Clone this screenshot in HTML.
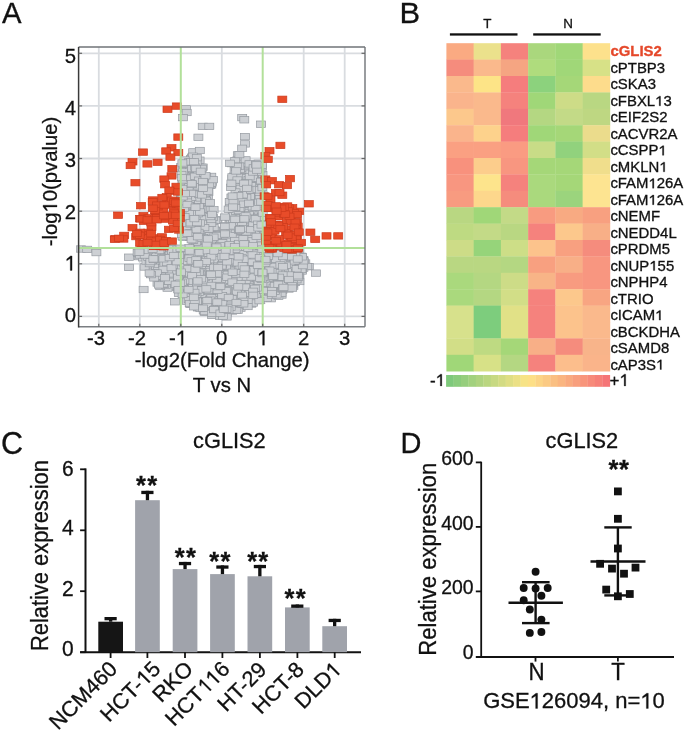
<!DOCTYPE html>
<html><head><meta charset="utf-8"><style>
html,body{margin:0;padding:0;background:#fff;width:685px;height:731px;overflow:hidden}
svg{display:block;will-change:transform}
text{font-family:"Liberation Sans", sans-serif;stroke-width:0.3px}
</style></head><body>
<svg width="685" height="731" viewBox="0 0 685 731">
<rect width="685" height="731" fill="#fff"/>
<text x="2.0" y="23.1" font-size="30.18" textLength="19.54" lengthAdjust="spacingAndGlyphs" fill="#111" stroke="#111">A</text>
<line x1="98.8" y1="47.0" x2="98.8" y2="326.8" stroke="#d9dce0" stroke-width="1.8"/>
<line x1="139.8" y1="47.0" x2="139.8" y2="326.8" stroke="#d9dce0" stroke-width="1.8"/>
<line x1="221.8" y1="47.0" x2="221.8" y2="326.8" stroke="#d9dce0" stroke-width="1.8"/>
<line x1="303.7" y1="47.0" x2="303.7" y2="326.8" stroke="#d9dce0" stroke-width="1.8"/>
<line x1="344.7" y1="47.0" x2="344.7" y2="326.8" stroke="#d9dce0" stroke-width="1.8"/>
<line x1="78.6" y1="316.4" x2="365.0" y2="316.4" stroke="#d9dce0" stroke-width="1.8"/>
<line x1="78.6" y1="263.8" x2="365.0" y2="263.8" stroke="#d9dce0" stroke-width="1.8"/>
<line x1="78.6" y1="211.2" x2="365.0" y2="211.2" stroke="#d9dce0" stroke-width="1.8"/>
<line x1="78.6" y1="158.5" x2="365.0" y2="158.5" stroke="#d9dce0" stroke-width="1.8"/>
<line x1="78.6" y1="105.9" x2="365.0" y2="105.9" stroke="#d9dce0" stroke-width="1.8"/>
<line x1="78.6" y1="53.3" x2="365.0" y2="53.3" stroke="#d9dce0" stroke-width="1.8"/>
<g>
<rect x="181.5" y="105.7" width="9.0" height="6.4" fill="#cdd0d4" stroke="#959aa0" stroke-width="0.7"/>
<rect x="182.2" y="109.3" width="9.0" height="6.4" fill="#cdd0d4" stroke="#959aa0" stroke-width="0.7"/>
<rect x="178.5" y="114.4" width="9.0" height="6.4" fill="#cdd0d4" stroke="#959aa0" stroke-width="0.7"/>
<rect x="198.2" y="123.2" width="9.0" height="6.4" fill="#cdd0d4" stroke="#959aa0" stroke-width="0.7"/>
<rect x="204.8" y="123.2" width="9.0" height="6.4" fill="#cdd0d4" stroke="#959aa0" stroke-width="0.7"/>
<rect x="193.9" y="134.1" width="9.0" height="6.4" fill="#cdd0d4" stroke="#959aa0" stroke-width="0.7"/>
<rect x="188.7" y="148.7" width="9.0" height="6.4" fill="#cdd0d4" stroke="#959aa0" stroke-width="0.7"/>
<rect x="195.3" y="147.3" width="9.0" height="6.4" fill="#cdd0d4" stroke="#959aa0" stroke-width="0.7"/>
<rect x="186.6" y="156.0" width="9.0" height="6.4" fill="#cdd0d4" stroke="#959aa0" stroke-width="0.7"/>
<rect x="185.1" y="160.4" width="9.0" height="6.4" fill="#cdd0d4" stroke="#959aa0" stroke-width="0.7"/>
<rect x="192.4" y="160.4" width="9.0" height="6.4" fill="#cdd0d4" stroke="#959aa0" stroke-width="0.7"/>
<rect x="196.8" y="164.1" width="9.0" height="6.4" fill="#cdd0d4" stroke="#959aa0" stroke-width="0.7"/>
<rect x="237.7" y="114.4" width="9.0" height="6.4" fill="#cdd0d4" stroke="#959aa0" stroke-width="0.7"/>
<rect x="239.8" y="116.6" width="9.0" height="6.4" fill="#cdd0d4" stroke="#959aa0" stroke-width="0.7"/>
<rect x="256.6" y="121.0" width="9.0" height="6.4" fill="#cdd0d4" stroke="#959aa0" stroke-width="0.7"/>
<rect x="240.6" y="133.4" width="9.0" height="6.4" fill="#cdd0d4" stroke="#959aa0" stroke-width="0.7"/>
<rect x="240.6" y="140.7" width="9.0" height="6.4" fill="#cdd0d4" stroke="#959aa0" stroke-width="0.7"/>
<rect x="237.7" y="145.1" width="9.0" height="6.4" fill="#cdd0d4" stroke="#959aa0" stroke-width="0.7"/>
<rect x="233.3" y="151.7" width="9.0" height="6.4" fill="#cdd0d4" stroke="#959aa0" stroke-width="0.7"/>
<rect x="227.4" y="160.4" width="9.0" height="6.4" fill="#cdd0d4" stroke="#959aa0" stroke-width="0.7"/>
<rect x="238.4" y="159.0" width="9.0" height="6.4" fill="#cdd0d4" stroke="#959aa0" stroke-width="0.7"/>
<rect x="255.2" y="161.1" width="9.0" height="6.4" fill="#cdd0d4" stroke="#959aa0" stroke-width="0.7"/>
<rect x="76.6" y="245.8" width="9.0" height="6.4" fill="#cdd0d4" stroke="#959aa0" stroke-width="0.7"/>
<rect x="82.7" y="246.2" width="9.0" height="6.4" fill="#cdd0d4" stroke="#959aa0" stroke-width="0.7"/>
<rect x="91.9" y="249.4" width="9.0" height="6.4" fill="#cdd0d4" stroke="#959aa0" stroke-width="0.7"/>
<rect x="124.6" y="254.0" width="9.0" height="6.4" fill="#cdd0d4" stroke="#959aa0" stroke-width="0.7"/>
<rect x="124.6" y="264.2" width="9.0" height="6.4" fill="#cdd0d4" stroke="#959aa0" stroke-width="0.7"/>
<rect x="139.1" y="286.3" width="9.0" height="6.4" fill="#cdd0d4" stroke="#959aa0" stroke-width="0.7"/>
<rect x="170.5" y="298.6" width="9.0" height="6.4" fill="#cdd0d4" stroke="#959aa0" stroke-width="0.7"/>
<rect x="298.7" y="260.3" width="9.0" height="6.4" fill="#cdd0d4" stroke="#959aa0" stroke-width="0.7"/>
<rect x="304.3" y="263.5" width="9.0" height="6.4" fill="#cdd0d4" stroke="#959aa0" stroke-width="0.7"/>
<rect x="311.5" y="269.9" width="9.0" height="6.4" fill="#cdd0d4" stroke="#959aa0" stroke-width="0.7"/>
<rect x="178.5" y="167.1" width="9.0" height="6.4" fill="#cdd0d4" stroke="#959aa0" stroke-width="0.7"/>
<rect x="248.4" y="206.2" width="9.0" height="6.4" fill="#cdd0d4" stroke="#959aa0" stroke-width="0.7"/>
<rect x="198.2" y="164.0" width="9.0" height="6.4" fill="#cdd0d4" stroke="#959aa0" stroke-width="0.7"/>
<rect x="277.1" y="291.8" width="9.0" height="6.4" fill="#cdd0d4" stroke="#959aa0" stroke-width="0.7"/>
<rect x="134.6" y="253.4" width="9.0" height="6.4" fill="#cdd0d4" stroke="#959aa0" stroke-width="0.7"/>
<rect x="146.0" y="253.9" width="9.0" height="6.4" fill="#cdd0d4" stroke="#959aa0" stroke-width="0.7"/>
<rect x="256.0" y="270.3" width="9.0" height="6.4" fill="#cdd0d4" stroke="#959aa0" stroke-width="0.7"/>
<rect x="246.8" y="300.8" width="9.0" height="6.4" fill="#cdd0d4" stroke="#959aa0" stroke-width="0.7"/>
<rect x="176.7" y="211.0" width="9.0" height="6.4" fill="#cdd0d4" stroke="#959aa0" stroke-width="0.7"/>
<rect x="240.8" y="281.1" width="9.0" height="6.4" fill="#cdd0d4" stroke="#959aa0" stroke-width="0.7"/>
<rect x="180.2" y="157.8" width="9.0" height="6.4" fill="#cdd0d4" stroke="#959aa0" stroke-width="0.7"/>
<rect x="202.8" y="238.5" width="9.0" height="6.4" fill="#cdd0d4" stroke="#959aa0" stroke-width="0.7"/>
<rect x="222.8" y="276.1" width="9.0" height="6.4" fill="#cdd0d4" stroke="#959aa0" stroke-width="0.7"/>
<rect x="278.4" y="282.3" width="9.0" height="6.4" fill="#cdd0d4" stroke="#959aa0" stroke-width="0.7"/>
<rect x="285.9" y="265.3" width="9.0" height="6.4" fill="#cdd0d4" stroke="#959aa0" stroke-width="0.7"/>
<rect x="261.0" y="287.6" width="9.0" height="6.4" fill="#cdd0d4" stroke="#959aa0" stroke-width="0.7"/>
<rect x="172.3" y="247.9" width="9.0" height="6.4" fill="#cdd0d4" stroke="#959aa0" stroke-width="0.7"/>
<rect x="232.3" y="260.9" width="9.0" height="6.4" fill="#cdd0d4" stroke="#959aa0" stroke-width="0.7"/>
<rect x="252.0" y="191.3" width="9.0" height="6.4" fill="#cdd0d4" stroke="#959aa0" stroke-width="0.7"/>
<rect x="245.7" y="278.2" width="9.0" height="6.4" fill="#cdd0d4" stroke="#959aa0" stroke-width="0.7"/>
<rect x="245.9" y="180.7" width="9.0" height="6.4" fill="#cdd0d4" stroke="#959aa0" stroke-width="0.7"/>
<rect x="161.9" y="251.8" width="9.0" height="6.4" fill="#cdd0d4" stroke="#959aa0" stroke-width="0.7"/>
<rect x="197.5" y="281.5" width="9.0" height="6.4" fill="#cdd0d4" stroke="#959aa0" stroke-width="0.7"/>
<rect x="271.5" y="247.4" width="9.0" height="6.4" fill="#cdd0d4" stroke="#959aa0" stroke-width="0.7"/>
<rect x="182.5" y="298.0" width="9.0" height="6.4" fill="#cdd0d4" stroke="#959aa0" stroke-width="0.7"/>
<rect x="252.3" y="223.7" width="9.0" height="6.4" fill="#cdd0d4" stroke="#959aa0" stroke-width="0.7"/>
<rect x="146.5" y="269.9" width="9.0" height="6.4" fill="#cdd0d4" stroke="#959aa0" stroke-width="0.7"/>
<rect x="143.2" y="261.9" width="9.0" height="6.4" fill="#cdd0d4" stroke="#959aa0" stroke-width="0.7"/>
<rect x="185.4" y="234.2" width="9.0" height="6.4" fill="#cdd0d4" stroke="#959aa0" stroke-width="0.7"/>
<rect x="226.7" y="283.3" width="9.0" height="6.4" fill="#cdd0d4" stroke="#959aa0" stroke-width="0.7"/>
<rect x="220.8" y="226.0" width="9.0" height="6.4" fill="#cdd0d4" stroke="#959aa0" stroke-width="0.7"/>
<rect x="175.5" y="265.7" width="9.0" height="6.4" fill="#cdd0d4" stroke="#959aa0" stroke-width="0.7"/>
<rect x="243.9" y="235.9" width="9.0" height="6.4" fill="#cdd0d4" stroke="#959aa0" stroke-width="0.7"/>
<rect x="268.4" y="264.1" width="9.0" height="6.4" fill="#cdd0d4" stroke="#959aa0" stroke-width="0.7"/>
<rect x="300.8" y="259.8" width="9.0" height="6.4" fill="#cdd0d4" stroke="#959aa0" stroke-width="0.7"/>
<rect x="178.7" y="233.9" width="9.0" height="6.4" fill="#cdd0d4" stroke="#959aa0" stroke-width="0.7"/>
<rect x="211.7" y="246.4" width="9.0" height="6.4" fill="#cdd0d4" stroke="#959aa0" stroke-width="0.7"/>
<rect x="227.3" y="215.7" width="9.0" height="6.4" fill="#cdd0d4" stroke="#959aa0" stroke-width="0.7"/>
<rect x="206.7" y="263.1" width="9.0" height="6.4" fill="#cdd0d4" stroke="#959aa0" stroke-width="0.7"/>
<rect x="204.5" y="180.8" width="9.0" height="6.4" fill="#cdd0d4" stroke="#959aa0" stroke-width="0.7"/>
<rect x="245.0" y="210.4" width="9.0" height="6.4" fill="#cdd0d4" stroke="#959aa0" stroke-width="0.7"/>
<rect x="186.9" y="228.2" width="9.0" height="6.4" fill="#cdd0d4" stroke="#959aa0" stroke-width="0.7"/>
<rect x="159.7" y="274.6" width="9.0" height="6.4" fill="#cdd0d4" stroke="#959aa0" stroke-width="0.7"/>
<rect x="241.0" y="209.9" width="9.0" height="6.4" fill="#cdd0d4" stroke="#959aa0" stroke-width="0.7"/>
<rect x="188.4" y="225.0" width="9.0" height="6.4" fill="#cdd0d4" stroke="#959aa0" stroke-width="0.7"/>
<rect x="195.1" y="277.3" width="9.0" height="6.4" fill="#cdd0d4" stroke="#959aa0" stroke-width="0.7"/>
<rect x="187.0" y="172.6" width="9.0" height="6.4" fill="#cdd0d4" stroke="#959aa0" stroke-width="0.7"/>
<rect x="230.2" y="275.2" width="9.0" height="6.4" fill="#cdd0d4" stroke="#959aa0" stroke-width="0.7"/>
<rect x="229.6" y="201.2" width="9.0" height="6.4" fill="#cdd0d4" stroke="#959aa0" stroke-width="0.7"/>
<rect x="212.6" y="310.0" width="9.0" height="6.4" fill="#cdd0d4" stroke="#959aa0" stroke-width="0.7"/>
<rect x="237.4" y="202.7" width="9.0" height="6.4" fill="#cdd0d4" stroke="#959aa0" stroke-width="0.7"/>
<rect x="219.5" y="265.8" width="9.0" height="6.4" fill="#cdd0d4" stroke="#959aa0" stroke-width="0.7"/>
<rect x="246.1" y="184.5" width="9.0" height="6.4" fill="#cdd0d4" stroke="#959aa0" stroke-width="0.7"/>
<rect x="287.1" y="276.6" width="9.0" height="6.4" fill="#cdd0d4" stroke="#959aa0" stroke-width="0.7"/>
<rect x="136.6" y="248.7" width="9.0" height="6.4" fill="#cdd0d4" stroke="#959aa0" stroke-width="0.7"/>
<rect x="156.8" y="262.2" width="9.0" height="6.4" fill="#cdd0d4" stroke="#959aa0" stroke-width="0.7"/>
<rect x="165.6" y="247.8" width="9.0" height="6.4" fill="#cdd0d4" stroke="#959aa0" stroke-width="0.7"/>
<rect x="189.0" y="167.8" width="9.0" height="6.4" fill="#cdd0d4" stroke="#959aa0" stroke-width="0.7"/>
<rect x="196.4" y="297.8" width="9.0" height="6.4" fill="#cdd0d4" stroke="#959aa0" stroke-width="0.7"/>
<rect x="214.7" y="256.8" width="9.0" height="6.4" fill="#cdd0d4" stroke="#959aa0" stroke-width="0.7"/>
<rect x="225.9" y="217.1" width="9.0" height="6.4" fill="#cdd0d4" stroke="#959aa0" stroke-width="0.7"/>
<rect x="162.8" y="256.6" width="9.0" height="6.4" fill="#cdd0d4" stroke="#959aa0" stroke-width="0.7"/>
<rect x="264.1" y="278.7" width="9.0" height="6.4" fill="#cdd0d4" stroke="#959aa0" stroke-width="0.7"/>
<rect x="200.3" y="263.5" width="9.0" height="6.4" fill="#cdd0d4" stroke="#959aa0" stroke-width="0.7"/>
<rect x="225.0" y="220.2" width="9.0" height="6.4" fill="#cdd0d4" stroke="#959aa0" stroke-width="0.7"/>
<rect x="189.8" y="277.7" width="9.0" height="6.4" fill="#cdd0d4" stroke="#959aa0" stroke-width="0.7"/>
<rect x="164.7" y="267.3" width="9.0" height="6.4" fill="#cdd0d4" stroke="#959aa0" stroke-width="0.7"/>
<rect x="238.5" y="218.2" width="9.0" height="6.4" fill="#cdd0d4" stroke="#959aa0" stroke-width="0.7"/>
<rect x="191.8" y="212.4" width="9.0" height="6.4" fill="#cdd0d4" stroke="#959aa0" stroke-width="0.7"/>
<rect x="179.3" y="164.7" width="9.0" height="6.4" fill="#cdd0d4" stroke="#959aa0" stroke-width="0.7"/>
<rect x="290.4" y="279.3" width="9.0" height="6.4" fill="#cdd0d4" stroke="#959aa0" stroke-width="0.7"/>
<rect x="280.3" y="261.9" width="9.0" height="6.4" fill="#cdd0d4" stroke="#959aa0" stroke-width="0.7"/>
<rect x="271.3" y="246.1" width="9.0" height="6.4" fill="#cdd0d4" stroke="#959aa0" stroke-width="0.7"/>
<rect x="275.8" y="282.6" width="9.0" height="6.4" fill="#cdd0d4" stroke="#959aa0" stroke-width="0.7"/>
<rect x="184.6" y="296.2" width="9.0" height="6.4" fill="#cdd0d4" stroke="#959aa0" stroke-width="0.7"/>
<rect x="264.8" y="246.7" width="9.0" height="6.4" fill="#cdd0d4" stroke="#959aa0" stroke-width="0.7"/>
<rect x="196.5" y="257.1" width="9.0" height="6.4" fill="#cdd0d4" stroke="#959aa0" stroke-width="0.7"/>
<rect x="228.4" y="208.0" width="9.0" height="6.4" fill="#cdd0d4" stroke="#959aa0" stroke-width="0.7"/>
<rect x="255.0" y="275.1" width="9.0" height="6.4" fill="#cdd0d4" stroke="#959aa0" stroke-width="0.7"/>
<rect x="251.6" y="281.6" width="9.0" height="6.4" fill="#cdd0d4" stroke="#959aa0" stroke-width="0.7"/>
<rect x="209.5" y="285.3" width="9.0" height="6.4" fill="#cdd0d4" stroke="#959aa0" stroke-width="0.7"/>
<rect x="199.2" y="307.5" width="9.0" height="6.4" fill="#cdd0d4" stroke="#959aa0" stroke-width="0.7"/>
<rect x="164.8" y="275.9" width="9.0" height="6.4" fill="#cdd0d4" stroke="#959aa0" stroke-width="0.7"/>
<rect x="193.5" y="196.8" width="9.0" height="6.4" fill="#cdd0d4" stroke="#959aa0" stroke-width="0.7"/>
<rect x="216.5" y="289.6" width="9.0" height="6.4" fill="#cdd0d4" stroke="#959aa0" stroke-width="0.7"/>
<rect x="254.1" y="277.6" width="9.0" height="6.4" fill="#cdd0d4" stroke="#959aa0" stroke-width="0.7"/>
<rect x="258.0" y="171.3" width="9.0" height="6.4" fill="#cdd0d4" stroke="#959aa0" stroke-width="0.7"/>
<rect x="258.0" y="285.8" width="9.0" height="6.4" fill="#cdd0d4" stroke="#959aa0" stroke-width="0.7"/>
<rect x="282.6" y="256.9" width="9.0" height="6.4" fill="#cdd0d4" stroke="#959aa0" stroke-width="0.7"/>
<rect x="210.6" y="241.5" width="9.0" height="6.4" fill="#cdd0d4" stroke="#959aa0" stroke-width="0.7"/>
<rect x="181.8" y="279.1" width="9.0" height="6.4" fill="#cdd0d4" stroke="#959aa0" stroke-width="0.7"/>
<rect x="248.4" y="224.6" width="9.0" height="6.4" fill="#cdd0d4" stroke="#959aa0" stroke-width="0.7"/>
<rect x="187.8" y="187.0" width="9.0" height="6.4" fill="#cdd0d4" stroke="#959aa0" stroke-width="0.7"/>
<rect x="226.3" y="281.7" width="9.0" height="6.4" fill="#cdd0d4" stroke="#959aa0" stroke-width="0.7"/>
<rect x="221.9" y="252.4" width="9.0" height="6.4" fill="#cdd0d4" stroke="#959aa0" stroke-width="0.7"/>
<rect x="163.8" y="275.2" width="9.0" height="6.4" fill="#cdd0d4" stroke="#959aa0" stroke-width="0.7"/>
<rect x="255.9" y="185.6" width="9.0" height="6.4" fill="#cdd0d4" stroke="#959aa0" stroke-width="0.7"/>
<rect x="189.3" y="223.2" width="9.0" height="6.4" fill="#cdd0d4" stroke="#959aa0" stroke-width="0.7"/>
<rect x="187.3" y="154.0" width="9.0" height="6.4" fill="#cdd0d4" stroke="#959aa0" stroke-width="0.7"/>
<rect x="156.4" y="277.2" width="9.0" height="6.4" fill="#cdd0d4" stroke="#959aa0" stroke-width="0.7"/>
<rect x="287.7" y="274.5" width="9.0" height="6.4" fill="#cdd0d4" stroke="#959aa0" stroke-width="0.7"/>
<rect x="176.1" y="252.0" width="9.0" height="6.4" fill="#cdd0d4" stroke="#959aa0" stroke-width="0.7"/>
<rect x="177.8" y="290.2" width="9.0" height="6.4" fill="#cdd0d4" stroke="#959aa0" stroke-width="0.7"/>
<rect x="245.3" y="285.0" width="9.0" height="6.4" fill="#cdd0d4" stroke="#959aa0" stroke-width="0.7"/>
<rect x="238.9" y="229.2" width="9.0" height="6.4" fill="#cdd0d4" stroke="#959aa0" stroke-width="0.7"/>
<rect x="250.0" y="220.9" width="9.0" height="6.4" fill="#cdd0d4" stroke="#959aa0" stroke-width="0.7"/>
<rect x="240.6" y="190.0" width="9.0" height="6.4" fill="#cdd0d4" stroke="#959aa0" stroke-width="0.7"/>
<rect x="183.3" y="160.3" width="9.0" height="6.4" fill="#cdd0d4" stroke="#959aa0" stroke-width="0.7"/>
<rect x="242.6" y="200.5" width="9.0" height="6.4" fill="#cdd0d4" stroke="#959aa0" stroke-width="0.7"/>
<rect x="232.4" y="221.3" width="9.0" height="6.4" fill="#cdd0d4" stroke="#959aa0" stroke-width="0.7"/>
<rect x="240.0" y="193.2" width="9.0" height="6.4" fill="#cdd0d4" stroke="#959aa0" stroke-width="0.7"/>
<rect x="207.5" y="289.9" width="9.0" height="6.4" fill="#cdd0d4" stroke="#959aa0" stroke-width="0.7"/>
<rect x="184.4" y="172.5" width="9.0" height="6.4" fill="#cdd0d4" stroke="#959aa0" stroke-width="0.7"/>
<rect x="179.3" y="190.7" width="9.0" height="6.4" fill="#cdd0d4" stroke="#959aa0" stroke-width="0.7"/>
<rect x="282.3" y="270.0" width="9.0" height="6.4" fill="#cdd0d4" stroke="#959aa0" stroke-width="0.7"/>
<rect x="209.7" y="294.4" width="9.0" height="6.4" fill="#cdd0d4" stroke="#959aa0" stroke-width="0.7"/>
<rect x="161.6" y="281.7" width="9.0" height="6.4" fill="#cdd0d4" stroke="#959aa0" stroke-width="0.7"/>
<rect x="203.6" y="303.5" width="9.0" height="6.4" fill="#cdd0d4" stroke="#959aa0" stroke-width="0.7"/>
<rect x="200.1" y="265.0" width="9.0" height="6.4" fill="#cdd0d4" stroke="#959aa0" stroke-width="0.7"/>
<rect x="274.7" y="281.4" width="9.0" height="6.4" fill="#cdd0d4" stroke="#959aa0" stroke-width="0.7"/>
<rect x="298.9" y="264.9" width="9.0" height="6.4" fill="#cdd0d4" stroke="#959aa0" stroke-width="0.7"/>
<rect x="227.9" y="175.4" width="9.0" height="6.4" fill="#cdd0d4" stroke="#959aa0" stroke-width="0.7"/>
<rect x="247.2" y="283.7" width="9.0" height="6.4" fill="#cdd0d4" stroke="#959aa0" stroke-width="0.7"/>
<rect x="280.5" y="266.4" width="9.0" height="6.4" fill="#cdd0d4" stroke="#959aa0" stroke-width="0.7"/>
<rect x="212.3" y="216.7" width="9.0" height="6.4" fill="#cdd0d4" stroke="#959aa0" stroke-width="0.7"/>
<rect x="257.3" y="163.7" width="9.0" height="6.4" fill="#cdd0d4" stroke="#959aa0" stroke-width="0.7"/>
<rect x="176.6" y="190.4" width="9.0" height="6.4" fill="#cdd0d4" stroke="#959aa0" stroke-width="0.7"/>
<rect x="245.4" y="164.9" width="9.0" height="6.4" fill="#cdd0d4" stroke="#959aa0" stroke-width="0.7"/>
<rect x="197.1" y="247.8" width="9.0" height="6.4" fill="#cdd0d4" stroke="#959aa0" stroke-width="0.7"/>
<rect x="251.2" y="225.0" width="9.0" height="6.4" fill="#cdd0d4" stroke="#959aa0" stroke-width="0.7"/>
<rect x="204.6" y="302.3" width="9.0" height="6.4" fill="#cdd0d4" stroke="#959aa0" stroke-width="0.7"/>
<rect x="211.2" y="228.3" width="9.0" height="6.4" fill="#cdd0d4" stroke="#959aa0" stroke-width="0.7"/>
<rect x="250.0" y="259.1" width="9.0" height="6.4" fill="#cdd0d4" stroke="#959aa0" stroke-width="0.7"/>
<rect x="186.4" y="155.7" width="9.0" height="6.4" fill="#cdd0d4" stroke="#959aa0" stroke-width="0.7"/>
<rect x="182.2" y="213.8" width="9.0" height="6.4" fill="#cdd0d4" stroke="#959aa0" stroke-width="0.7"/>
<rect x="204.9" y="295.2" width="9.0" height="6.4" fill="#cdd0d4" stroke="#959aa0" stroke-width="0.7"/>
<rect x="275.4" y="279.8" width="9.0" height="6.4" fill="#cdd0d4" stroke="#959aa0" stroke-width="0.7"/>
<rect x="192.7" y="201.0" width="9.0" height="6.4" fill="#cdd0d4" stroke="#959aa0" stroke-width="0.7"/>
<rect x="192.4" y="287.4" width="9.0" height="6.4" fill="#cdd0d4" stroke="#959aa0" stroke-width="0.7"/>
<rect x="206.7" y="297.6" width="9.0" height="6.4" fill="#cdd0d4" stroke="#959aa0" stroke-width="0.7"/>
<rect x="225.6" y="202.2" width="9.0" height="6.4" fill="#cdd0d4" stroke="#959aa0" stroke-width="0.7"/>
<rect x="189.4" y="191.2" width="9.0" height="6.4" fill="#cdd0d4" stroke="#959aa0" stroke-width="0.7"/>
<rect x="173.2" y="250.1" width="9.0" height="6.4" fill="#cdd0d4" stroke="#959aa0" stroke-width="0.7"/>
<rect x="254.2" y="215.6" width="9.0" height="6.4" fill="#cdd0d4" stroke="#959aa0" stroke-width="0.7"/>
<rect x="241.2" y="256.3" width="9.0" height="6.4" fill="#cdd0d4" stroke="#959aa0" stroke-width="0.7"/>
<rect x="270.3" y="263.0" width="9.0" height="6.4" fill="#cdd0d4" stroke="#959aa0" stroke-width="0.7"/>
<rect x="182.5" y="247.9" width="9.0" height="6.4" fill="#cdd0d4" stroke="#959aa0" stroke-width="0.7"/>
<rect x="198.4" y="242.7" width="9.0" height="6.4" fill="#cdd0d4" stroke="#959aa0" stroke-width="0.7"/>
<rect x="201.8" y="308.6" width="9.0" height="6.4" fill="#cdd0d4" stroke="#959aa0" stroke-width="0.7"/>
<rect x="195.1" y="224.5" width="9.0" height="6.4" fill="#cdd0d4" stroke="#959aa0" stroke-width="0.7"/>
<rect x="186.3" y="268.9" width="9.0" height="6.4" fill="#cdd0d4" stroke="#959aa0" stroke-width="0.7"/>
<rect x="299.1" y="258.6" width="9.0" height="6.4" fill="#cdd0d4" stroke="#959aa0" stroke-width="0.7"/>
<rect x="232.8" y="182.9" width="9.0" height="6.4" fill="#cdd0d4" stroke="#959aa0" stroke-width="0.7"/>
<rect x="194.9" y="206.6" width="9.0" height="6.4" fill="#cdd0d4" stroke="#959aa0" stroke-width="0.7"/>
<rect x="253.8" y="265.5" width="9.0" height="6.4" fill="#cdd0d4" stroke="#959aa0" stroke-width="0.7"/>
<rect x="238.9" y="228.7" width="9.0" height="6.4" fill="#cdd0d4" stroke="#959aa0" stroke-width="0.7"/>
<rect x="226.1" y="269.4" width="9.0" height="6.4" fill="#cdd0d4" stroke="#959aa0" stroke-width="0.7"/>
<rect x="246.1" y="290.6" width="9.0" height="6.4" fill="#cdd0d4" stroke="#959aa0" stroke-width="0.7"/>
<rect x="188.7" y="166.8" width="9.0" height="6.4" fill="#cdd0d4" stroke="#959aa0" stroke-width="0.7"/>
<rect x="229.0" y="255.0" width="9.0" height="6.4" fill="#cdd0d4" stroke="#959aa0" stroke-width="0.7"/>
<rect x="239.0" y="181.2" width="9.0" height="6.4" fill="#cdd0d4" stroke="#959aa0" stroke-width="0.7"/>
<rect x="209.1" y="226.4" width="9.0" height="6.4" fill="#cdd0d4" stroke="#959aa0" stroke-width="0.7"/>
<rect x="216.4" y="233.4" width="9.0" height="6.4" fill="#cdd0d4" stroke="#959aa0" stroke-width="0.7"/>
<rect x="191.4" y="241.6" width="9.0" height="6.4" fill="#cdd0d4" stroke="#959aa0" stroke-width="0.7"/>
<rect x="269.9" y="273.4" width="9.0" height="6.4" fill="#cdd0d4" stroke="#959aa0" stroke-width="0.7"/>
<rect x="205.9" y="181.4" width="9.0" height="6.4" fill="#cdd0d4" stroke="#959aa0" stroke-width="0.7"/>
<rect x="197.7" y="251.8" width="9.0" height="6.4" fill="#cdd0d4" stroke="#959aa0" stroke-width="0.7"/>
<rect x="183.5" y="204.0" width="9.0" height="6.4" fill="#cdd0d4" stroke="#959aa0" stroke-width="0.7"/>
<rect x="153.0" y="279.8" width="9.0" height="6.4" fill="#cdd0d4" stroke="#959aa0" stroke-width="0.7"/>
<rect x="206.8" y="181.6" width="9.0" height="6.4" fill="#cdd0d4" stroke="#959aa0" stroke-width="0.7"/>
<rect x="161.9" y="247.1" width="9.0" height="6.4" fill="#cdd0d4" stroke="#959aa0" stroke-width="0.7"/>
<rect x="210.8" y="227.1" width="9.0" height="6.4" fill="#cdd0d4" stroke="#959aa0" stroke-width="0.7"/>
<rect x="192.1" y="255.2" width="9.0" height="6.4" fill="#cdd0d4" stroke="#959aa0" stroke-width="0.7"/>
<rect x="200.8" y="207.9" width="9.0" height="6.4" fill="#cdd0d4" stroke="#959aa0" stroke-width="0.7"/>
<rect x="208.3" y="275.6" width="9.0" height="6.4" fill="#cdd0d4" stroke="#959aa0" stroke-width="0.7"/>
<rect x="182.2" y="273.5" width="9.0" height="6.4" fill="#cdd0d4" stroke="#959aa0" stroke-width="0.7"/>
<rect x="203.2" y="287.4" width="9.0" height="6.4" fill="#cdd0d4" stroke="#959aa0" stroke-width="0.7"/>
<rect x="205.7" y="234.3" width="9.0" height="6.4" fill="#cdd0d4" stroke="#959aa0" stroke-width="0.7"/>
<rect x="194.9" y="214.6" width="9.0" height="6.4" fill="#cdd0d4" stroke="#959aa0" stroke-width="0.7"/>
<rect x="254.8" y="208.9" width="9.0" height="6.4" fill="#cdd0d4" stroke="#959aa0" stroke-width="0.7"/>
<rect x="203.5" y="247.3" width="9.0" height="6.4" fill="#cdd0d4" stroke="#959aa0" stroke-width="0.7"/>
<rect x="210.1" y="308.4" width="9.0" height="6.4" fill="#cdd0d4" stroke="#959aa0" stroke-width="0.7"/>
<rect x="231.9" y="210.9" width="9.0" height="6.4" fill="#cdd0d4" stroke="#959aa0" stroke-width="0.7"/>
<rect x="240.8" y="208.4" width="9.0" height="6.4" fill="#cdd0d4" stroke="#959aa0" stroke-width="0.7"/>
<rect x="211.4" y="230.7" width="9.0" height="6.4" fill="#cdd0d4" stroke="#959aa0" stroke-width="0.7"/>
<rect x="193.1" y="280.4" width="9.0" height="6.4" fill="#cdd0d4" stroke="#959aa0" stroke-width="0.7"/>
<rect x="185.8" y="276.6" width="9.0" height="6.4" fill="#cdd0d4" stroke="#959aa0" stroke-width="0.7"/>
<rect x="242.1" y="162.6" width="9.0" height="6.4" fill="#cdd0d4" stroke="#959aa0" stroke-width="0.7"/>
<rect x="294.0" y="270.6" width="9.0" height="6.4" fill="#cdd0d4" stroke="#959aa0" stroke-width="0.7"/>
<rect x="231.6" y="203.1" width="9.0" height="6.4" fill="#cdd0d4" stroke="#959aa0" stroke-width="0.7"/>
<rect x="193.1" y="251.0" width="9.0" height="6.4" fill="#cdd0d4" stroke="#959aa0" stroke-width="0.7"/>
<rect x="257.0" y="165.5" width="9.0" height="6.4" fill="#cdd0d4" stroke="#959aa0" stroke-width="0.7"/>
<rect x="228.2" y="208.4" width="9.0" height="6.4" fill="#cdd0d4" stroke="#959aa0" stroke-width="0.7"/>
<rect x="293.5" y="274.4" width="9.0" height="6.4" fill="#cdd0d4" stroke="#959aa0" stroke-width="0.7"/>
<rect x="239.7" y="268.5" width="9.0" height="6.4" fill="#cdd0d4" stroke="#959aa0" stroke-width="0.7"/>
<rect x="237.1" y="271.0" width="9.0" height="6.4" fill="#cdd0d4" stroke="#959aa0" stroke-width="0.7"/>
<rect x="198.2" y="204.3" width="9.0" height="6.4" fill="#cdd0d4" stroke="#959aa0" stroke-width="0.7"/>
<rect x="203.5" y="266.7" width="9.0" height="6.4" fill="#cdd0d4" stroke="#959aa0" stroke-width="0.7"/>
<rect x="258.6" y="249.9" width="9.0" height="6.4" fill="#cdd0d4" stroke="#959aa0" stroke-width="0.7"/>
<rect x="287.8" y="281.1" width="9.0" height="6.4" fill="#cdd0d4" stroke="#959aa0" stroke-width="0.7"/>
<rect x="212.9" y="233.9" width="9.0" height="6.4" fill="#cdd0d4" stroke="#959aa0" stroke-width="0.7"/>
<rect x="222.2" y="310.1" width="9.0" height="6.4" fill="#cdd0d4" stroke="#959aa0" stroke-width="0.7"/>
<rect x="168.5" y="284.0" width="9.0" height="6.4" fill="#cdd0d4" stroke="#959aa0" stroke-width="0.7"/>
<rect x="195.1" y="157.0" width="9.0" height="6.4" fill="#cdd0d4" stroke="#959aa0" stroke-width="0.7"/>
<rect x="203.5" y="192.7" width="9.0" height="6.4" fill="#cdd0d4" stroke="#959aa0" stroke-width="0.7"/>
<rect x="202.4" y="237.5" width="9.0" height="6.4" fill="#cdd0d4" stroke="#959aa0" stroke-width="0.7"/>
<rect x="202.0" y="281.7" width="9.0" height="6.4" fill="#cdd0d4" stroke="#959aa0" stroke-width="0.7"/>
<rect x="191.2" y="172.3" width="9.0" height="6.4" fill="#cdd0d4" stroke="#959aa0" stroke-width="0.7"/>
<rect x="200.2" y="308.9" width="9.0" height="6.4" fill="#cdd0d4" stroke="#959aa0" stroke-width="0.7"/>
<rect x="171.3" y="282.4" width="9.0" height="6.4" fill="#cdd0d4" stroke="#959aa0" stroke-width="0.7"/>
<rect x="275.1" y="284.1" width="9.0" height="6.4" fill="#cdd0d4" stroke="#959aa0" stroke-width="0.7"/>
<rect x="230.2" y="297.1" width="9.0" height="6.4" fill="#cdd0d4" stroke="#959aa0" stroke-width="0.7"/>
<rect x="214.3" y="272.2" width="9.0" height="6.4" fill="#cdd0d4" stroke="#959aa0" stroke-width="0.7"/>
<rect x="245.7" y="244.4" width="9.0" height="6.4" fill="#cdd0d4" stroke="#959aa0" stroke-width="0.7"/>
<rect x="240.6" y="265.7" width="9.0" height="6.4" fill="#cdd0d4" stroke="#959aa0" stroke-width="0.7"/>
<rect x="158.3" y="265.3" width="9.0" height="6.4" fill="#cdd0d4" stroke="#959aa0" stroke-width="0.7"/>
<rect x="223.0" y="280.2" width="9.0" height="6.4" fill="#cdd0d4" stroke="#959aa0" stroke-width="0.7"/>
<rect x="239.8" y="244.0" width="9.0" height="6.4" fill="#cdd0d4" stroke="#959aa0" stroke-width="0.7"/>
<rect x="240.4" y="210.7" width="9.0" height="6.4" fill="#cdd0d4" stroke="#959aa0" stroke-width="0.7"/>
<rect x="248.1" y="199.7" width="9.0" height="6.4" fill="#cdd0d4" stroke="#959aa0" stroke-width="0.7"/>
<rect x="238.9" y="266.4" width="9.0" height="6.4" fill="#cdd0d4" stroke="#959aa0" stroke-width="0.7"/>
<rect x="229.1" y="201.7" width="9.0" height="6.4" fill="#cdd0d4" stroke="#959aa0" stroke-width="0.7"/>
<rect x="185.5" y="296.9" width="9.0" height="6.4" fill="#cdd0d4" stroke="#959aa0" stroke-width="0.7"/>
<rect x="247.5" y="262.8" width="9.0" height="6.4" fill="#cdd0d4" stroke="#959aa0" stroke-width="0.7"/>
<rect x="196.7" y="289.1" width="9.0" height="6.4" fill="#cdd0d4" stroke="#959aa0" stroke-width="0.7"/>
<rect x="240.2" y="197.8" width="9.0" height="6.4" fill="#cdd0d4" stroke="#959aa0" stroke-width="0.7"/>
<rect x="197.2" y="210.9" width="9.0" height="6.4" fill="#cdd0d4" stroke="#959aa0" stroke-width="0.7"/>
<rect x="249.5" y="268.7" width="9.0" height="6.4" fill="#cdd0d4" stroke="#959aa0" stroke-width="0.7"/>
<rect x="277.4" y="281.5" width="9.0" height="6.4" fill="#cdd0d4" stroke="#959aa0" stroke-width="0.7"/>
<rect x="239.9" y="219.7" width="9.0" height="6.4" fill="#cdd0d4" stroke="#959aa0" stroke-width="0.7"/>
<rect x="177.6" y="191.3" width="9.0" height="6.4" fill="#cdd0d4" stroke="#959aa0" stroke-width="0.7"/>
<rect x="254.0" y="230.6" width="9.0" height="6.4" fill="#cdd0d4" stroke="#959aa0" stroke-width="0.7"/>
<rect x="234.9" y="201.4" width="9.0" height="6.4" fill="#cdd0d4" stroke="#959aa0" stroke-width="0.7"/>
<rect x="245.0" y="248.0" width="9.0" height="6.4" fill="#cdd0d4" stroke="#959aa0" stroke-width="0.7"/>
<rect x="193.3" y="173.5" width="9.0" height="6.4" fill="#cdd0d4" stroke="#959aa0" stroke-width="0.7"/>
<rect x="195.1" y="247.0" width="9.0" height="6.4" fill="#cdd0d4" stroke="#959aa0" stroke-width="0.7"/>
<rect x="179.5" y="190.2" width="9.0" height="6.4" fill="#cdd0d4" stroke="#959aa0" stroke-width="0.7"/>
<rect x="224.7" y="304.6" width="9.0" height="6.4" fill="#cdd0d4" stroke="#959aa0" stroke-width="0.7"/>
<rect x="193.2" y="169.7" width="9.0" height="6.4" fill="#cdd0d4" stroke="#959aa0" stroke-width="0.7"/>
<rect x="251.5" y="249.6" width="9.0" height="6.4" fill="#cdd0d4" stroke="#959aa0" stroke-width="0.7"/>
<rect x="189.2" y="220.1" width="9.0" height="6.4" fill="#cdd0d4" stroke="#959aa0" stroke-width="0.7"/>
<rect x="193.5" y="244.3" width="9.0" height="6.4" fill="#cdd0d4" stroke="#959aa0" stroke-width="0.7"/>
<rect x="207.9" y="236.1" width="9.0" height="6.4" fill="#cdd0d4" stroke="#959aa0" stroke-width="0.7"/>
<rect x="184.4" y="190.2" width="9.0" height="6.4" fill="#cdd0d4" stroke="#959aa0" stroke-width="0.7"/>
<rect x="133.6" y="250.1" width="9.0" height="6.4" fill="#cdd0d4" stroke="#959aa0" stroke-width="0.7"/>
<rect x="256.7" y="192.6" width="9.0" height="6.4" fill="#cdd0d4" stroke="#959aa0" stroke-width="0.7"/>
<rect x="190.0" y="174.9" width="9.0" height="6.4" fill="#cdd0d4" stroke="#959aa0" stroke-width="0.7"/>
<rect x="234.1" y="179.8" width="9.0" height="6.4" fill="#cdd0d4" stroke="#959aa0" stroke-width="0.7"/>
<rect x="205.3" y="175.7" width="9.0" height="6.4" fill="#cdd0d4" stroke="#959aa0" stroke-width="0.7"/>
<rect x="226.7" y="277.4" width="9.0" height="6.4" fill="#cdd0d4" stroke="#959aa0" stroke-width="0.7"/>
<rect x="210.8" y="217.0" width="9.0" height="6.4" fill="#cdd0d4" stroke="#959aa0" stroke-width="0.7"/>
<rect x="294.6" y="254.8" width="9.0" height="6.4" fill="#cdd0d4" stroke="#959aa0" stroke-width="0.7"/>
<rect x="188.0" y="202.8" width="9.0" height="6.4" fill="#cdd0d4" stroke="#959aa0" stroke-width="0.7"/>
<rect x="285.4" y="254.8" width="9.0" height="6.4" fill="#cdd0d4" stroke="#959aa0" stroke-width="0.7"/>
<rect x="181.1" y="268.8" width="9.0" height="6.4" fill="#cdd0d4" stroke="#959aa0" stroke-width="0.7"/>
<rect x="181.0" y="208.0" width="9.0" height="6.4" fill="#cdd0d4" stroke="#959aa0" stroke-width="0.7"/>
<rect x="298.9" y="256.5" width="9.0" height="6.4" fill="#cdd0d4" stroke="#959aa0" stroke-width="0.7"/>
<rect x="261.4" y="263.3" width="9.0" height="6.4" fill="#cdd0d4" stroke="#959aa0" stroke-width="0.7"/>
<rect x="176.5" y="163.7" width="9.0" height="6.4" fill="#cdd0d4" stroke="#959aa0" stroke-width="0.7"/>
<rect x="226.9" y="194.0" width="9.0" height="6.4" fill="#cdd0d4" stroke="#959aa0" stroke-width="0.7"/>
<rect x="236.6" y="198.9" width="9.0" height="6.4" fill="#cdd0d4" stroke="#959aa0" stroke-width="0.7"/>
<rect x="263.1" y="280.4" width="9.0" height="6.4" fill="#cdd0d4" stroke="#959aa0" stroke-width="0.7"/>
<rect x="247.2" y="265.7" width="9.0" height="6.4" fill="#cdd0d4" stroke="#959aa0" stroke-width="0.7"/>
<rect x="203.9" y="189.3" width="9.0" height="6.4" fill="#cdd0d4" stroke="#959aa0" stroke-width="0.7"/>
<rect x="188.1" y="290.9" width="9.0" height="6.4" fill="#cdd0d4" stroke="#959aa0" stroke-width="0.7"/>
<rect x="246.8" y="222.3" width="9.0" height="6.4" fill="#cdd0d4" stroke="#959aa0" stroke-width="0.7"/>
<rect x="185.8" y="221.8" width="9.0" height="6.4" fill="#cdd0d4" stroke="#959aa0" stroke-width="0.7"/>
<rect x="189.8" y="181.4" width="9.0" height="6.4" fill="#cdd0d4" stroke="#959aa0" stroke-width="0.7"/>
<rect x="185.0" y="254.7" width="9.0" height="6.4" fill="#cdd0d4" stroke="#959aa0" stroke-width="0.7"/>
<rect x="198.0" y="220.1" width="9.0" height="6.4" fill="#cdd0d4" stroke="#959aa0" stroke-width="0.7"/>
<rect x="164.8" y="265.8" width="9.0" height="6.4" fill="#cdd0d4" stroke="#959aa0" stroke-width="0.7"/>
<rect x="231.3" y="297.6" width="9.0" height="6.4" fill="#cdd0d4" stroke="#959aa0" stroke-width="0.7"/>
<rect x="253.5" y="255.3" width="9.0" height="6.4" fill="#cdd0d4" stroke="#959aa0" stroke-width="0.7"/>
<rect x="207.8" y="296.9" width="9.0" height="6.4" fill="#cdd0d4" stroke="#959aa0" stroke-width="0.7"/>
<rect x="278.6" y="284.8" width="9.0" height="6.4" fill="#cdd0d4" stroke="#959aa0" stroke-width="0.7"/>
<rect x="191.9" y="232.8" width="9.0" height="6.4" fill="#cdd0d4" stroke="#959aa0" stroke-width="0.7"/>
<rect x="188.7" y="194.2" width="9.0" height="6.4" fill="#cdd0d4" stroke="#959aa0" stroke-width="0.7"/>
<rect x="145.3" y="260.4" width="9.0" height="6.4" fill="#cdd0d4" stroke="#959aa0" stroke-width="0.7"/>
<rect x="180.9" y="264.8" width="9.0" height="6.4" fill="#cdd0d4" stroke="#959aa0" stroke-width="0.7"/>
<rect x="290.5" y="247.4" width="9.0" height="6.4" fill="#cdd0d4" stroke="#959aa0" stroke-width="0.7"/>
<rect x="177.5" y="171.3" width="9.0" height="6.4" fill="#cdd0d4" stroke="#959aa0" stroke-width="0.7"/>
<rect x="228.4" y="234.8" width="9.0" height="6.4" fill="#cdd0d4" stroke="#959aa0" stroke-width="0.7"/>
<rect x="191.9" y="296.3" width="9.0" height="6.4" fill="#cdd0d4" stroke="#959aa0" stroke-width="0.7"/>
<rect x="176.7" y="258.1" width="9.0" height="6.4" fill="#cdd0d4" stroke="#959aa0" stroke-width="0.7"/>
<rect x="200.3" y="294.5" width="9.0" height="6.4" fill="#cdd0d4" stroke="#959aa0" stroke-width="0.7"/>
<rect x="266.4" y="295.5" width="9.0" height="6.4" fill="#cdd0d4" stroke="#959aa0" stroke-width="0.7"/>
<rect x="257.7" y="286.3" width="9.0" height="6.4" fill="#cdd0d4" stroke="#959aa0" stroke-width="0.7"/>
<rect x="138.4" y="254.6" width="9.0" height="6.4" fill="#cdd0d4" stroke="#959aa0" stroke-width="0.7"/>
<rect x="206.3" y="279.2" width="9.0" height="6.4" fill="#cdd0d4" stroke="#959aa0" stroke-width="0.7"/>
<rect x="219.6" y="299.8" width="9.0" height="6.4" fill="#cdd0d4" stroke="#959aa0" stroke-width="0.7"/>
<rect x="238.1" y="199.9" width="9.0" height="6.4" fill="#cdd0d4" stroke="#959aa0" stroke-width="0.7"/>
<rect x="202.2" y="285.1" width="9.0" height="6.4" fill="#cdd0d4" stroke="#959aa0" stroke-width="0.7"/>
<rect x="239.8" y="206.6" width="9.0" height="6.4" fill="#cdd0d4" stroke="#959aa0" stroke-width="0.7"/>
<rect x="257.9" y="222.5" width="9.0" height="6.4" fill="#cdd0d4" stroke="#959aa0" stroke-width="0.7"/>
<rect x="238.0" y="167.2" width="9.0" height="6.4" fill="#cdd0d4" stroke="#959aa0" stroke-width="0.7"/>
<rect x="177.0" y="211.3" width="9.0" height="6.4" fill="#cdd0d4" stroke="#959aa0" stroke-width="0.7"/>
<rect x="254.0" y="160.0" width="9.0" height="6.4" fill="#cdd0d4" stroke="#959aa0" stroke-width="0.7"/>
<rect x="214.7" y="294.5" width="9.0" height="6.4" fill="#cdd0d4" stroke="#959aa0" stroke-width="0.7"/>
<rect x="268.5" y="266.8" width="9.0" height="6.4" fill="#cdd0d4" stroke="#959aa0" stroke-width="0.7"/>
<rect x="247.9" y="198.4" width="9.0" height="6.4" fill="#cdd0d4" stroke="#959aa0" stroke-width="0.7"/>
<rect x="214.8" y="299.0" width="9.0" height="6.4" fill="#cdd0d4" stroke="#959aa0" stroke-width="0.7"/>
<rect x="229.0" y="212.1" width="9.0" height="6.4" fill="#cdd0d4" stroke="#959aa0" stroke-width="0.7"/>
<rect x="221.2" y="263.1" width="9.0" height="6.4" fill="#cdd0d4" stroke="#959aa0" stroke-width="0.7"/>
<rect x="224.5" y="269.9" width="9.0" height="6.4" fill="#cdd0d4" stroke="#959aa0" stroke-width="0.7"/>
<rect x="245.8" y="208.5" width="9.0" height="6.4" fill="#cdd0d4" stroke="#959aa0" stroke-width="0.7"/>
<rect x="185.4" y="290.5" width="9.0" height="6.4" fill="#cdd0d4" stroke="#959aa0" stroke-width="0.7"/>
<rect x="220.9" y="222.3" width="9.0" height="6.4" fill="#cdd0d4" stroke="#959aa0" stroke-width="0.7"/>
<rect x="135.5" y="251.8" width="9.0" height="6.4" fill="#cdd0d4" stroke="#959aa0" stroke-width="0.7"/>
<rect x="165.3" y="275.4" width="9.0" height="6.4" fill="#cdd0d4" stroke="#959aa0" stroke-width="0.7"/>
<rect x="252.7" y="288.4" width="9.0" height="6.4" fill="#cdd0d4" stroke="#959aa0" stroke-width="0.7"/>
<rect x="241.5" y="164.9" width="9.0" height="6.4" fill="#cdd0d4" stroke="#959aa0" stroke-width="0.7"/>
<rect x="297.4" y="267.8" width="9.0" height="6.4" fill="#cdd0d4" stroke="#959aa0" stroke-width="0.7"/>
<rect x="253.3" y="256.3" width="9.0" height="6.4" fill="#cdd0d4" stroke="#959aa0" stroke-width="0.7"/>
<rect x="229.6" y="180.0" width="9.0" height="6.4" fill="#cdd0d4" stroke="#959aa0" stroke-width="0.7"/>
<rect x="239.6" y="173.5" width="9.0" height="6.4" fill="#cdd0d4" stroke="#959aa0" stroke-width="0.7"/>
<rect x="141.9" y="248.6" width="9.0" height="6.4" fill="#cdd0d4" stroke="#959aa0" stroke-width="0.7"/>
<rect x="203.9" y="242.5" width="9.0" height="6.4" fill="#cdd0d4" stroke="#959aa0" stroke-width="0.7"/>
<rect x="219.4" y="308.6" width="9.0" height="6.4" fill="#cdd0d4" stroke="#959aa0" stroke-width="0.7"/>
<rect x="198.9" y="214.3" width="9.0" height="6.4" fill="#cdd0d4" stroke="#959aa0" stroke-width="0.7"/>
<rect x="284.1" y="285.8" width="9.0" height="6.4" fill="#cdd0d4" stroke="#959aa0" stroke-width="0.7"/>
<rect x="140.1" y="263.8" width="9.0" height="6.4" fill="#cdd0d4" stroke="#959aa0" stroke-width="0.7"/>
<rect x="147.4" y="258.1" width="9.0" height="6.4" fill="#cdd0d4" stroke="#959aa0" stroke-width="0.7"/>
<rect x="270.9" y="276.8" width="9.0" height="6.4" fill="#cdd0d4" stroke="#959aa0" stroke-width="0.7"/>
<rect x="231.2" y="300.0" width="9.0" height="6.4" fill="#cdd0d4" stroke="#959aa0" stroke-width="0.7"/>
<rect x="177.1" y="227.8" width="9.0" height="6.4" fill="#cdd0d4" stroke="#959aa0" stroke-width="0.7"/>
<rect x="260.1" y="275.9" width="9.0" height="6.4" fill="#cdd0d4" stroke="#959aa0" stroke-width="0.7"/>
<rect x="238.4" y="185.9" width="9.0" height="6.4" fill="#cdd0d4" stroke="#959aa0" stroke-width="0.7"/>
<rect x="165.2" y="251.6" width="9.0" height="6.4" fill="#cdd0d4" stroke="#959aa0" stroke-width="0.7"/>
<rect x="213.5" y="307.5" width="9.0" height="6.4" fill="#cdd0d4" stroke="#959aa0" stroke-width="0.7"/>
<rect x="193.5" y="177.8" width="9.0" height="6.4" fill="#cdd0d4" stroke="#959aa0" stroke-width="0.7"/>
<rect x="293.5" y="263.9" width="9.0" height="6.4" fill="#cdd0d4" stroke="#959aa0" stroke-width="0.7"/>
<rect x="288.4" y="281.4" width="9.0" height="6.4" fill="#cdd0d4" stroke="#959aa0" stroke-width="0.7"/>
<rect x="212.5" y="277.5" width="9.0" height="6.4" fill="#cdd0d4" stroke="#959aa0" stroke-width="0.7"/>
<rect x="198.4" y="295.7" width="9.0" height="6.4" fill="#cdd0d4" stroke="#959aa0" stroke-width="0.7"/>
<rect x="179.1" y="170.1" width="9.0" height="6.4" fill="#cdd0d4" stroke="#959aa0" stroke-width="0.7"/>
<rect x="161.8" y="278.8" width="9.0" height="6.4" fill="#cdd0d4" stroke="#959aa0" stroke-width="0.7"/>
<rect x="184.6" y="187.6" width="9.0" height="6.4" fill="#cdd0d4" stroke="#959aa0" stroke-width="0.7"/>
<rect x="226.7" y="217.5" width="9.0" height="6.4" fill="#cdd0d4" stroke="#959aa0" stroke-width="0.7"/>
<rect x="199.7" y="231.3" width="9.0" height="6.4" fill="#cdd0d4" stroke="#959aa0" stroke-width="0.7"/>
<rect x="190.0" y="194.0" width="9.0" height="6.4" fill="#cdd0d4" stroke="#959aa0" stroke-width="0.7"/>
<rect x="195.4" y="205.2" width="9.0" height="6.4" fill="#cdd0d4" stroke="#959aa0" stroke-width="0.7"/>
<rect x="245.9" y="213.1" width="9.0" height="6.4" fill="#cdd0d4" stroke="#959aa0" stroke-width="0.7"/>
<rect x="175.6" y="273.8" width="9.0" height="6.4" fill="#cdd0d4" stroke="#959aa0" stroke-width="0.7"/>
<rect x="206.0" y="215.2" width="9.0" height="6.4" fill="#cdd0d4" stroke="#959aa0" stroke-width="0.7"/>
<rect x="242.0" y="256.0" width="9.0" height="6.4" fill="#cdd0d4" stroke="#959aa0" stroke-width="0.7"/>
<rect x="243.9" y="191.8" width="9.0" height="6.4" fill="#cdd0d4" stroke="#959aa0" stroke-width="0.7"/>
<rect x="276.1" y="247.1" width="9.0" height="6.4" fill="#cdd0d4" stroke="#959aa0" stroke-width="0.7"/>
<rect x="231.8" y="301.3" width="9.0" height="6.4" fill="#cdd0d4" stroke="#959aa0" stroke-width="0.7"/>
<rect x="232.6" y="186.9" width="9.0" height="6.4" fill="#cdd0d4" stroke="#959aa0" stroke-width="0.7"/>
<rect x="176.2" y="282.4" width="9.0" height="6.4" fill="#cdd0d4" stroke="#959aa0" stroke-width="0.7"/>
<rect x="184.2" y="296.4" width="9.0" height="6.4" fill="#cdd0d4" stroke="#959aa0" stroke-width="0.7"/>
<rect x="181.5" y="188.6" width="9.0" height="6.4" fill="#cdd0d4" stroke="#959aa0" stroke-width="0.7"/>
<rect x="253.6" y="225.8" width="9.0" height="6.4" fill="#cdd0d4" stroke="#959aa0" stroke-width="0.7"/>
<rect x="245.9" y="169.9" width="9.0" height="6.4" fill="#cdd0d4" stroke="#959aa0" stroke-width="0.7"/>
<rect x="226.8" y="260.7" width="9.0" height="6.4" fill="#cdd0d4" stroke="#959aa0" stroke-width="0.7"/>
<rect x="190.1" y="261.7" width="9.0" height="6.4" fill="#cdd0d4" stroke="#959aa0" stroke-width="0.7"/>
<rect x="184.7" y="200.7" width="9.0" height="6.4" fill="#cdd0d4" stroke="#959aa0" stroke-width="0.7"/>
<rect x="210.5" y="257.0" width="9.0" height="6.4" fill="#cdd0d4" stroke="#959aa0" stroke-width="0.7"/>
<rect x="192.3" y="267.7" width="9.0" height="6.4" fill="#cdd0d4" stroke="#959aa0" stroke-width="0.7"/>
<rect x="217.7" y="296.0" width="9.0" height="6.4" fill="#cdd0d4" stroke="#959aa0" stroke-width="0.7"/>
<rect x="226.9" y="285.0" width="9.0" height="6.4" fill="#cdd0d4" stroke="#959aa0" stroke-width="0.7"/>
<rect x="190.4" y="173.4" width="9.0" height="6.4" fill="#cdd0d4" stroke="#959aa0" stroke-width="0.7"/>
<rect x="241.0" y="163.4" width="9.0" height="6.4" fill="#cdd0d4" stroke="#959aa0" stroke-width="0.7"/>
<rect x="179.5" y="217.2" width="9.0" height="6.4" fill="#cdd0d4" stroke="#959aa0" stroke-width="0.7"/>
<rect x="206.8" y="173.2" width="9.0" height="6.4" fill="#cdd0d4" stroke="#959aa0" stroke-width="0.7"/>
<rect x="195.2" y="261.2" width="9.0" height="6.4" fill="#cdd0d4" stroke="#959aa0" stroke-width="0.7"/>
<rect x="220.4" y="236.3" width="9.0" height="6.4" fill="#cdd0d4" stroke="#959aa0" stroke-width="0.7"/>
<rect x="180.8" y="198.1" width="9.0" height="6.4" fill="#cdd0d4" stroke="#959aa0" stroke-width="0.7"/>
<rect x="155.6" y="248.1" width="9.0" height="6.4" fill="#cdd0d4" stroke="#959aa0" stroke-width="0.7"/>
<rect x="176.8" y="218.7" width="9.0" height="6.4" fill="#cdd0d4" stroke="#959aa0" stroke-width="0.7"/>
<rect x="240.7" y="288.0" width="9.0" height="6.4" fill="#cdd0d4" stroke="#959aa0" stroke-width="0.7"/>
<rect x="290.6" y="251.7" width="9.0" height="6.4" fill="#cdd0d4" stroke="#959aa0" stroke-width="0.7"/>
<rect x="200.1" y="243.7" width="9.0" height="6.4" fill="#cdd0d4" stroke="#959aa0" stroke-width="0.7"/>
<rect x="269.1" y="275.1" width="9.0" height="6.4" fill="#cdd0d4" stroke="#959aa0" stroke-width="0.7"/>
<rect x="283.9" y="272.3" width="9.0" height="6.4" fill="#cdd0d4" stroke="#959aa0" stroke-width="0.7"/>
<rect x="234.0" y="227.0" width="9.0" height="6.4" fill="#cdd0d4" stroke="#959aa0" stroke-width="0.7"/>
<rect x="230.0" y="249.5" width="9.0" height="6.4" fill="#cdd0d4" stroke="#959aa0" stroke-width="0.7"/>
<rect x="207.5" y="312.2" width="9.0" height="6.4" fill="#cdd0d4" stroke="#959aa0" stroke-width="0.7"/>
<rect x="192.9" y="300.5" width="9.0" height="6.4" fill="#cdd0d4" stroke="#959aa0" stroke-width="0.7"/>
<rect x="188.6" y="232.5" width="9.0" height="6.4" fill="#cdd0d4" stroke="#959aa0" stroke-width="0.7"/>
<rect x="277.9" y="286.9" width="9.0" height="6.4" fill="#cdd0d4" stroke="#959aa0" stroke-width="0.7"/>
<rect x="198.7" y="216.5" width="9.0" height="6.4" fill="#cdd0d4" stroke="#959aa0" stroke-width="0.7"/>
<rect x="292.4" y="277.4" width="9.0" height="6.4" fill="#cdd0d4" stroke="#959aa0" stroke-width="0.7"/>
<rect x="244.2" y="282.4" width="9.0" height="6.4" fill="#cdd0d4" stroke="#959aa0" stroke-width="0.7"/>
<rect x="186.7" y="301.1" width="9.0" height="6.4" fill="#cdd0d4" stroke="#959aa0" stroke-width="0.7"/>
<rect x="227.7" y="307.8" width="9.0" height="6.4" fill="#cdd0d4" stroke="#959aa0" stroke-width="0.7"/>
<rect x="232.7" y="283.9" width="9.0" height="6.4" fill="#cdd0d4" stroke="#959aa0" stroke-width="0.7"/>
<rect x="184.3" y="255.6" width="9.0" height="6.4" fill="#cdd0d4" stroke="#959aa0" stroke-width="0.7"/>
<rect x="273.9" y="293.1" width="9.0" height="6.4" fill="#cdd0d4" stroke="#959aa0" stroke-width="0.7"/>
<rect x="221.8" y="278.8" width="9.0" height="6.4" fill="#cdd0d4" stroke="#959aa0" stroke-width="0.7"/>
<rect x="165.4" y="268.7" width="9.0" height="6.4" fill="#cdd0d4" stroke="#959aa0" stroke-width="0.7"/>
<rect x="250.0" y="177.0" width="9.0" height="6.4" fill="#cdd0d4" stroke="#959aa0" stroke-width="0.7"/>
<rect x="196.0" y="190.0" width="9.0" height="6.4" fill="#cdd0d4" stroke="#959aa0" stroke-width="0.7"/>
<rect x="246.6" y="185.0" width="9.0" height="6.4" fill="#cdd0d4" stroke="#959aa0" stroke-width="0.7"/>
<rect x="200.3" y="193.9" width="9.0" height="6.4" fill="#cdd0d4" stroke="#959aa0" stroke-width="0.7"/>
<rect x="273.4" y="281.5" width="9.0" height="6.4" fill="#cdd0d4" stroke="#959aa0" stroke-width="0.7"/>
<rect x="189.8" y="172.5" width="9.0" height="6.4" fill="#cdd0d4" stroke="#959aa0" stroke-width="0.7"/>
<rect x="243.4" y="184.3" width="9.0" height="6.4" fill="#cdd0d4" stroke="#959aa0" stroke-width="0.7"/>
<rect x="189.8" y="181.0" width="9.0" height="6.4" fill="#cdd0d4" stroke="#959aa0" stroke-width="0.7"/>
<rect x="184.9" y="192.4" width="9.0" height="6.4" fill="#cdd0d4" stroke="#959aa0" stroke-width="0.7"/>
<rect x="158.6" y="264.1" width="9.0" height="6.4" fill="#cdd0d4" stroke="#959aa0" stroke-width="0.7"/>
<rect x="247.0" y="196.2" width="9.0" height="6.4" fill="#cdd0d4" stroke="#959aa0" stroke-width="0.7"/>
<rect x="207.3" y="179.2" width="9.0" height="6.4" fill="#cdd0d4" stroke="#959aa0" stroke-width="0.7"/>
<rect x="193.5" y="302.7" width="9.0" height="6.4" fill="#cdd0d4" stroke="#959aa0" stroke-width="0.7"/>
<rect x="203.1" y="276.6" width="9.0" height="6.4" fill="#cdd0d4" stroke="#959aa0" stroke-width="0.7"/>
<rect x="181.7" y="185.0" width="9.0" height="6.4" fill="#cdd0d4" stroke="#959aa0" stroke-width="0.7"/>
<rect x="191.0" y="204.4" width="9.0" height="6.4" fill="#cdd0d4" stroke="#959aa0" stroke-width="0.7"/>
<rect x="233.0" y="222.6" width="9.0" height="6.4" fill="#cdd0d4" stroke="#959aa0" stroke-width="0.7"/>
<rect x="245.5" y="274.0" width="9.0" height="6.4" fill="#cdd0d4" stroke="#959aa0" stroke-width="0.7"/>
<rect x="188.8" y="185.4" width="9.0" height="6.4" fill="#cdd0d4" stroke="#959aa0" stroke-width="0.7"/>
<rect x="255.3" y="271.9" width="9.0" height="6.4" fill="#cdd0d4" stroke="#959aa0" stroke-width="0.7"/>
<rect x="229.6" y="265.1" width="9.0" height="6.4" fill="#cdd0d4" stroke="#959aa0" stroke-width="0.7"/>
<rect x="179.1" y="208.5" width="9.0" height="6.4" fill="#cdd0d4" stroke="#959aa0" stroke-width="0.7"/>
<rect x="296.1" y="265.4" width="9.0" height="6.4" fill="#cdd0d4" stroke="#959aa0" stroke-width="0.7"/>
<rect x="168.1" y="245.1" width="9.0" height="6.4" fill="#cdd0d4" stroke="#959aa0" stroke-width="0.7"/>
<rect x="178.0" y="283.1" width="9.0" height="6.4" fill="#cdd0d4" stroke="#959aa0" stroke-width="0.7"/>
<rect x="268.1" y="253.2" width="9.0" height="6.4" fill="#cdd0d4" stroke="#959aa0" stroke-width="0.7"/>
<rect x="184.6" y="219.4" width="9.0" height="6.4" fill="#cdd0d4" stroke="#959aa0" stroke-width="0.7"/>
<rect x="242.9" y="277.9" width="9.0" height="6.4" fill="#cdd0d4" stroke="#959aa0" stroke-width="0.7"/>
<rect x="295.2" y="264.6" width="9.0" height="6.4" fill="#cdd0d4" stroke="#959aa0" stroke-width="0.7"/>
<rect x="248.3" y="195.5" width="9.0" height="6.4" fill="#cdd0d4" stroke="#959aa0" stroke-width="0.7"/>
<rect x="169.5" y="247.5" width="9.0" height="6.4" fill="#cdd0d4" stroke="#959aa0" stroke-width="0.7"/>
<rect x="149.2" y="272.6" width="9.0" height="6.4" fill="#cdd0d4" stroke="#959aa0" stroke-width="0.7"/>
<rect x="157.6" y="268.0" width="9.0" height="6.4" fill="#cdd0d4" stroke="#959aa0" stroke-width="0.7"/>
<rect x="167.1" y="247.1" width="9.0" height="6.4" fill="#cdd0d4" stroke="#959aa0" stroke-width="0.7"/>
<rect x="147.1" y="256.6" width="9.0" height="6.4" fill="#cdd0d4" stroke="#959aa0" stroke-width="0.7"/>
<rect x="201.7" y="303.7" width="9.0" height="6.4" fill="#cdd0d4" stroke="#959aa0" stroke-width="0.7"/>
<rect x="243.6" y="161.7" width="9.0" height="6.4" fill="#cdd0d4" stroke="#959aa0" stroke-width="0.7"/>
<rect x="187.7" y="161.5" width="9.0" height="6.4" fill="#cdd0d4" stroke="#959aa0" stroke-width="0.7"/>
<rect x="229.4" y="298.4" width="9.0" height="6.4" fill="#cdd0d4" stroke="#959aa0" stroke-width="0.7"/>
<rect x="146.9" y="247.9" width="9.0" height="6.4" fill="#cdd0d4" stroke="#959aa0" stroke-width="0.7"/>
<rect x="133.1" y="249.3" width="9.0" height="6.4" fill="#cdd0d4" stroke="#959aa0" stroke-width="0.7"/>
<rect x="200.8" y="291.5" width="9.0" height="6.4" fill="#cdd0d4" stroke="#959aa0" stroke-width="0.7"/>
<rect x="266.8" y="268.4" width="9.0" height="6.4" fill="#cdd0d4" stroke="#959aa0" stroke-width="0.7"/>
<rect x="194.3" y="239.7" width="9.0" height="6.4" fill="#cdd0d4" stroke="#959aa0" stroke-width="0.7"/>
<rect x="221.6" y="247.4" width="9.0" height="6.4" fill="#cdd0d4" stroke="#959aa0" stroke-width="0.7"/>
<rect x="184.5" y="271.9" width="9.0" height="6.4" fill="#cdd0d4" stroke="#959aa0" stroke-width="0.7"/>
<rect x="185.7" y="301.1" width="9.0" height="6.4" fill="#cdd0d4" stroke="#959aa0" stroke-width="0.7"/>
<rect x="198.6" y="281.1" width="9.0" height="6.4" fill="#cdd0d4" stroke="#959aa0" stroke-width="0.7"/>
<rect x="232.8" y="183.8" width="9.0" height="6.4" fill="#cdd0d4" stroke="#959aa0" stroke-width="0.7"/>
<rect x="257.8" y="218.0" width="9.0" height="6.4" fill="#cdd0d4" stroke="#959aa0" stroke-width="0.7"/>
<rect x="197.7" y="214.2" width="9.0" height="6.4" fill="#cdd0d4" stroke="#959aa0" stroke-width="0.7"/>
<rect x="230.3" y="218.5" width="9.0" height="6.4" fill="#cdd0d4" stroke="#959aa0" stroke-width="0.7"/>
<rect x="168.6" y="262.3" width="9.0" height="6.4" fill="#cdd0d4" stroke="#959aa0" stroke-width="0.7"/>
<rect x="177.9" y="179.3" width="9.0" height="6.4" fill="#cdd0d4" stroke="#959aa0" stroke-width="0.7"/>
<rect x="236.0" y="213.3" width="9.0" height="6.4" fill="#cdd0d4" stroke="#959aa0" stroke-width="0.7"/>
<rect x="151.5" y="264.1" width="9.0" height="6.4" fill="#cdd0d4" stroke="#959aa0" stroke-width="0.7"/>
<rect x="208.1" y="223.1" width="9.0" height="6.4" fill="#cdd0d4" stroke="#959aa0" stroke-width="0.7"/>
<rect x="286.8" y="272.6" width="9.0" height="6.4" fill="#cdd0d4" stroke="#959aa0" stroke-width="0.7"/>
<rect x="219.6" y="240.6" width="9.0" height="6.4" fill="#cdd0d4" stroke="#959aa0" stroke-width="0.7"/>
<rect x="200.2" y="308.4" width="9.0" height="6.4" fill="#cdd0d4" stroke="#959aa0" stroke-width="0.7"/>
<rect x="256.5" y="195.3" width="9.0" height="6.4" fill="#cdd0d4" stroke="#959aa0" stroke-width="0.7"/>
<rect x="170.3" y="275.4" width="9.0" height="6.4" fill="#cdd0d4" stroke="#959aa0" stroke-width="0.7"/>
<rect x="274.6" y="285.7" width="9.0" height="6.4" fill="#cdd0d4" stroke="#959aa0" stroke-width="0.7"/>
<rect x="155.7" y="246.1" width="9.0" height="6.4" fill="#cdd0d4" stroke="#959aa0" stroke-width="0.7"/>
<rect x="193.6" y="299.7" width="9.0" height="6.4" fill="#cdd0d4" stroke="#959aa0" stroke-width="0.7"/>
<rect x="287.9" y="252.4" width="9.0" height="6.4" fill="#cdd0d4" stroke="#959aa0" stroke-width="0.7"/>
<rect x="210.4" y="268.9" width="9.0" height="6.4" fill="#cdd0d4" stroke="#959aa0" stroke-width="0.7"/>
<rect x="190.7" y="267.8" width="9.0" height="6.4" fill="#cdd0d4" stroke="#959aa0" stroke-width="0.7"/>
<rect x="254.1" y="194.2" width="9.0" height="6.4" fill="#cdd0d4" stroke="#959aa0" stroke-width="0.7"/>
<rect x="237.2" y="174.5" width="9.0" height="6.4" fill="#cdd0d4" stroke="#959aa0" stroke-width="0.7"/>
<rect x="219.5" y="256.8" width="9.0" height="6.4" fill="#cdd0d4" stroke="#959aa0" stroke-width="0.7"/>
<rect x="267.5" y="290.2" width="9.0" height="6.4" fill="#cdd0d4" stroke="#959aa0" stroke-width="0.7"/>
<rect x="240.1" y="302.8" width="9.0" height="6.4" fill="#cdd0d4" stroke="#959aa0" stroke-width="0.7"/>
<rect x="192.2" y="159.1" width="9.0" height="6.4" fill="#cdd0d4" stroke="#959aa0" stroke-width="0.7"/>
<rect x="174.8" y="250.1" width="9.0" height="6.4" fill="#cdd0d4" stroke="#959aa0" stroke-width="0.7"/>
<rect x="178.0" y="278.6" width="9.0" height="6.4" fill="#cdd0d4" stroke="#959aa0" stroke-width="0.7"/>
<rect x="188.0" y="244.9" width="9.0" height="6.4" fill="#cdd0d4" stroke="#959aa0" stroke-width="0.7"/>
<rect x="251.0" y="233.5" width="9.0" height="6.4" fill="#cdd0d4" stroke="#959aa0" stroke-width="0.7"/>
<rect x="255.0" y="168.9" width="9.0" height="6.4" fill="#cdd0d4" stroke="#959aa0" stroke-width="0.7"/>
<rect x="155.1" y="250.8" width="9.0" height="6.4" fill="#cdd0d4" stroke="#959aa0" stroke-width="0.7"/>
<rect x="257.7" y="214.0" width="9.0" height="6.4" fill="#cdd0d4" stroke="#959aa0" stroke-width="0.7"/>
<rect x="232.1" y="216.7" width="9.0" height="6.4" fill="#cdd0d4" stroke="#959aa0" stroke-width="0.7"/>
<rect x="236.1" y="304.9" width="9.0" height="6.4" fill="#cdd0d4" stroke="#959aa0" stroke-width="0.7"/>
<rect x="247.0" y="195.3" width="9.0" height="6.4" fill="#cdd0d4" stroke="#959aa0" stroke-width="0.7"/>
<rect x="270.4" y="264.0" width="9.0" height="6.4" fill="#cdd0d4" stroke="#959aa0" stroke-width="0.7"/>
<rect x="192.2" y="300.4" width="9.0" height="6.4" fill="#cdd0d4" stroke="#959aa0" stroke-width="0.7"/>
<rect x="276.8" y="255.0" width="9.0" height="6.4" fill="#cdd0d4" stroke="#959aa0" stroke-width="0.7"/>
<rect x="236.2" y="232.7" width="9.0" height="6.4" fill="#cdd0d4" stroke="#959aa0" stroke-width="0.7"/>
<rect x="148.6" y="248.7" width="9.0" height="6.4" fill="#cdd0d4" stroke="#959aa0" stroke-width="0.7"/>
<rect x="229.7" y="172.8" width="9.0" height="6.4" fill="#cdd0d4" stroke="#959aa0" stroke-width="0.7"/>
<rect x="286.7" y="280.4" width="9.0" height="6.4" fill="#cdd0d4" stroke="#959aa0" stroke-width="0.7"/>
<rect x="254.5" y="242.4" width="9.0" height="6.4" fill="#cdd0d4" stroke="#959aa0" stroke-width="0.7"/>
<rect x="248.6" y="211.1" width="9.0" height="6.4" fill="#cdd0d4" stroke="#959aa0" stroke-width="0.7"/>
<rect x="206.4" y="179.0" width="9.0" height="6.4" fill="#cdd0d4" stroke="#959aa0" stroke-width="0.7"/>
<rect x="241.5" y="212.1" width="9.0" height="6.4" fill="#cdd0d4" stroke="#959aa0" stroke-width="0.7"/>
<rect x="195.2" y="303.8" width="9.0" height="6.4" fill="#cdd0d4" stroke="#959aa0" stroke-width="0.7"/>
<rect x="227.5" y="254.9" width="9.0" height="6.4" fill="#cdd0d4" stroke="#959aa0" stroke-width="0.7"/>
<rect x="186.4" y="217.9" width="9.0" height="6.4" fill="#cdd0d4" stroke="#959aa0" stroke-width="0.7"/>
<rect x="171.2" y="255.2" width="9.0" height="6.4" fill="#cdd0d4" stroke="#959aa0" stroke-width="0.7"/>
<rect x="229.8" y="195.5" width="9.0" height="6.4" fill="#cdd0d4" stroke="#959aa0" stroke-width="0.7"/>
<rect x="249.6" y="175.6" width="9.0" height="6.4" fill="#cdd0d4" stroke="#959aa0" stroke-width="0.7"/>
<rect x="211.1" y="231.6" width="9.0" height="6.4" fill="#cdd0d4" stroke="#959aa0" stroke-width="0.7"/>
<rect x="230.5" y="225.3" width="9.0" height="6.4" fill="#cdd0d4" stroke="#959aa0" stroke-width="0.7"/>
<rect x="244.2" y="263.0" width="9.0" height="6.4" fill="#cdd0d4" stroke="#959aa0" stroke-width="0.7"/>
<rect x="166.2" y="260.8" width="9.0" height="6.4" fill="#cdd0d4" stroke="#959aa0" stroke-width="0.7"/>
<rect x="159.8" y="281.2" width="9.0" height="6.4" fill="#cdd0d4" stroke="#959aa0" stroke-width="0.7"/>
<rect x="160.6" y="266.3" width="9.0" height="6.4" fill="#cdd0d4" stroke="#959aa0" stroke-width="0.7"/>
<rect x="282.4" y="283.4" width="9.0" height="6.4" fill="#cdd0d4" stroke="#959aa0" stroke-width="0.7"/>
<rect x="169.9" y="249.9" width="9.0" height="6.4" fill="#cdd0d4" stroke="#959aa0" stroke-width="0.7"/>
<rect x="194.9" y="234.2" width="9.0" height="6.4" fill="#cdd0d4" stroke="#959aa0" stroke-width="0.7"/>
<rect x="184.2" y="200.0" width="9.0" height="6.4" fill="#cdd0d4" stroke="#959aa0" stroke-width="0.7"/>
<rect x="178.2" y="216.6" width="9.0" height="6.4" fill="#cdd0d4" stroke="#959aa0" stroke-width="0.7"/>
<rect x="153.4" y="246.5" width="9.0" height="6.4" fill="#cdd0d4" stroke="#959aa0" stroke-width="0.7"/>
<rect x="189.4" y="195.3" width="9.0" height="6.4" fill="#cdd0d4" stroke="#959aa0" stroke-width="0.7"/>
<rect x="227.8" y="267.2" width="9.0" height="6.4" fill="#cdd0d4" stroke="#959aa0" stroke-width="0.7"/>
<rect x="231.4" y="163.1" width="9.0" height="6.4" fill="#cdd0d4" stroke="#959aa0" stroke-width="0.7"/>
<rect x="200.8" y="273.9" width="9.0" height="6.4" fill="#cdd0d4" stroke="#959aa0" stroke-width="0.7"/>
<rect x="246.9" y="289.6" width="9.0" height="6.4" fill="#cdd0d4" stroke="#959aa0" stroke-width="0.7"/>
<rect x="168.3" y="282.7" width="9.0" height="6.4" fill="#cdd0d4" stroke="#959aa0" stroke-width="0.7"/>
<rect x="236.9" y="234.4" width="9.0" height="6.4" fill="#cdd0d4" stroke="#959aa0" stroke-width="0.7"/>
<rect x="200.6" y="245.8" width="9.0" height="6.4" fill="#cdd0d4" stroke="#959aa0" stroke-width="0.7"/>
<rect x="227.6" y="262.1" width="9.0" height="6.4" fill="#cdd0d4" stroke="#959aa0" stroke-width="0.7"/>
<rect x="250.3" y="224.2" width="9.0" height="6.4" fill="#cdd0d4" stroke="#959aa0" stroke-width="0.7"/>
<rect x="193.2" y="228.3" width="9.0" height="6.4" fill="#cdd0d4" stroke="#959aa0" stroke-width="0.7"/>
<rect x="257.8" y="283.2" width="9.0" height="6.4" fill="#cdd0d4" stroke="#959aa0" stroke-width="0.7"/>
<rect x="217.0" y="311.1" width="9.0" height="6.4" fill="#cdd0d4" stroke="#959aa0" stroke-width="0.7"/>
<rect x="212.9" y="261.0" width="9.0" height="6.4" fill="#cdd0d4" stroke="#959aa0" stroke-width="0.7"/>
<rect x="148.5" y="256.0" width="9.0" height="6.4" fill="#cdd0d4" stroke="#959aa0" stroke-width="0.7"/>
<rect x="249.8" y="265.4" width="9.0" height="6.4" fill="#cdd0d4" stroke="#959aa0" stroke-width="0.7"/>
<rect x="227.0" y="281.1" width="9.0" height="6.4" fill="#cdd0d4" stroke="#959aa0" stroke-width="0.7"/>
<rect x="225.8" y="284.3" width="9.0" height="6.4" fill="#cdd0d4" stroke="#959aa0" stroke-width="0.7"/>
<rect x="241.6" y="265.5" width="9.0" height="6.4" fill="#cdd0d4" stroke="#959aa0" stroke-width="0.7"/>
<rect x="222.9" y="237.0" width="9.0" height="6.4" fill="#cdd0d4" stroke="#959aa0" stroke-width="0.7"/>
<rect x="202.0" y="183.4" width="9.0" height="6.4" fill="#cdd0d4" stroke="#959aa0" stroke-width="0.7"/>
<rect x="289.7" y="255.9" width="9.0" height="6.4" fill="#cdd0d4" stroke="#959aa0" stroke-width="0.7"/>
<rect x="197.5" y="165.2" width="9.0" height="6.4" fill="#cdd0d4" stroke="#959aa0" stroke-width="0.7"/>
<rect x="229.8" y="219.7" width="9.0" height="6.4" fill="#cdd0d4" stroke="#959aa0" stroke-width="0.7"/>
<rect x="236.1" y="185.2" width="9.0" height="6.4" fill="#cdd0d4" stroke="#959aa0" stroke-width="0.7"/>
<rect x="186.3" y="260.7" width="9.0" height="6.4" fill="#cdd0d4" stroke="#959aa0" stroke-width="0.7"/>
<rect x="232.8" y="156.9" width="9.0" height="6.4" fill="#cdd0d4" stroke="#959aa0" stroke-width="0.7"/>
<rect x="190.7" y="175.2" width="9.0" height="6.4" fill="#cdd0d4" stroke="#959aa0" stroke-width="0.7"/>
<rect x="228.6" y="233.0" width="9.0" height="6.4" fill="#cdd0d4" stroke="#959aa0" stroke-width="0.7"/>
<rect x="214.6" y="282.5" width="9.0" height="6.4" fill="#cdd0d4" stroke="#959aa0" stroke-width="0.7"/>
<rect x="226.9" y="259.8" width="9.0" height="6.4" fill="#cdd0d4" stroke="#959aa0" stroke-width="0.7"/>
<rect x="187.6" y="278.8" width="9.0" height="6.4" fill="#cdd0d4" stroke="#959aa0" stroke-width="0.7"/>
<rect x="195.2" y="215.5" width="9.0" height="6.4" fill="#cdd0d4" stroke="#959aa0" stroke-width="0.7"/>
<rect x="294.7" y="273.8" width="9.0" height="6.4" fill="#cdd0d4" stroke="#959aa0" stroke-width="0.7"/>
<rect x="183.2" y="218.2" width="9.0" height="6.4" fill="#cdd0d4" stroke="#959aa0" stroke-width="0.7"/>
<rect x="243.2" y="217.6" width="9.0" height="6.4" fill="#cdd0d4" stroke="#959aa0" stroke-width="0.7"/>
<rect x="173.0" y="272.7" width="9.0" height="6.4" fill="#cdd0d4" stroke="#959aa0" stroke-width="0.7"/>
<rect x="169.5" y="273.9" width="9.0" height="6.4" fill="#cdd0d4" stroke="#959aa0" stroke-width="0.7"/>
<rect x="229.5" y="258.7" width="9.0" height="6.4" fill="#cdd0d4" stroke="#959aa0" stroke-width="0.7"/>
<rect x="288.9" y="282.9" width="9.0" height="6.4" fill="#cdd0d4" stroke="#959aa0" stroke-width="0.7"/>
<rect x="156.1" y="245.7" width="9.0" height="6.4" fill="#cdd0d4" stroke="#959aa0" stroke-width="0.7"/>
<rect x="281.5" y="269.9" width="9.0" height="6.4" fill="#cdd0d4" stroke="#959aa0" stroke-width="0.7"/>
<rect x="191.5" y="190.7" width="9.0" height="6.4" fill="#cdd0d4" stroke="#959aa0" stroke-width="0.7"/>
<rect x="178.1" y="184.2" width="9.0" height="6.4" fill="#cdd0d4" stroke="#959aa0" stroke-width="0.7"/>
<rect x="141.9" y="257.8" width="9.0" height="6.4" fill="#cdd0d4" stroke="#959aa0" stroke-width="0.7"/>
<rect x="251.6" y="273.2" width="9.0" height="6.4" fill="#cdd0d4" stroke="#959aa0" stroke-width="0.7"/>
<rect x="251.7" y="293.4" width="9.0" height="6.4" fill="#cdd0d4" stroke="#959aa0" stroke-width="0.7"/>
<rect x="171.1" y="279.8" width="9.0" height="6.4" fill="#cdd0d4" stroke="#959aa0" stroke-width="0.7"/>
<rect x="159.5" y="279.1" width="9.0" height="6.4" fill="#cdd0d4" stroke="#959aa0" stroke-width="0.7"/>
<rect x="178.6" y="168.7" width="9.0" height="6.4" fill="#cdd0d4" stroke="#959aa0" stroke-width="0.7"/>
<rect x="276.8" y="247.9" width="9.0" height="6.4" fill="#cdd0d4" stroke="#959aa0" stroke-width="0.7"/>
<rect x="245.4" y="179.9" width="9.0" height="6.4" fill="#cdd0d4" stroke="#959aa0" stroke-width="0.7"/>
<rect x="207.0" y="254.3" width="9.0" height="6.4" fill="#cdd0d4" stroke="#959aa0" stroke-width="0.7"/>
<rect x="205.0" y="177.4" width="9.0" height="6.4" fill="#cdd0d4" stroke="#959aa0" stroke-width="0.7"/>
<rect x="234.6" y="160.1" width="9.0" height="6.4" fill="#cdd0d4" stroke="#959aa0" stroke-width="0.7"/>
<rect x="250.7" y="192.5" width="9.0" height="6.4" fill="#cdd0d4" stroke="#959aa0" stroke-width="0.7"/>
<rect x="271.5" y="290.7" width="9.0" height="6.4" fill="#cdd0d4" stroke="#959aa0" stroke-width="0.7"/>
<rect x="189.4" y="280.9" width="9.0" height="6.4" fill="#cdd0d4" stroke="#959aa0" stroke-width="0.7"/>
<rect x="287.5" y="282.4" width="9.0" height="6.4" fill="#cdd0d4" stroke="#959aa0" stroke-width="0.7"/>
<rect x="225.7" y="277.1" width="9.0" height="6.4" fill="#cdd0d4" stroke="#959aa0" stroke-width="0.7"/>
<rect x="230.7" y="157.4" width="9.0" height="6.4" fill="#cdd0d4" stroke="#959aa0" stroke-width="0.7"/>
<rect x="249.1" y="182.8" width="9.0" height="6.4" fill="#cdd0d4" stroke="#959aa0" stroke-width="0.7"/>
<rect x="235.4" y="166.3" width="9.0" height="6.4" fill="#cdd0d4" stroke="#959aa0" stroke-width="0.7"/>
<rect x="158.4" y="264.3" width="9.0" height="6.4" fill="#cdd0d4" stroke="#959aa0" stroke-width="0.7"/>
<rect x="205.6" y="269.9" width="9.0" height="6.4" fill="#cdd0d4" stroke="#959aa0" stroke-width="0.7"/>
<rect x="263.6" y="289.0" width="9.0" height="6.4" fill="#cdd0d4" stroke="#959aa0" stroke-width="0.7"/>
<rect x="182.1" y="160.7" width="9.0" height="6.4" fill="#cdd0d4" stroke="#959aa0" stroke-width="0.7"/>
<rect x="186.7" y="226.8" width="9.0" height="6.4" fill="#cdd0d4" stroke="#959aa0" stroke-width="0.7"/>
<rect x="243.1" y="182.6" width="9.0" height="6.4" fill="#cdd0d4" stroke="#959aa0" stroke-width="0.7"/>
<rect x="221.2" y="264.0" width="9.0" height="6.4" fill="#cdd0d4" stroke="#959aa0" stroke-width="0.7"/>
<rect x="183.1" y="213.5" width="9.0" height="6.4" fill="#cdd0d4" stroke="#959aa0" stroke-width="0.7"/>
<rect x="256.1" y="198.7" width="9.0" height="6.4" fill="#cdd0d4" stroke="#959aa0" stroke-width="0.7"/>
<rect x="199.9" y="203.0" width="9.0" height="6.4" fill="#cdd0d4" stroke="#959aa0" stroke-width="0.7"/>
<rect x="284.5" y="267.5" width="9.0" height="6.4" fill="#cdd0d4" stroke="#959aa0" stroke-width="0.7"/>
<rect x="260.4" y="293.6" width="9.0" height="6.4" fill="#cdd0d4" stroke="#959aa0" stroke-width="0.7"/>
<rect x="240.1" y="239.0" width="9.0" height="6.4" fill="#cdd0d4" stroke="#959aa0" stroke-width="0.7"/>
<rect x="143.7" y="254.2" width="9.0" height="6.4" fill="#cdd0d4" stroke="#959aa0" stroke-width="0.7"/>
<rect x="283.6" y="250.4" width="9.0" height="6.4" fill="#cdd0d4" stroke="#959aa0" stroke-width="0.7"/>
<rect x="288.6" y="268.0" width="9.0" height="6.4" fill="#cdd0d4" stroke="#959aa0" stroke-width="0.7"/>
<rect x="233.9" y="281.1" width="9.0" height="6.4" fill="#cdd0d4" stroke="#959aa0" stroke-width="0.7"/>
<rect x="266.5" y="269.6" width="9.0" height="6.4" fill="#cdd0d4" stroke="#959aa0" stroke-width="0.7"/>
<rect x="233.0" y="263.2" width="9.0" height="6.4" fill="#cdd0d4" stroke="#959aa0" stroke-width="0.7"/>
<rect x="241.1" y="156.7" width="9.0" height="6.4" fill="#cdd0d4" stroke="#959aa0" stroke-width="0.7"/>
<rect x="186.2" y="223.1" width="9.0" height="6.4" fill="#cdd0d4" stroke="#959aa0" stroke-width="0.7"/>
<rect x="235.2" y="294.5" width="9.0" height="6.4" fill="#cdd0d4" stroke="#959aa0" stroke-width="0.7"/>
<rect x="183.3" y="188.6" width="9.0" height="6.4" fill="#cdd0d4" stroke="#959aa0" stroke-width="0.7"/>
<rect x="232.8" y="193.7" width="9.0" height="6.4" fill="#cdd0d4" stroke="#959aa0" stroke-width="0.7"/>
<rect x="247.8" y="192.3" width="9.0" height="6.4" fill="#cdd0d4" stroke="#959aa0" stroke-width="0.7"/>
<rect x="212.1" y="290.4" width="9.0" height="6.4" fill="#cdd0d4" stroke="#959aa0" stroke-width="0.7"/>
<rect x="156.2" y="273.4" width="9.0" height="6.4" fill="#cdd0d4" stroke="#959aa0" stroke-width="0.7"/>
<rect x="174.3" y="290.2" width="9.0" height="6.4" fill="#cdd0d4" stroke="#959aa0" stroke-width="0.7"/>
<rect x="201.3" y="302.8" width="9.0" height="6.4" fill="#cdd0d4" stroke="#959aa0" stroke-width="0.7"/>
<rect x="194.9" y="303.9" width="9.0" height="6.4" fill="#cdd0d4" stroke="#959aa0" stroke-width="0.7"/>
<rect x="250.7" y="228.7" width="9.0" height="6.4" fill="#cdd0d4" stroke="#959aa0" stroke-width="0.7"/>
<rect x="230.1" y="167.4" width="9.0" height="6.4" fill="#cdd0d4" stroke="#959aa0" stroke-width="0.7"/>
<rect x="272.9" y="267.9" width="9.0" height="6.4" fill="#cdd0d4" stroke="#959aa0" stroke-width="0.7"/>
<rect x="276.4" y="251.9" width="9.0" height="6.4" fill="#cdd0d4" stroke="#959aa0" stroke-width="0.7"/>
<rect x="280.7" y="256.4" width="9.0" height="6.4" fill="#cdd0d4" stroke="#959aa0" stroke-width="0.7"/>
<rect x="257.9" y="280.0" width="9.0" height="6.4" fill="#cdd0d4" stroke="#959aa0" stroke-width="0.7"/>
<rect x="216.1" y="301.9" width="9.0" height="6.4" fill="#cdd0d4" stroke="#959aa0" stroke-width="0.7"/>
<rect x="221.7" y="296.4" width="9.0" height="6.4" fill="#cdd0d4" stroke="#959aa0" stroke-width="0.7"/>
<rect x="193.3" y="304.6" width="9.0" height="6.4" fill="#cdd0d4" stroke="#959aa0" stroke-width="0.7"/>
<rect x="235.6" y="258.8" width="9.0" height="6.4" fill="#cdd0d4" stroke="#959aa0" stroke-width="0.7"/>
<rect x="179.6" y="269.6" width="9.0" height="6.4" fill="#cdd0d4" stroke="#959aa0" stroke-width="0.7"/>
<rect x="229.6" y="267.1" width="9.0" height="6.4" fill="#cdd0d4" stroke="#959aa0" stroke-width="0.7"/>
<rect x="239.9" y="191.5" width="9.0" height="6.4" fill="#cdd0d4" stroke="#959aa0" stroke-width="0.7"/>
<rect x="164.6" y="256.6" width="9.0" height="6.4" fill="#cdd0d4" stroke="#959aa0" stroke-width="0.7"/>
<rect x="197.1" y="265.4" width="9.0" height="6.4" fill="#cdd0d4" stroke="#959aa0" stroke-width="0.7"/>
<rect x="194.3" y="200.4" width="9.0" height="6.4" fill="#cdd0d4" stroke="#959aa0" stroke-width="0.7"/>
<rect x="276.3" y="245.2" width="9.0" height="6.4" fill="#cdd0d4" stroke="#959aa0" stroke-width="0.7"/>
<rect x="244.8" y="247.9" width="9.0" height="6.4" fill="#cdd0d4" stroke="#959aa0" stroke-width="0.7"/>
<rect x="182.9" y="226.9" width="9.0" height="6.4" fill="#cdd0d4" stroke="#959aa0" stroke-width="0.7"/>
<rect x="245.9" y="206.9" width="9.0" height="6.4" fill="#cdd0d4" stroke="#959aa0" stroke-width="0.7"/>
<rect x="240.1" y="284.3" width="9.0" height="6.4" fill="#cdd0d4" stroke="#959aa0" stroke-width="0.7"/>
<rect x="185.2" y="175.1" width="9.0" height="6.4" fill="#cdd0d4" stroke="#959aa0" stroke-width="0.7"/>
<rect x="258.8" y="274.2" width="9.0" height="6.4" fill="#cdd0d4" stroke="#959aa0" stroke-width="0.7"/>
<rect x="234.6" y="241.8" width="9.0" height="6.4" fill="#cdd0d4" stroke="#959aa0" stroke-width="0.7"/>
<rect x="286.8" y="248.1" width="9.0" height="6.4" fill="#cdd0d4" stroke="#959aa0" stroke-width="0.7"/>
<rect x="259.5" y="269.8" width="9.0" height="6.4" fill="#cdd0d4" stroke="#959aa0" stroke-width="0.7"/>
<rect x="297.1" y="257.7" width="9.0" height="6.4" fill="#cdd0d4" stroke="#959aa0" stroke-width="0.7"/>
<rect x="188.2" y="287.4" width="9.0" height="6.4" fill="#cdd0d4" stroke="#959aa0" stroke-width="0.7"/>
<rect x="296.9" y="253.1" width="9.0" height="6.4" fill="#cdd0d4" stroke="#959aa0" stroke-width="0.7"/>
<rect x="273.4" y="279.2" width="9.0" height="6.4" fill="#cdd0d4" stroke="#959aa0" stroke-width="0.7"/>
<rect x="241.9" y="196.7" width="9.0" height="6.4" fill="#cdd0d4" stroke="#959aa0" stroke-width="0.7"/>
<rect x="256.7" y="242.0" width="9.0" height="6.4" fill="#cdd0d4" stroke="#959aa0" stroke-width="0.7"/>
<rect x="231.1" y="297.7" width="9.0" height="6.4" fill="#cdd0d4" stroke="#959aa0" stroke-width="0.7"/>
<rect x="233.3" y="173.9" width="9.0" height="6.4" fill="#cdd0d4" stroke="#959aa0" stroke-width="0.7"/>
<rect x="257.3" y="292.1" width="9.0" height="6.4" fill="#cdd0d4" stroke="#959aa0" stroke-width="0.7"/>
<rect x="244.4" y="191.5" width="9.0" height="6.4" fill="#cdd0d4" stroke="#959aa0" stroke-width="0.7"/>
<rect x="206.9" y="272.9" width="9.0" height="6.4" fill="#cdd0d4" stroke="#959aa0" stroke-width="0.7"/>
<rect x="205.9" y="182.0" width="9.0" height="6.4" fill="#cdd0d4" stroke="#959aa0" stroke-width="0.7"/>
<rect x="204.6" y="245.5" width="9.0" height="6.4" fill="#cdd0d4" stroke="#959aa0" stroke-width="0.7"/>
<rect x="244.8" y="281.9" width="9.0" height="6.4" fill="#cdd0d4" stroke="#959aa0" stroke-width="0.7"/>
<rect x="185.5" y="195.8" width="9.0" height="6.4" fill="#cdd0d4" stroke="#959aa0" stroke-width="0.7"/>
<rect x="234.3" y="192.7" width="9.0" height="6.4" fill="#cdd0d4" stroke="#959aa0" stroke-width="0.7"/>
<rect x="157.3" y="269.7" width="9.0" height="6.4" fill="#cdd0d4" stroke="#959aa0" stroke-width="0.7"/>
<rect x="241.0" y="207.3" width="9.0" height="6.4" fill="#cdd0d4" stroke="#959aa0" stroke-width="0.7"/>
<rect x="206.9" y="232.0" width="9.0" height="6.4" fill="#cdd0d4" stroke="#959aa0" stroke-width="0.7"/>
<rect x="188.3" y="263.6" width="9.0" height="6.4" fill="#cdd0d4" stroke="#959aa0" stroke-width="0.7"/>
<rect x="213.1" y="259.5" width="9.0" height="6.4" fill="#cdd0d4" stroke="#959aa0" stroke-width="0.7"/>
<rect x="225.6" y="226.0" width="9.0" height="6.4" fill="#cdd0d4" stroke="#959aa0" stroke-width="0.7"/>
<rect x="246.6" y="299.5" width="9.0" height="6.4" fill="#cdd0d4" stroke="#959aa0" stroke-width="0.7"/>
<rect x="235.1" y="235.1" width="9.0" height="6.4" fill="#cdd0d4" stroke="#959aa0" stroke-width="0.7"/>
<rect x="217.9" y="255.2" width="9.0" height="6.4" fill="#cdd0d4" stroke="#959aa0" stroke-width="0.7"/>
<rect x="217.7" y="299.0" width="9.0" height="6.4" fill="#cdd0d4" stroke="#959aa0" stroke-width="0.7"/>
<rect x="270.9" y="259.2" width="9.0" height="6.4" fill="#cdd0d4" stroke="#959aa0" stroke-width="0.7"/>
<rect x="280.4" y="246.0" width="9.0" height="6.4" fill="#cdd0d4" stroke="#959aa0" stroke-width="0.7"/>
<rect x="231.6" y="208.1" width="9.0" height="6.4" fill="#cdd0d4" stroke="#959aa0" stroke-width="0.7"/>
<rect x="174.7" y="275.6" width="9.0" height="6.4" fill="#cdd0d4" stroke="#959aa0" stroke-width="0.7"/>
<rect x="188.4" y="286.3" width="9.0" height="6.4" fill="#cdd0d4" stroke="#959aa0" stroke-width="0.7"/>
<rect x="161.9" y="267.2" width="9.0" height="6.4" fill="#cdd0d4" stroke="#959aa0" stroke-width="0.7"/>
<rect x="252.6" y="291.1" width="9.0" height="6.4" fill="#cdd0d4" stroke="#959aa0" stroke-width="0.7"/>
<rect x="230.1" y="301.7" width="9.0" height="6.4" fill="#cdd0d4" stroke="#959aa0" stroke-width="0.7"/>
<rect x="257.9" y="181.0" width="9.0" height="6.4" fill="#cdd0d4" stroke="#959aa0" stroke-width="0.7"/>
<rect x="199.2" y="241.9" width="9.0" height="6.4" fill="#cdd0d4" stroke="#959aa0" stroke-width="0.7"/>
<rect x="182.3" y="161.2" width="9.0" height="6.4" fill="#cdd0d4" stroke="#959aa0" stroke-width="0.7"/>
<rect x="195.9" y="264.4" width="9.0" height="6.4" fill="#cdd0d4" stroke="#959aa0" stroke-width="0.7"/>
<rect x="201.3" y="252.1" width="9.0" height="6.4" fill="#cdd0d4" stroke="#959aa0" stroke-width="0.7"/>
<rect x="185.3" y="270.5" width="9.0" height="6.4" fill="#cdd0d4" stroke="#959aa0" stroke-width="0.7"/>
<rect x="230.4" y="288.1" width="9.0" height="6.4" fill="#cdd0d4" stroke="#959aa0" stroke-width="0.7"/>
<rect x="235.9" y="300.4" width="9.0" height="6.4" fill="#cdd0d4" stroke="#959aa0" stroke-width="0.7"/>
<rect x="253.2" y="193.3" width="9.0" height="6.4" fill="#cdd0d4" stroke="#959aa0" stroke-width="0.7"/>
<rect x="209.2" y="224.3" width="9.0" height="6.4" fill="#cdd0d4" stroke="#959aa0" stroke-width="0.7"/>
<rect x="161.6" y="264.5" width="9.0" height="6.4" fill="#cdd0d4" stroke="#959aa0" stroke-width="0.7"/>
<rect x="302.8" y="263.3" width="9.0" height="6.4" fill="#cdd0d4" stroke="#959aa0" stroke-width="0.7"/>
<rect x="260.4" y="291.6" width="9.0" height="6.4" fill="#cdd0d4" stroke="#959aa0" stroke-width="0.7"/>
<rect x="256.3" y="257.5" width="9.0" height="6.4" fill="#cdd0d4" stroke="#959aa0" stroke-width="0.7"/>
<rect x="189.5" y="249.4" width="9.0" height="6.4" fill="#cdd0d4" stroke="#959aa0" stroke-width="0.7"/>
<rect x="181.4" y="226.7" width="9.0" height="6.4" fill="#cdd0d4" stroke="#959aa0" stroke-width="0.7"/>
<rect x="229.3" y="200.3" width="9.0" height="6.4" fill="#cdd0d4" stroke="#959aa0" stroke-width="0.7"/>
<rect x="215.0" y="308.0" width="9.0" height="6.4" fill="#cdd0d4" stroke="#959aa0" stroke-width="0.7"/>
<rect x="151.4" y="249.3" width="9.0" height="6.4" fill="#cdd0d4" stroke="#959aa0" stroke-width="0.7"/>
<rect x="247.9" y="176.6" width="9.0" height="6.4" fill="#cdd0d4" stroke="#959aa0" stroke-width="0.7"/>
<rect x="248.3" y="180.6" width="9.0" height="6.4" fill="#cdd0d4" stroke="#959aa0" stroke-width="0.7"/>
<rect x="199.0" y="233.4" width="9.0" height="6.4" fill="#cdd0d4" stroke="#959aa0" stroke-width="0.7"/>
<rect x="219.4" y="248.3" width="9.0" height="6.4" fill="#cdd0d4" stroke="#959aa0" stroke-width="0.7"/>
<rect x="288.5" y="252.2" width="9.0" height="6.4" fill="#cdd0d4" stroke="#959aa0" stroke-width="0.7"/>
<rect x="205.2" y="232.4" width="9.0" height="6.4" fill="#cdd0d4" stroke="#959aa0" stroke-width="0.7"/>
<rect x="221.4" y="307.4" width="9.0" height="6.4" fill="#cdd0d4" stroke="#959aa0" stroke-width="0.7"/>
<rect x="164.8" y="267.6" width="9.0" height="6.4" fill="#cdd0d4" stroke="#959aa0" stroke-width="0.7"/>
<rect x="263.3" y="245.7" width="9.0" height="6.4" fill="#cdd0d4" stroke="#959aa0" stroke-width="0.7"/>
<rect x="260.4" y="288.6" width="9.0" height="6.4" fill="#cdd0d4" stroke="#959aa0" stroke-width="0.7"/>
<rect x="208.7" y="290.0" width="9.0" height="6.4" fill="#cdd0d4" stroke="#959aa0" stroke-width="0.7"/>
<rect x="226.2" y="217.7" width="9.0" height="6.4" fill="#cdd0d4" stroke="#959aa0" stroke-width="0.7"/>
<rect x="257.4" y="258.4" width="9.0" height="6.4" fill="#cdd0d4" stroke="#959aa0" stroke-width="0.7"/>
<rect x="211.0" y="287.6" width="9.0" height="6.4" fill="#cdd0d4" stroke="#959aa0" stroke-width="0.7"/>
<rect x="182.8" y="192.5" width="9.0" height="6.4" fill="#cdd0d4" stroke="#959aa0" stroke-width="0.7"/>
<rect x="169.9" y="245.6" width="9.0" height="6.4" fill="#cdd0d4" stroke="#959aa0" stroke-width="0.7"/>
<rect x="167.3" y="254.0" width="9.0" height="6.4" fill="#cdd0d4" stroke="#959aa0" stroke-width="0.7"/>
<rect x="232.9" y="287.8" width="9.0" height="6.4" fill="#cdd0d4" stroke="#959aa0" stroke-width="0.7"/>
<rect x="153.3" y="267.7" width="9.0" height="6.4" fill="#cdd0d4" stroke="#959aa0" stroke-width="0.7"/>
<rect x="241.0" y="293.6" width="9.0" height="6.4" fill="#cdd0d4" stroke="#959aa0" stroke-width="0.7"/>
<rect x="181.9" y="223.9" width="9.0" height="6.4" fill="#cdd0d4" stroke="#959aa0" stroke-width="0.7"/>
<rect x="179.7" y="260.6" width="9.0" height="6.4" fill="#cdd0d4" stroke="#959aa0" stroke-width="0.7"/>
<rect x="179.8" y="185.6" width="9.0" height="6.4" fill="#cdd0d4" stroke="#959aa0" stroke-width="0.7"/>
<rect x="237.0" y="284.9" width="9.0" height="6.4" fill="#cdd0d4" stroke="#959aa0" stroke-width="0.7"/>
<rect x="246.8" y="215.5" width="9.0" height="6.4" fill="#cdd0d4" stroke="#959aa0" stroke-width="0.7"/>
<rect x="188.8" y="275.3" width="9.0" height="6.4" fill="#cdd0d4" stroke="#959aa0" stroke-width="0.7"/>
<rect x="255.5" y="190.2" width="9.0" height="6.4" fill="#cdd0d4" stroke="#959aa0" stroke-width="0.7"/>
<rect x="201.8" y="256.2" width="9.0" height="6.4" fill="#cdd0d4" stroke="#959aa0" stroke-width="0.7"/>
<rect x="240.3" y="227.3" width="9.0" height="6.4" fill="#cdd0d4" stroke="#959aa0" stroke-width="0.7"/>
<rect x="298.0" y="257.5" width="9.0" height="6.4" fill="#cdd0d4" stroke="#959aa0" stroke-width="0.7"/>
<rect x="229.5" y="271.7" width="9.0" height="6.4" fill="#cdd0d4" stroke="#959aa0" stroke-width="0.7"/>
<rect x="191.7" y="194.1" width="9.0" height="6.4" fill="#cdd0d4" stroke="#959aa0" stroke-width="0.7"/>
<rect x="234.3" y="266.1" width="9.0" height="6.4" fill="#cdd0d4" stroke="#959aa0" stroke-width="0.7"/>
<rect x="285.8" y="261.3" width="9.0" height="6.4" fill="#cdd0d4" stroke="#959aa0" stroke-width="0.7"/>
<rect x="277.7" y="258.3" width="9.0" height="6.4" fill="#cdd0d4" stroke="#959aa0" stroke-width="0.7"/>
<rect x="254.9" y="238.4" width="9.0" height="6.4" fill="#cdd0d4" stroke="#959aa0" stroke-width="0.7"/>
<rect x="221.5" y="287.2" width="9.0" height="6.4" fill="#cdd0d4" stroke="#959aa0" stroke-width="0.7"/>
<rect x="208.6" y="214.3" width="9.0" height="6.4" fill="#cdd0d4" stroke="#959aa0" stroke-width="0.7"/>
<rect x="281.7" y="262.1" width="9.0" height="6.4" fill="#cdd0d4" stroke="#959aa0" stroke-width="0.7"/>
<rect x="226.6" y="305.0" width="9.0" height="6.4" fill="#cdd0d4" stroke="#959aa0" stroke-width="0.7"/>
<rect x="217.0" y="242.4" width="9.0" height="6.4" fill="#cdd0d4" stroke="#959aa0" stroke-width="0.7"/>
<rect x="249.2" y="243.1" width="9.0" height="6.4" fill="#cdd0d4" stroke="#959aa0" stroke-width="0.7"/>
<rect x="219.4" y="287.9" width="9.0" height="6.4" fill="#cdd0d4" stroke="#959aa0" stroke-width="0.7"/>
<rect x="247.4" y="269.3" width="9.0" height="6.4" fill="#cdd0d4" stroke="#959aa0" stroke-width="0.7"/>
<rect x="232.2" y="225.5" width="9.0" height="6.4" fill="#cdd0d4" stroke="#959aa0" stroke-width="0.7"/>
<rect x="240.3" y="212.6" width="9.0" height="6.4" fill="#cdd0d4" stroke="#959aa0" stroke-width="0.7"/>
<rect x="195.8" y="192.1" width="9.0" height="6.4" fill="#cdd0d4" stroke="#959aa0" stroke-width="0.7"/>
<rect x="204.4" y="208.6" width="9.0" height="6.4" fill="#cdd0d4" stroke="#959aa0" stroke-width="0.7"/>
<rect x="188.9" y="177.1" width="9.0" height="6.4" fill="#cdd0d4" stroke="#959aa0" stroke-width="0.7"/>
<rect x="261.3" y="258.0" width="9.0" height="6.4" fill="#cdd0d4" stroke="#959aa0" stroke-width="0.7"/>
<rect x="225.9" y="297.7" width="9.0" height="6.4" fill="#cdd0d4" stroke="#959aa0" stroke-width="0.7"/>
<rect x="292.1" y="256.7" width="9.0" height="6.4" fill="#cdd0d4" stroke="#959aa0" stroke-width="0.7"/>
<rect x="157.2" y="280.0" width="9.0" height="6.4" fill="#cdd0d4" stroke="#959aa0" stroke-width="0.7"/>
<rect x="232.3" y="246.0" width="9.0" height="6.4" fill="#cdd0d4" stroke="#959aa0" stroke-width="0.7"/>
<rect x="157.7" y="254.4" width="9.0" height="6.4" fill="#cdd0d4" stroke="#959aa0" stroke-width="0.7"/>
<rect x="192.6" y="249.3" width="9.0" height="6.4" fill="#cdd0d4" stroke="#959aa0" stroke-width="0.7"/>
<rect x="163.0" y="284.9" width="9.0" height="6.4" fill="#cdd0d4" stroke="#959aa0" stroke-width="0.7"/>
<rect x="239.6" y="209.2" width="9.0" height="6.4" fill="#cdd0d4" stroke="#959aa0" stroke-width="0.7"/>
<rect x="194.6" y="289.0" width="9.0" height="6.4" fill="#cdd0d4" stroke="#959aa0" stroke-width="0.7"/>
<rect x="213.2" y="287.4" width="9.0" height="6.4" fill="#cdd0d4" stroke="#959aa0" stroke-width="0.7"/>
<rect x="248.3" y="268.5" width="9.0" height="6.4" fill="#cdd0d4" stroke="#959aa0" stroke-width="0.7"/>
<rect x="159.9" y="261.4" width="9.0" height="6.4" fill="#cdd0d4" stroke="#959aa0" stroke-width="0.7"/>
<rect x="206.9" y="180.3" width="9.0" height="6.4" fill="#cdd0d4" stroke="#959aa0" stroke-width="0.7"/>
<rect x="254.1" y="182.6" width="9.0" height="6.4" fill="#cdd0d4" stroke="#959aa0" stroke-width="0.7"/>
<rect x="232.2" y="238.3" width="9.0" height="6.4" fill="#cdd0d4" stroke="#959aa0" stroke-width="0.7"/>
<rect x="239.3" y="263.7" width="9.0" height="6.4" fill="#cdd0d4" stroke="#959aa0" stroke-width="0.7"/>
<rect x="205.9" y="295.8" width="9.0" height="6.4" fill="#cdd0d4" stroke="#959aa0" stroke-width="0.7"/>
<rect x="193.5" y="303.5" width="9.0" height="6.4" fill="#cdd0d4" stroke="#959aa0" stroke-width="0.7"/>
<rect x="162.3" y="259.4" width="9.0" height="6.4" fill="#cdd0d4" stroke="#959aa0" stroke-width="0.7"/>
<rect x="294.9" y="278.3" width="9.0" height="6.4" fill="#cdd0d4" stroke="#959aa0" stroke-width="0.7"/>
<rect x="250.8" y="214.2" width="9.0" height="6.4" fill="#cdd0d4" stroke="#959aa0" stroke-width="0.7"/>
<rect x="288.4" y="279.6" width="9.0" height="6.4" fill="#cdd0d4" stroke="#959aa0" stroke-width="0.7"/>
<rect x="184.3" y="209.4" width="9.0" height="6.4" fill="#cdd0d4" stroke="#959aa0" stroke-width="0.7"/>
<rect x="204.9" y="235.4" width="9.0" height="6.4" fill="#cdd0d4" stroke="#959aa0" stroke-width="0.7"/>
<rect x="145.2" y="260.4" width="9.0" height="6.4" fill="#cdd0d4" stroke="#959aa0" stroke-width="0.7"/>
<rect x="207.2" y="268.1" width="9.0" height="6.4" fill="#cdd0d4" stroke="#959aa0" stroke-width="0.7"/>
<rect x="242.6" y="224.0" width="9.0" height="6.4" fill="#cdd0d4" stroke="#959aa0" stroke-width="0.7"/>
<rect x="240.6" y="274.0" width="9.0" height="6.4" fill="#cdd0d4" stroke="#959aa0" stroke-width="0.7"/>
<rect x="176.6" y="257.3" width="9.0" height="6.4" fill="#cdd0d4" stroke="#959aa0" stroke-width="0.7"/>
<rect x="297.0" y="266.3" width="9.0" height="6.4" fill="#cdd0d4" stroke="#959aa0" stroke-width="0.7"/>
<rect x="191.5" y="273.2" width="9.0" height="6.4" fill="#cdd0d4" stroke="#959aa0" stroke-width="0.7"/>
<rect x="199.8" y="282.3" width="9.0" height="6.4" fill="#cdd0d4" stroke="#959aa0" stroke-width="0.7"/>
<rect x="189.9" y="164.9" width="9.0" height="6.4" fill="#cdd0d4" stroke="#959aa0" stroke-width="0.7"/>
<rect x="209.1" y="239.0" width="9.0" height="6.4" fill="#cdd0d4" stroke="#959aa0" stroke-width="0.7"/>
<rect x="185.2" y="300.3" width="9.0" height="6.4" fill="#cdd0d4" stroke="#959aa0" stroke-width="0.7"/>
<rect x="242.9" y="199.8" width="9.0" height="6.4" fill="#cdd0d4" stroke="#959aa0" stroke-width="0.7"/>
<rect x="184.7" y="183.7" width="9.0" height="6.4" fill="#cdd0d4" stroke="#959aa0" stroke-width="0.7"/>
<rect x="206.0" y="264.4" width="9.0" height="6.4" fill="#cdd0d4" stroke="#959aa0" stroke-width="0.7"/>
<rect x="198.8" y="234.6" width="9.0" height="6.4" fill="#cdd0d4" stroke="#959aa0" stroke-width="0.7"/>
<rect x="246.8" y="232.7" width="9.0" height="6.4" fill="#cdd0d4" stroke="#959aa0" stroke-width="0.7"/>
<rect x="178.0" y="233.5" width="9.0" height="6.4" fill="#cdd0d4" stroke="#959aa0" stroke-width="0.7"/>
<rect x="244.2" y="196.2" width="9.0" height="6.4" fill="#cdd0d4" stroke="#959aa0" stroke-width="0.7"/>
<rect x="239.9" y="250.7" width="9.0" height="6.4" fill="#cdd0d4" stroke="#959aa0" stroke-width="0.7"/>
<rect x="241.0" y="266.8" width="9.0" height="6.4" fill="#cdd0d4" stroke="#959aa0" stroke-width="0.7"/>
<rect x="212.2" y="252.8" width="9.0" height="6.4" fill="#cdd0d4" stroke="#959aa0" stroke-width="0.7"/>
<rect x="251.3" y="249.3" width="9.0" height="6.4" fill="#cdd0d4" stroke="#959aa0" stroke-width="0.7"/>
<rect x="257.8" y="242.0" width="9.0" height="6.4" fill="#cdd0d4" stroke="#959aa0" stroke-width="0.7"/>
<rect x="227.2" y="232.0" width="9.0" height="6.4" fill="#cdd0d4" stroke="#959aa0" stroke-width="0.7"/>
<rect x="291.4" y="269.2" width="9.0" height="6.4" fill="#cdd0d4" stroke="#959aa0" stroke-width="0.7"/>
<rect x="248.8" y="185.2" width="9.0" height="6.4" fill="#cdd0d4" stroke="#959aa0" stroke-width="0.7"/>
<rect x="254.4" y="293.1" width="9.0" height="6.4" fill="#cdd0d4" stroke="#959aa0" stroke-width="0.7"/>
<rect x="197.5" y="261.7" width="9.0" height="6.4" fill="#cdd0d4" stroke="#959aa0" stroke-width="0.7"/>
<rect x="242.7" y="241.7" width="9.0" height="6.4" fill="#cdd0d4" stroke="#959aa0" stroke-width="0.7"/>
<rect x="183.8" y="265.4" width="9.0" height="6.4" fill="#cdd0d4" stroke="#959aa0" stroke-width="0.7"/>
<rect x="266.4" y="269.2" width="9.0" height="6.4" fill="#cdd0d4" stroke="#959aa0" stroke-width="0.7"/>
<rect x="200.4" y="236.3" width="9.0" height="6.4" fill="#cdd0d4" stroke="#959aa0" stroke-width="0.7"/>
<rect x="170.2" y="270.1" width="9.0" height="6.4" fill="#cdd0d4" stroke="#959aa0" stroke-width="0.7"/>
<rect x="254.9" y="297.0" width="9.0" height="6.4" fill="#cdd0d4" stroke="#959aa0" stroke-width="0.7"/>
<rect x="217.6" y="238.8" width="9.0" height="6.4" fill="#cdd0d4" stroke="#959aa0" stroke-width="0.7"/>
<rect x="178.7" y="176.7" width="9.0" height="6.4" fill="#cdd0d4" stroke="#959aa0" stroke-width="0.7"/>
<rect x="201.7" y="173.6" width="9.0" height="6.4" fill="#cdd0d4" stroke="#959aa0" stroke-width="0.7"/>
<rect x="219.7" y="238.6" width="9.0" height="6.4" fill="#cdd0d4" stroke="#959aa0" stroke-width="0.7"/>
<rect x="237.9" y="265.6" width="9.0" height="6.4" fill="#cdd0d4" stroke="#959aa0" stroke-width="0.7"/>
<rect x="204.1" y="225.9" width="9.0" height="6.4" fill="#cdd0d4" stroke="#959aa0" stroke-width="0.7"/>
<rect x="187.3" y="275.3" width="9.0" height="6.4" fill="#cdd0d4" stroke="#959aa0" stroke-width="0.7"/>
<rect x="292.1" y="276.5" width="9.0" height="6.4" fill="#cdd0d4" stroke="#959aa0" stroke-width="0.7"/>
<rect x="206.8" y="294.4" width="9.0" height="6.4" fill="#cdd0d4" stroke="#959aa0" stroke-width="0.7"/>
<rect x="263.7" y="289.7" width="9.0" height="6.4" fill="#cdd0d4" stroke="#959aa0" stroke-width="0.7"/>
<rect x="203.8" y="302.4" width="9.0" height="6.4" fill="#cdd0d4" stroke="#959aa0" stroke-width="0.7"/>
<rect x="233.2" y="276.7" width="9.0" height="6.4" fill="#cdd0d4" stroke="#959aa0" stroke-width="0.7"/>
<rect x="231.2" y="226.1" width="9.0" height="6.4" fill="#cdd0d4" stroke="#959aa0" stroke-width="0.7"/>
<rect x="258.8" y="288.8" width="9.0" height="6.4" fill="#cdd0d4" stroke="#959aa0" stroke-width="0.7"/>
<rect x="191.9" y="291.2" width="9.0" height="6.4" fill="#cdd0d4" stroke="#959aa0" stroke-width="0.7"/>
<rect x="281.8" y="280.8" width="9.0" height="6.4" fill="#cdd0d4" stroke="#959aa0" stroke-width="0.7"/>
<rect x="190.8" y="289.1" width="9.0" height="6.4" fill="#cdd0d4" stroke="#959aa0" stroke-width="0.7"/>
<rect x="209.9" y="242.1" width="9.0" height="6.4" fill="#cdd0d4" stroke="#959aa0" stroke-width="0.7"/>
<rect x="240.8" y="265.9" width="9.0" height="6.4" fill="#cdd0d4" stroke="#959aa0" stroke-width="0.7"/>
<rect x="176.0" y="269.8" width="9.0" height="6.4" fill="#cdd0d4" stroke="#959aa0" stroke-width="0.7"/>
<rect x="247.0" y="186.9" width="9.0" height="6.4" fill="#cdd0d4" stroke="#959aa0" stroke-width="0.7"/>
<rect x="182.1" y="245.4" width="9.0" height="6.4" fill="#cdd0d4" stroke="#959aa0" stroke-width="0.7"/>
<rect x="197.9" y="187.1" width="9.0" height="6.4" fill="#cdd0d4" stroke="#959aa0" stroke-width="0.7"/>
<rect x="237.6" y="254.7" width="9.0" height="6.4" fill="#cdd0d4" stroke="#959aa0" stroke-width="0.7"/>
<rect x="185.8" y="229.6" width="9.0" height="6.4" fill="#cdd0d4" stroke="#959aa0" stroke-width="0.7"/>
<rect x="228.6" y="216.1" width="9.0" height="6.4" fill="#cdd0d4" stroke="#959aa0" stroke-width="0.7"/>
<rect x="269.9" y="248.9" width="9.0" height="6.4" fill="#cdd0d4" stroke="#959aa0" stroke-width="0.7"/>
<rect x="204.9" y="298.5" width="9.0" height="6.4" fill="#cdd0d4" stroke="#959aa0" stroke-width="0.7"/>
<rect x="227.1" y="287.3" width="9.0" height="6.4" fill="#cdd0d4" stroke="#959aa0" stroke-width="0.7"/>
<rect x="245.4" y="293.9" width="9.0" height="6.4" fill="#cdd0d4" stroke="#959aa0" stroke-width="0.7"/>
<rect x="257.0" y="183.8" width="9.0" height="6.4" fill="#cdd0d4" stroke="#959aa0" stroke-width="0.7"/>
<rect x="193.6" y="286.7" width="9.0" height="6.4" fill="#cdd0d4" stroke="#959aa0" stroke-width="0.7"/>
<rect x="233.3" y="294.0" width="9.0" height="6.4" fill="#cdd0d4" stroke="#959aa0" stroke-width="0.7"/>
<rect x="245.6" y="193.3" width="9.0" height="6.4" fill="#cdd0d4" stroke="#959aa0" stroke-width="0.7"/>
<rect x="272.6" y="273.7" width="9.0" height="6.4" fill="#cdd0d4" stroke="#959aa0" stroke-width="0.7"/>
<rect x="194.5" y="242.0" width="9.0" height="6.4" fill="#cdd0d4" stroke="#959aa0" stroke-width="0.7"/>
<rect x="249.1" y="265.9" width="9.0" height="6.4" fill="#cdd0d4" stroke="#959aa0" stroke-width="0.7"/>
<rect x="200.2" y="215.8" width="9.0" height="6.4" fill="#cdd0d4" stroke="#959aa0" stroke-width="0.7"/>
<rect x="278.9" y="251.5" width="9.0" height="6.4" fill="#cdd0d4" stroke="#959aa0" stroke-width="0.7"/>
<rect x="178.2" y="193.6" width="9.0" height="6.4" fill="#cdd0d4" stroke="#959aa0" stroke-width="0.7"/>
<rect x="216.6" y="308.9" width="9.0" height="6.4" fill="#cdd0d4" stroke="#959aa0" stroke-width="0.7"/>
<rect x="246.5" y="246.5" width="9.0" height="6.4" fill="#cdd0d4" stroke="#959aa0" stroke-width="0.7"/>
<rect x="223.1" y="271.1" width="9.0" height="6.4" fill="#cdd0d4" stroke="#959aa0" stroke-width="0.7"/>
<rect x="178.3" y="160.9" width="9.0" height="6.4" fill="#cdd0d4" stroke="#959aa0" stroke-width="0.7"/>
<rect x="183.3" y="277.6" width="9.0" height="6.4" fill="#cdd0d4" stroke="#959aa0" stroke-width="0.7"/>
<rect x="221.5" y="263.2" width="9.0" height="6.4" fill="#cdd0d4" stroke="#959aa0" stroke-width="0.7"/>
<rect x="271.1" y="256.0" width="9.0" height="6.4" fill="#cdd0d4" stroke="#959aa0" stroke-width="0.7"/>
<rect x="169.1" y="274.5" width="9.0" height="6.4" fill="#cdd0d4" stroke="#959aa0" stroke-width="0.7"/>
<rect x="163.7" y="268.3" width="9.0" height="6.4" fill="#cdd0d4" stroke="#959aa0" stroke-width="0.7"/>
<rect x="145.9" y="258.4" width="9.0" height="6.4" fill="#cdd0d4" stroke="#959aa0" stroke-width="0.7"/>
<rect x="201.0" y="220.2" width="9.0" height="6.4" fill="#cdd0d4" stroke="#959aa0" stroke-width="0.7"/>
<rect x="218.1" y="289.6" width="9.0" height="6.4" fill="#cdd0d4" stroke="#959aa0" stroke-width="0.7"/>
<rect x="193.6" y="257.7" width="9.0" height="6.4" fill="#cdd0d4" stroke="#959aa0" stroke-width="0.7"/>
<rect x="230.6" y="237.3" width="9.0" height="6.4" fill="#cdd0d4" stroke="#959aa0" stroke-width="0.7"/>
<rect x="197.3" y="203.6" width="9.0" height="6.4" fill="#cdd0d4" stroke="#959aa0" stroke-width="0.7"/>
<rect x="252.7" y="252.3" width="9.0" height="6.4" fill="#cdd0d4" stroke="#959aa0" stroke-width="0.7"/>
<rect x="181.5" y="217.8" width="9.0" height="6.4" fill="#cdd0d4" stroke="#959aa0" stroke-width="0.7"/>
<rect x="192.8" y="180.9" width="9.0" height="6.4" fill="#cdd0d4" stroke="#959aa0" stroke-width="0.7"/>
<rect x="268.9" y="263.2" width="9.0" height="6.4" fill="#cdd0d4" stroke="#959aa0" stroke-width="0.7"/>
<rect x="220.2" y="227.5" width="9.0" height="6.4" fill="#cdd0d4" stroke="#959aa0" stroke-width="0.7"/>
<rect x="267.1" y="268.6" width="9.0" height="6.4" fill="#cdd0d4" stroke="#959aa0" stroke-width="0.7"/>
<rect x="197.4" y="246.6" width="9.0" height="6.4" fill="#cdd0d4" stroke="#959aa0" stroke-width="0.7"/>
<rect x="222.6" y="286.4" width="9.0" height="6.4" fill="#cdd0d4" stroke="#959aa0" stroke-width="0.7"/>
<rect x="188.5" y="153.0" width="9.0" height="6.4" fill="#cdd0d4" stroke="#959aa0" stroke-width="0.7"/>
<rect x="212.2" y="232.3" width="9.0" height="6.4" fill="#cdd0d4" stroke="#959aa0" stroke-width="0.7"/>
<rect x="235.2" y="301.2" width="9.0" height="6.4" fill="#cdd0d4" stroke="#959aa0" stroke-width="0.7"/>
<rect x="186.0" y="210.3" width="9.0" height="6.4" fill="#cdd0d4" stroke="#959aa0" stroke-width="0.7"/>
<rect x="201.4" y="242.9" width="9.0" height="6.4" fill="#cdd0d4" stroke="#959aa0" stroke-width="0.7"/>
<rect x="164.2" y="273.0" width="9.0" height="6.4" fill="#cdd0d4" stroke="#959aa0" stroke-width="0.7"/>
<rect x="221.5" y="238.1" width="9.0" height="6.4" fill="#cdd0d4" stroke="#959aa0" stroke-width="0.7"/>
<rect x="234.3" y="240.3" width="9.0" height="6.4" fill="#cdd0d4" stroke="#959aa0" stroke-width="0.7"/>
<rect x="194.6" y="244.6" width="9.0" height="6.4" fill="#cdd0d4" stroke="#959aa0" stroke-width="0.7"/>
<rect x="241.9" y="225.7" width="9.0" height="6.4" fill="#cdd0d4" stroke="#959aa0" stroke-width="0.7"/>
<rect x="241.2" y="280.2" width="9.0" height="6.4" fill="#cdd0d4" stroke="#959aa0" stroke-width="0.7"/>
<rect x="282.0" y="279.4" width="9.0" height="6.4" fill="#cdd0d4" stroke="#959aa0" stroke-width="0.7"/>
<rect x="165.4" y="245.3" width="9.0" height="6.4" fill="#cdd0d4" stroke="#959aa0" stroke-width="0.7"/>
<rect x="227.8" y="173.7" width="9.0" height="6.4" fill="#cdd0d4" stroke="#959aa0" stroke-width="0.7"/>
<rect x="258.5" y="191.9" width="9.0" height="6.4" fill="#cdd0d4" stroke="#959aa0" stroke-width="0.7"/>
<rect x="169.0" y="277.1" width="9.0" height="6.4" fill="#cdd0d4" stroke="#959aa0" stroke-width="0.7"/>
<rect x="225.2" y="198.4" width="9.0" height="6.4" fill="#cdd0d4" stroke="#959aa0" stroke-width="0.7"/>
<rect x="179.6" y="205.2" width="9.0" height="6.4" fill="#cdd0d4" stroke="#959aa0" stroke-width="0.7"/>
<rect x="202.2" y="260.1" width="9.0" height="6.4" fill="#cdd0d4" stroke="#959aa0" stroke-width="0.7"/>
<rect x="231.0" y="188.8" width="9.0" height="6.4" fill="#cdd0d4" stroke="#959aa0" stroke-width="0.7"/>
<rect x="215.6" y="313.0" width="9.0" height="6.4" fill="#cdd0d4" stroke="#959aa0" stroke-width="0.7"/>
<rect x="253.1" y="179.0" width="9.0" height="6.4" fill="#cdd0d4" stroke="#959aa0" stroke-width="0.7"/>
<rect x="216.7" y="239.5" width="9.0" height="6.4" fill="#cdd0d4" stroke="#959aa0" stroke-width="0.7"/>
<rect x="192.3" y="154.5" width="9.0" height="6.4" fill="#cdd0d4" stroke="#959aa0" stroke-width="0.7"/>
<rect x="202.4" y="261.8" width="9.0" height="6.4" fill="#cdd0d4" stroke="#959aa0" stroke-width="0.7"/>
<rect x="226.7" y="223.5" width="9.0" height="6.4" fill="#cdd0d4" stroke="#959aa0" stroke-width="0.7"/>
<rect x="187.7" y="165.3" width="9.0" height="6.4" fill="#cdd0d4" stroke="#959aa0" stroke-width="0.7"/>
<rect x="288.5" y="280.8" width="9.0" height="6.4" fill="#cdd0d4" stroke="#959aa0" stroke-width="0.7"/>
<rect x="193.2" y="221.4" width="9.0" height="6.4" fill="#cdd0d4" stroke="#959aa0" stroke-width="0.7"/>
<rect x="228.1" y="277.1" width="9.0" height="6.4" fill="#cdd0d4" stroke="#959aa0" stroke-width="0.7"/>
<rect x="236.2" y="280.6" width="9.0" height="6.4" fill="#cdd0d4" stroke="#959aa0" stroke-width="0.7"/>
<rect x="237.5" y="222.1" width="9.0" height="6.4" fill="#cdd0d4" stroke="#959aa0" stroke-width="0.7"/>
<rect x="246.2" y="288.1" width="9.0" height="6.4" fill="#cdd0d4" stroke="#959aa0" stroke-width="0.7"/>
<rect x="206.8" y="220.2" width="9.0" height="6.4" fill="#cdd0d4" stroke="#959aa0" stroke-width="0.7"/>
<rect x="272.7" y="286.5" width="9.0" height="6.4" fill="#cdd0d4" stroke="#959aa0" stroke-width="0.7"/>
<rect x="248.1" y="203.6" width="9.0" height="6.4" fill="#cdd0d4" stroke="#959aa0" stroke-width="0.7"/>
<rect x="255.0" y="188.1" width="9.0" height="6.4" fill="#cdd0d4" stroke="#959aa0" stroke-width="0.7"/>
<rect x="155.7" y="283.3" width="9.0" height="6.4" fill="#cdd0d4" stroke="#959aa0" stroke-width="0.7"/>
<rect x="178.9" y="219.2" width="9.0" height="6.4" fill="#cdd0d4" stroke="#959aa0" stroke-width="0.7"/>
<rect x="255.9" y="297.2" width="9.0" height="6.4" fill="#cdd0d4" stroke="#959aa0" stroke-width="0.7"/>
<rect x="199.9" y="183.2" width="9.0" height="6.4" fill="#cdd0d4" stroke="#959aa0" stroke-width="0.7"/>
<rect x="204.2" y="288.3" width="9.0" height="6.4" fill="#cdd0d4" stroke="#959aa0" stroke-width="0.7"/>
<rect x="204.1" y="201.3" width="9.0" height="6.4" fill="#cdd0d4" stroke="#959aa0" stroke-width="0.7"/>
<rect x="262.4" y="295.2" width="9.0" height="6.4" fill="#cdd0d4" stroke="#959aa0" stroke-width="0.7"/>
<rect x="244.0" y="235.6" width="9.0" height="6.4" fill="#cdd0d4" stroke="#959aa0" stroke-width="0.7"/>
<rect x="199.9" y="224.4" width="9.0" height="6.4" fill="#cdd0d4" stroke="#959aa0" stroke-width="0.7"/>
<rect x="201.1" y="297.7" width="9.0" height="6.4" fill="#cdd0d4" stroke="#959aa0" stroke-width="0.7"/>
<rect x="195.9" y="194.7" width="9.0" height="6.4" fill="#cdd0d4" stroke="#959aa0" stroke-width="0.7"/>
<rect x="269.0" y="284.1" width="9.0" height="6.4" fill="#cdd0d4" stroke="#959aa0" stroke-width="0.7"/>
<rect x="174.7" y="252.0" width="9.0" height="6.4" fill="#cdd0d4" stroke="#959aa0" stroke-width="0.7"/>
<rect x="231.8" y="270.8" width="9.0" height="6.4" fill="#cdd0d4" stroke="#959aa0" stroke-width="0.7"/>
<rect x="173.6" y="283.1" width="9.0" height="6.4" fill="#cdd0d4" stroke="#959aa0" stroke-width="0.7"/>
<rect x="209.7" y="256.4" width="9.0" height="6.4" fill="#cdd0d4" stroke="#959aa0" stroke-width="0.7"/>
<rect x="257.7" y="225.2" width="9.0" height="6.4" fill="#cdd0d4" stroke="#959aa0" stroke-width="0.7"/>
<rect x="243.8" y="289.8" width="9.0" height="6.4" fill="#cdd0d4" stroke="#959aa0" stroke-width="0.7"/>
<rect x="236.9" y="228.2" width="9.0" height="6.4" fill="#cdd0d4" stroke="#959aa0" stroke-width="0.7"/>
<rect x="243.7" y="183.7" width="9.0" height="6.4" fill="#cdd0d4" stroke="#959aa0" stroke-width="0.7"/>
<rect x="198.6" y="274.9" width="9.0" height="6.4" fill="#cdd0d4" stroke="#959aa0" stroke-width="0.7"/>
<rect x="232.9" y="176.8" width="9.0" height="6.4" fill="#cdd0d4" stroke="#959aa0" stroke-width="0.7"/>
<rect x="282.1" y="252.0" width="9.0" height="6.4" fill="#cdd0d4" stroke="#959aa0" stroke-width="0.7"/>
<rect x="267.2" y="292.1" width="9.0" height="6.4" fill="#cdd0d4" stroke="#959aa0" stroke-width="0.7"/>
<rect x="196.6" y="173.8" width="9.0" height="6.4" fill="#cdd0d4" stroke="#959aa0" stroke-width="0.7"/>
<rect x="250.8" y="255.9" width="9.0" height="6.4" fill="#cdd0d4" stroke="#959aa0" stroke-width="0.7"/>
<rect x="257.2" y="197.9" width="9.0" height="6.4" fill="#cdd0d4" stroke="#959aa0" stroke-width="0.7"/>
<rect x="253.6" y="286.9" width="9.0" height="6.4" fill="#cdd0d4" stroke="#959aa0" stroke-width="0.7"/>
<rect x="236.9" y="268.3" width="9.0" height="6.4" fill="#cdd0d4" stroke="#959aa0" stroke-width="0.7"/>
<rect x="237.9" y="200.4" width="9.0" height="6.4" fill="#cdd0d4" stroke="#959aa0" stroke-width="0.7"/>
<rect x="244.0" y="176.6" width="9.0" height="6.4" fill="#cdd0d4" stroke="#959aa0" stroke-width="0.7"/>
<rect x="262.4" y="257.4" width="9.0" height="6.4" fill="#cdd0d4" stroke="#959aa0" stroke-width="0.7"/>
<rect x="238.9" y="235.5" width="9.0" height="6.4" fill="#cdd0d4" stroke="#959aa0" stroke-width="0.7"/>
<rect x="189.0" y="216.0" width="9.0" height="6.4" fill="#cdd0d4" stroke="#959aa0" stroke-width="0.7"/>
<rect x="180.9" y="217.0" width="9.0" height="6.4" fill="#cdd0d4" stroke="#959aa0" stroke-width="0.7"/>
<rect x="254.2" y="278.8" width="9.0" height="6.4" fill="#cdd0d4" stroke="#959aa0" stroke-width="0.7"/>
<rect x="200.6" y="209.0" width="9.0" height="6.4" fill="#cdd0d4" stroke="#959aa0" stroke-width="0.7"/>
<rect x="218.6" y="257.2" width="9.0" height="6.4" fill="#cdd0d4" stroke="#959aa0" stroke-width="0.7"/>
<rect x="193.1" y="184.2" width="9.0" height="6.4" fill="#cdd0d4" stroke="#959aa0" stroke-width="0.7"/>
<rect x="193.7" y="270.8" width="9.0" height="6.4" fill="#cdd0d4" stroke="#959aa0" stroke-width="0.7"/>
<rect x="204.5" y="260.1" width="9.0" height="6.4" fill="#cdd0d4" stroke="#959aa0" stroke-width="0.7"/>
<rect x="292.1" y="265.6" width="9.0" height="6.4" fill="#cdd0d4" stroke="#959aa0" stroke-width="0.7"/>
<rect x="161.5" y="281.9" width="9.0" height="6.4" fill="#cdd0d4" stroke="#959aa0" stroke-width="0.7"/>
<rect x="234.9" y="162.9" width="9.0" height="6.4" fill="#cdd0d4" stroke="#959aa0" stroke-width="0.7"/>
<rect x="220.5" y="213.9" width="9.0" height="6.4" fill="#cdd0d4" stroke="#959aa0" stroke-width="0.7"/>
<rect x="229.0" y="193.5" width="9.0" height="6.4" fill="#cdd0d4" stroke="#959aa0" stroke-width="0.7"/>
<rect x="264.3" y="267.6" width="9.0" height="6.4" fill="#cdd0d4" stroke="#959aa0" stroke-width="0.7"/>
<rect x="200.5" y="197.0" width="9.0" height="6.4" fill="#cdd0d4" stroke="#959aa0" stroke-width="0.7"/>
<rect x="167.7" y="247.8" width="9.0" height="6.4" fill="#cdd0d4" stroke="#959aa0" stroke-width="0.7"/>
<rect x="234.2" y="207.4" width="9.0" height="6.4" fill="#cdd0d4" stroke="#959aa0" stroke-width="0.7"/>
<rect x="236.5" y="299.5" width="9.0" height="6.4" fill="#cdd0d4" stroke="#959aa0" stroke-width="0.7"/>
<rect x="236.0" y="204.6" width="9.0" height="6.4" fill="#cdd0d4" stroke="#959aa0" stroke-width="0.7"/>
<rect x="219.5" y="306.7" width="9.0" height="6.4" fill="#cdd0d4" stroke="#959aa0" stroke-width="0.7"/>
<rect x="191.7" y="262.9" width="9.0" height="6.4" fill="#cdd0d4" stroke="#959aa0" stroke-width="0.7"/>
<rect x="205.3" y="296.9" width="9.0" height="6.4" fill="#cdd0d4" stroke="#959aa0" stroke-width="0.7"/>
<rect x="195.9" y="305.3" width="9.0" height="6.4" fill="#cdd0d4" stroke="#959aa0" stroke-width="0.7"/>
<rect x="194.4" y="190.9" width="9.0" height="6.4" fill="#cdd0d4" stroke="#959aa0" stroke-width="0.7"/>
<rect x="202.5" y="260.1" width="9.0" height="6.4" fill="#cdd0d4" stroke="#959aa0" stroke-width="0.7"/>
<rect x="140.2" y="251.8" width="9.0" height="6.4" fill="#cdd0d4" stroke="#959aa0" stroke-width="0.7"/>
<rect x="151.5" y="269.4" width="9.0" height="6.4" fill="#cdd0d4" stroke="#959aa0" stroke-width="0.7"/>
<rect x="191.3" y="238.8" width="9.0" height="6.4" fill="#cdd0d4" stroke="#959aa0" stroke-width="0.7"/>
<rect x="217.4" y="261.7" width="9.0" height="6.4" fill="#cdd0d4" stroke="#959aa0" stroke-width="0.7"/>
<rect x="246.9" y="273.8" width="9.0" height="6.4" fill="#cdd0d4" stroke="#959aa0" stroke-width="0.7"/>
<rect x="221.3" y="287.6" width="9.0" height="6.4" fill="#cdd0d4" stroke="#959aa0" stroke-width="0.7"/>
<rect x="298.3" y="262.4" width="9.0" height="6.4" fill="#cdd0d4" stroke="#959aa0" stroke-width="0.7"/>
<rect x="284.9" y="253.8" width="9.0" height="6.4" fill="#cdd0d4" stroke="#959aa0" stroke-width="0.7"/>
<rect x="252.0" y="296.6" width="9.0" height="6.4" fill="#cdd0d4" stroke="#959aa0" stroke-width="0.7"/>
<rect x="255.1" y="182.3" width="9.0" height="6.4" fill="#cdd0d4" stroke="#959aa0" stroke-width="0.7"/>
<rect x="298.9" y="257.6" width="9.0" height="6.4" fill="#cdd0d4" stroke="#959aa0" stroke-width="0.7"/>
<rect x="248.6" y="299.8" width="9.0" height="6.4" fill="#cdd0d4" stroke="#959aa0" stroke-width="0.7"/>
<rect x="235.0" y="299.9" width="9.0" height="6.4" fill="#cdd0d4" stroke="#959aa0" stroke-width="0.7"/>
<rect x="177.5" y="279.0" width="9.0" height="6.4" fill="#cdd0d4" stroke="#959aa0" stroke-width="0.7"/>
<rect x="250.8" y="250.0" width="9.0" height="6.4" fill="#cdd0d4" stroke="#959aa0" stroke-width="0.7"/>
<rect x="182.9" y="201.3" width="9.0" height="6.4" fill="#cdd0d4" stroke="#959aa0" stroke-width="0.7"/>
<rect x="234.4" y="216.2" width="9.0" height="6.4" fill="#cdd0d4" stroke="#959aa0" stroke-width="0.7"/>
<rect x="188.2" y="251.2" width="9.0" height="6.4" fill="#cdd0d4" stroke="#959aa0" stroke-width="0.7"/>
<rect x="281.1" y="284.1" width="9.0" height="6.4" fill="#cdd0d4" stroke="#959aa0" stroke-width="0.7"/>
<rect x="257.0" y="276.2" width="9.0" height="6.4" fill="#cdd0d4" stroke="#959aa0" stroke-width="0.7"/>
<rect x="222.2" y="313.7" width="9.0" height="6.4" fill="#cdd0d4" stroke="#959aa0" stroke-width="0.7"/>
<rect x="194.1" y="229.2" width="9.0" height="6.4" fill="#cdd0d4" stroke="#959aa0" stroke-width="0.7"/>
<rect x="204.7" y="181.8" width="9.0" height="6.4" fill="#cdd0d4" stroke="#959aa0" stroke-width="0.7"/>
<rect x="159.8" y="281.2" width="9.0" height="6.4" fill="#cdd0d4" stroke="#959aa0" stroke-width="0.7"/>
<rect x="192.8" y="297.9" width="9.0" height="6.4" fill="#cdd0d4" stroke="#959aa0" stroke-width="0.7"/>
<rect x="173.5" y="274.1" width="9.0" height="6.4" fill="#cdd0d4" stroke="#959aa0" stroke-width="0.7"/>
<rect x="277.0" y="290.2" width="9.0" height="6.4" fill="#cdd0d4" stroke="#959aa0" stroke-width="0.7"/>
<rect x="211.3" y="269.7" width="9.0" height="6.4" fill="#cdd0d4" stroke="#959aa0" stroke-width="0.7"/>
<rect x="272.1" y="291.7" width="9.0" height="6.4" fill="#cdd0d4" stroke="#959aa0" stroke-width="0.7"/>
<rect x="270.3" y="288.2" width="9.0" height="6.4" fill="#cdd0d4" stroke="#959aa0" stroke-width="0.7"/>
<rect x="226.6" y="184.1" width="9.0" height="6.4" fill="#cdd0d4" stroke="#959aa0" stroke-width="0.7"/>
<rect x="275.9" y="261.8" width="9.0" height="6.4" fill="#cdd0d4" stroke="#959aa0" stroke-width="0.7"/>
<rect x="245.0" y="160.7" width="9.0" height="6.4" fill="#cdd0d4" stroke="#959aa0" stroke-width="0.7"/>
<rect x="248.7" y="221.3" width="9.0" height="6.4" fill="#cdd0d4" stroke="#959aa0" stroke-width="0.7"/>
<rect x="293.8" y="274.1" width="9.0" height="6.4" fill="#cdd0d4" stroke="#959aa0" stroke-width="0.7"/>
<rect x="243.8" y="245.1" width="9.0" height="6.4" fill="#cdd0d4" stroke="#959aa0" stroke-width="0.7"/>
<rect x="188.6" y="236.5" width="9.0" height="6.4" fill="#cdd0d4" stroke="#959aa0" stroke-width="0.7"/>
<rect x="217.9" y="239.4" width="9.0" height="6.4" fill="#cdd0d4" stroke="#959aa0" stroke-width="0.7"/>
<rect x="208.4" y="176.4" width="9.0" height="6.4" fill="#cdd0d4" stroke="#959aa0" stroke-width="0.7"/>
<rect x="212.7" y="270.6" width="9.0" height="6.4" fill="#cdd0d4" stroke="#959aa0" stroke-width="0.7"/>
<rect x="235.3" y="287.8" width="9.0" height="6.4" fill="#cdd0d4" stroke="#959aa0" stroke-width="0.7"/>
<rect x="245.7" y="177.1" width="9.0" height="6.4" fill="#cdd0d4" stroke="#959aa0" stroke-width="0.7"/>
<rect x="235.4" y="198.0" width="9.0" height="6.4" fill="#cdd0d4" stroke="#959aa0" stroke-width="0.7"/>
<rect x="233.3" y="306.9" width="9.0" height="6.4" fill="#cdd0d4" stroke="#959aa0" stroke-width="0.7"/>
<rect x="217.7" y="303.9" width="9.0" height="6.4" fill="#cdd0d4" stroke="#959aa0" stroke-width="0.7"/>
<rect x="183.6" y="258.2" width="9.0" height="6.4" fill="#cdd0d4" stroke="#959aa0" stroke-width="0.7"/>
<rect x="267.4" y="287.8" width="9.0" height="6.4" fill="#cdd0d4" stroke="#959aa0" stroke-width="0.7"/>
<rect x="184.9" y="255.0" width="9.0" height="6.4" fill="#cdd0d4" stroke="#959aa0" stroke-width="0.7"/>
<rect x="186.7" y="174.9" width="9.0" height="6.4" fill="#cdd0d4" stroke="#959aa0" stroke-width="0.7"/>
<rect x="282.1" y="276.0" width="9.0" height="6.4" fill="#cdd0d4" stroke="#959aa0" stroke-width="0.7"/>
<rect x="192.9" y="276.2" width="9.0" height="6.4" fill="#cdd0d4" stroke="#959aa0" stroke-width="0.7"/>
<rect x="231.5" y="164.3" width="9.0" height="6.4" fill="#cdd0d4" stroke="#959aa0" stroke-width="0.7"/>
<rect x="286.4" y="283.8" width="9.0" height="6.4" fill="#cdd0d4" stroke="#959aa0" stroke-width="0.7"/>
<rect x="177.0" y="171.3" width="9.0" height="6.4" fill="#cdd0d4" stroke="#959aa0" stroke-width="0.7"/>
<rect x="207.6" y="310.2" width="9.0" height="6.4" fill="#cdd0d4" stroke="#959aa0" stroke-width="0.7"/>
<rect x="201.5" y="298.6" width="9.0" height="6.4" fill="#cdd0d4" stroke="#959aa0" stroke-width="0.7"/>
<rect x="206.4" y="271.1" width="9.0" height="6.4" fill="#cdd0d4" stroke="#959aa0" stroke-width="0.7"/>
<rect x="154.9" y="247.3" width="9.0" height="6.4" fill="#cdd0d4" stroke="#959aa0" stroke-width="0.7"/>
<rect x="241.8" y="302.2" width="9.0" height="6.4" fill="#cdd0d4" stroke="#959aa0" stroke-width="0.7"/>
<rect x="251.2" y="291.4" width="9.0" height="6.4" fill="#cdd0d4" stroke="#959aa0" stroke-width="0.7"/>
<rect x="158.9" y="266.2" width="9.0" height="6.4" fill="#cdd0d4" stroke="#959aa0" stroke-width="0.7"/>
<rect x="188.3" y="283.9" width="9.0" height="6.4" fill="#cdd0d4" stroke="#959aa0" stroke-width="0.7"/>
<rect x="158.9" y="255.6" width="9.0" height="6.4" fill="#cdd0d4" stroke="#959aa0" stroke-width="0.7"/>
<rect x="144.0" y="247.3" width="9.0" height="6.4" fill="#cdd0d4" stroke="#959aa0" stroke-width="0.7"/>
<rect x="255.7" y="275.2" width="9.0" height="6.4" fill="#cdd0d4" stroke="#959aa0" stroke-width="0.7"/>
<rect x="285.3" y="271.8" width="9.0" height="6.4" fill="#cdd0d4" stroke="#959aa0" stroke-width="0.7"/>
<rect x="192.0" y="226.4" width="9.0" height="6.4" fill="#cdd0d4" stroke="#959aa0" stroke-width="0.7"/>
<rect x="278.1" y="271.8" width="9.0" height="6.4" fill="#cdd0d4" stroke="#959aa0" stroke-width="0.7"/>
<rect x="248.4" y="175.0" width="9.0" height="6.4" fill="#cdd0d4" stroke="#959aa0" stroke-width="0.7"/>
<rect x="186.8" y="190.2" width="9.0" height="6.4" fill="#cdd0d4" stroke="#959aa0" stroke-width="0.7"/>
<rect x="244.4" y="213.4" width="9.0" height="6.4" fill="#cdd0d4" stroke="#959aa0" stroke-width="0.7"/>
<rect x="241.4" y="179.7" width="9.0" height="6.4" fill="#cdd0d4" stroke="#959aa0" stroke-width="0.7"/>
<rect x="287.5" y="282.5" width="9.0" height="6.4" fill="#cdd0d4" stroke="#959aa0" stroke-width="0.7"/>
<rect x="234.9" y="151.4" width="9.0" height="6.4" fill="#cdd0d4" stroke="#959aa0" stroke-width="0.7"/>
<rect x="158.4" y="280.7" width="9.0" height="6.4" fill="#cdd0d4" stroke="#959aa0" stroke-width="0.7"/>
<rect x="234.3" y="225.6" width="9.0" height="6.4" fill="#cdd0d4" stroke="#959aa0" stroke-width="0.7"/>
<rect x="217.1" y="262.7" width="9.0" height="6.4" fill="#cdd0d4" stroke="#959aa0" stroke-width="0.7"/>
<rect x="240.5" y="256.0" width="9.0" height="6.4" fill="#cdd0d4" stroke="#959aa0" stroke-width="0.7"/>
<rect x="231.8" y="307.1" width="9.0" height="6.4" fill="#cdd0d4" stroke="#959aa0" stroke-width="0.7"/>
<rect x="256.5" y="242.9" width="9.0" height="6.4" fill="#cdd0d4" stroke="#959aa0" stroke-width="0.7"/>
<rect x="191.2" y="176.8" width="9.0" height="6.4" fill="#cdd0d4" stroke="#959aa0" stroke-width="0.7"/>
<rect x="263.5" y="247.8" width="9.0" height="6.4" fill="#cdd0d4" stroke="#959aa0" stroke-width="0.7"/>
<rect x="221.0" y="304.8" width="9.0" height="6.4" fill="#cdd0d4" stroke="#959aa0" stroke-width="0.7"/>
<rect x="194.2" y="269.0" width="9.0" height="6.4" fill="#cdd0d4" stroke="#959aa0" stroke-width="0.7"/>
<rect x="156.7" y="273.0" width="9.0" height="6.4" fill="#cdd0d4" stroke="#959aa0" stroke-width="0.7"/>
<rect x="270.2" y="282.3" width="9.0" height="6.4" fill="#cdd0d4" stroke="#959aa0" stroke-width="0.7"/>
<rect x="241.9" y="194.2" width="9.0" height="6.4" fill="#cdd0d4" stroke="#959aa0" stroke-width="0.7"/>
<rect x="232.7" y="163.1" width="9.0" height="6.4" fill="#cdd0d4" stroke="#959aa0" stroke-width="0.7"/>
<rect x="160.7" y="277.9" width="9.0" height="6.4" fill="#cdd0d4" stroke="#959aa0" stroke-width="0.7"/>
<rect x="264.5" y="288.3" width="9.0" height="6.4" fill="#cdd0d4" stroke="#959aa0" stroke-width="0.7"/>
<rect x="204.1" y="287.2" width="9.0" height="6.4" fill="#cdd0d4" stroke="#959aa0" stroke-width="0.7"/>
<rect x="245.2" y="173.6" width="9.0" height="6.4" fill="#cdd0d4" stroke="#959aa0" stroke-width="0.7"/>
<rect x="209.4" y="264.1" width="9.0" height="6.4" fill="#cdd0d4" stroke="#959aa0" stroke-width="0.7"/>
<rect x="235.9" y="263.2" width="9.0" height="6.4" fill="#cdd0d4" stroke="#959aa0" stroke-width="0.7"/>
<rect x="193.8" y="170.2" width="9.0" height="6.4" fill="#cdd0d4" stroke="#959aa0" stroke-width="0.7"/>
<rect x="201.7" y="197.1" width="9.0" height="6.4" fill="#cdd0d4" stroke="#959aa0" stroke-width="0.7"/>
<rect x="257.5" y="162.1" width="9.0" height="6.4" fill="#cdd0d4" stroke="#959aa0" stroke-width="0.7"/>
<rect x="294.2" y="246.4" width="9.0" height="6.4" fill="#cdd0d4" stroke="#959aa0" stroke-width="0.7"/>
<rect x="232.5" y="288.7" width="9.0" height="6.4" fill="#cdd0d4" stroke="#959aa0" stroke-width="0.7"/>
<rect x="229.0" y="198.6" width="9.0" height="6.4" fill="#cdd0d4" stroke="#959aa0" stroke-width="0.7"/>
<rect x="233.2" y="259.6" width="9.0" height="6.4" fill="#cdd0d4" stroke="#959aa0" stroke-width="0.7"/>
<rect x="209.1" y="234.0" width="9.0" height="6.4" fill="#cdd0d4" stroke="#959aa0" stroke-width="0.7"/>
<rect x="194.3" y="246.0" width="9.0" height="6.4" fill="#cdd0d4" stroke="#959aa0" stroke-width="0.7"/>
<rect x="244.4" y="211.5" width="9.0" height="6.4" fill="#cdd0d4" stroke="#959aa0" stroke-width="0.7"/>
<rect x="184.8" y="244.6" width="9.0" height="6.4" fill="#cdd0d4" stroke="#959aa0" stroke-width="0.7"/>
<rect x="265.0" y="267.0" width="9.0" height="6.4" fill="#cdd0d4" stroke="#959aa0" stroke-width="0.7"/>
<rect x="180.2" y="156.8" width="9.0" height="6.4" fill="#cdd0d4" stroke="#959aa0" stroke-width="0.7"/>
<rect x="248.4" y="168.8" width="9.0" height="6.4" fill="#cdd0d4" stroke="#959aa0" stroke-width="0.7"/>
<rect x="217.7" y="292.5" width="9.0" height="6.4" fill="#cdd0d4" stroke="#959aa0" stroke-width="0.7"/>
<rect x="251.9" y="182.3" width="9.0" height="6.4" fill="#cdd0d4" stroke="#959aa0" stroke-width="0.7"/>
<rect x="197.9" y="208.9" width="9.0" height="6.4" fill="#cdd0d4" stroke="#959aa0" stroke-width="0.7"/>
<rect x="278.6" y="263.6" width="9.0" height="6.4" fill="#cdd0d4" stroke="#959aa0" stroke-width="0.7"/>
<rect x="173.8" y="286.3" width="9.0" height="6.4" fill="#cdd0d4" stroke="#959aa0" stroke-width="0.7"/>
<rect x="202.7" y="301.0" width="9.0" height="6.4" fill="#cdd0d4" stroke="#959aa0" stroke-width="0.7"/>
<rect x="238.1" y="198.6" width="9.0" height="6.4" fill="#cdd0d4" stroke="#959aa0" stroke-width="0.7"/>
<rect x="167.0" y="264.4" width="9.0" height="6.4" fill="#cdd0d4" stroke="#959aa0" stroke-width="0.7"/>
<rect x="193.7" y="182.7" width="9.0" height="6.4" fill="#cdd0d4" stroke="#959aa0" stroke-width="0.7"/>
<rect x="210.5" y="306.0" width="9.0" height="6.4" fill="#cdd0d4" stroke="#959aa0" stroke-width="0.7"/>
<rect x="237.3" y="300.8" width="9.0" height="6.4" fill="#cdd0d4" stroke="#959aa0" stroke-width="0.7"/>
<rect x="259.6" y="287.3" width="9.0" height="6.4" fill="#cdd0d4" stroke="#959aa0" stroke-width="0.7"/>
<rect x="243.2" y="303.3" width="9.0" height="6.4" fill="#cdd0d4" stroke="#959aa0" stroke-width="0.7"/>
<rect x="178.1" y="291.3" width="9.0" height="6.4" fill="#cdd0d4" stroke="#959aa0" stroke-width="0.7"/>
<rect x="234.1" y="253.6" width="9.0" height="6.4" fill="#cdd0d4" stroke="#959aa0" stroke-width="0.7"/>
<rect x="274.7" y="274.1" width="9.0" height="6.4" fill="#cdd0d4" stroke="#959aa0" stroke-width="0.7"/>
<rect x="222.7" y="274.0" width="9.0" height="6.4" fill="#cdd0d4" stroke="#959aa0" stroke-width="0.7"/>
<rect x="226.7" y="222.7" width="9.0" height="6.4" fill="#cdd0d4" stroke="#959aa0" stroke-width="0.7"/>
<rect x="149.6" y="256.3" width="9.0" height="6.4" fill="#cdd0d4" stroke="#959aa0" stroke-width="0.7"/>
<rect x="246.6" y="182.6" width="9.0" height="6.4" fill="#cdd0d4" stroke="#959aa0" stroke-width="0.7"/>
<rect x="190.2" y="298.0" width="9.0" height="6.4" fill="#cdd0d4" stroke="#959aa0" stroke-width="0.7"/>
<rect x="230.7" y="216.1" width="9.0" height="6.4" fill="#cdd0d4" stroke="#959aa0" stroke-width="0.7"/>
<rect x="243.2" y="297.0" width="9.0" height="6.4" fill="#cdd0d4" stroke="#959aa0" stroke-width="0.7"/>
<rect x="248.5" y="215.4" width="9.0" height="6.4" fill="#cdd0d4" stroke="#959aa0" stroke-width="0.7"/>
<rect x="195.0" y="249.4" width="9.0" height="6.4" fill="#cdd0d4" stroke="#959aa0" stroke-width="0.7"/>
<rect x="217.8" y="300.3" width="9.0" height="6.4" fill="#cdd0d4" stroke="#959aa0" stroke-width="0.7"/>
<rect x="252.6" y="284.7" width="9.0" height="6.4" fill="#cdd0d4" stroke="#959aa0" stroke-width="0.7"/>
<rect x="154.5" y="281.7" width="9.0" height="6.4" fill="#cdd0d4" stroke="#959aa0" stroke-width="0.7"/>
<rect x="201.0" y="189.5" width="9.0" height="6.4" fill="#cdd0d4" stroke="#959aa0" stroke-width="0.7"/>
<rect x="254.9" y="297.5" width="9.0" height="6.4" fill="#cdd0d4" stroke="#959aa0" stroke-width="0.7"/>
<rect x="255.0" y="192.3" width="9.0" height="6.4" fill="#cdd0d4" stroke="#959aa0" stroke-width="0.7"/>
<rect x="191.8" y="270.8" width="9.0" height="6.4" fill="#cdd0d4" stroke="#959aa0" stroke-width="0.7"/>
<rect x="213.0" y="287.0" width="9.0" height="6.4" fill="#cdd0d4" stroke="#959aa0" stroke-width="0.7"/>
<rect x="225.0" y="241.6" width="9.0" height="6.4" fill="#cdd0d4" stroke="#959aa0" stroke-width="0.7"/>
<rect x="248.0" y="237.7" width="9.0" height="6.4" fill="#cdd0d4" stroke="#959aa0" stroke-width="0.7"/>
<rect x="190.7" y="163.9" width="9.0" height="6.4" fill="#cdd0d4" stroke="#959aa0" stroke-width="0.7"/>
<rect x="248.1" y="259.0" width="9.0" height="6.4" fill="#cdd0d4" stroke="#959aa0" stroke-width="0.7"/>
<rect x="164.6" y="278.1" width="9.0" height="6.4" fill="#cdd0d4" stroke="#959aa0" stroke-width="0.7"/>
<rect x="222.7" y="258.6" width="9.0" height="6.4" fill="#cdd0d4" stroke="#959aa0" stroke-width="0.7"/>
<rect x="183.0" y="220.3" width="9.0" height="6.4" fill="#cdd0d4" stroke="#959aa0" stroke-width="0.7"/>
<rect x="184.7" y="158.6" width="9.0" height="6.4" fill="#cdd0d4" stroke="#959aa0" stroke-width="0.7"/>
<rect x="148.1" y="246.0" width="9.0" height="6.4" fill="#cdd0d4" stroke="#959aa0" stroke-width="0.7"/>
<rect x="204.5" y="206.3" width="9.0" height="6.4" fill="#cdd0d4" stroke="#959aa0" stroke-width="0.7"/>
<rect x="198.7" y="277.5" width="9.0" height="6.4" fill="#cdd0d4" stroke="#959aa0" stroke-width="0.7"/>
<rect x="149.7" y="274.7" width="9.0" height="6.4" fill="#cdd0d4" stroke="#959aa0" stroke-width="0.7"/>
<rect x="203.5" y="238.4" width="9.0" height="6.4" fill="#cdd0d4" stroke="#959aa0" stroke-width="0.7"/>
<rect x="249.1" y="164.7" width="9.0" height="6.4" fill="#cdd0d4" stroke="#959aa0" stroke-width="0.7"/>
<rect x="250.5" y="215.3" width="9.0" height="6.4" fill="#cdd0d4" stroke="#959aa0" stroke-width="0.7"/>
<rect x="186.4" y="158.6" width="9.0" height="6.4" fill="#cdd0d4" stroke="#959aa0" stroke-width="0.7"/>
<rect x="190.3" y="173.1" width="9.0" height="6.4" fill="#cdd0d4" stroke="#959aa0" stroke-width="0.7"/>
<rect x="276.9" y="281.1" width="9.0" height="6.4" fill="#cdd0d4" stroke="#959aa0" stroke-width="0.7"/>
<rect x="287.7" y="284.9" width="9.0" height="6.4" fill="#cdd0d4" stroke="#959aa0" stroke-width="0.7"/>
<rect x="245.8" y="289.9" width="9.0" height="6.4" fill="#cdd0d4" stroke="#959aa0" stroke-width="0.7"/>
<rect x="243.0" y="179.8" width="9.0" height="6.4" fill="#cdd0d4" stroke="#959aa0" stroke-width="0.7"/>
<rect x="195.4" y="235.2" width="9.0" height="6.4" fill="#cdd0d4" stroke="#959aa0" stroke-width="0.7"/>
<rect x="188.8" y="237.2" width="9.0" height="6.4" fill="#cdd0d4" stroke="#959aa0" stroke-width="0.7"/>
<rect x="177.9" y="159.8" width="9.0" height="6.4" fill="#cdd0d4" stroke="#959aa0" stroke-width="0.7"/>
<rect x="280.8" y="248.2" width="9.0" height="6.4" fill="#cdd0d4" stroke="#959aa0" stroke-width="0.7"/>
<rect x="177.9" y="185.3" width="9.0" height="6.4" fill="#cdd0d4" stroke="#959aa0" stroke-width="0.7"/>
<rect x="194.3" y="177.0" width="9.0" height="6.4" fill="#cdd0d4" stroke="#959aa0" stroke-width="0.7"/>
<rect x="175.7" y="280.0" width="9.0" height="6.4" fill="#cdd0d4" stroke="#959aa0" stroke-width="0.7"/>
<rect x="201.0" y="172.6" width="9.0" height="6.4" fill="#cdd0d4" stroke="#959aa0" stroke-width="0.7"/>
<rect x="190.0" y="289.2" width="9.0" height="6.4" fill="#cdd0d4" stroke="#959aa0" stroke-width="0.7"/>
<rect x="215.3" y="282.3" width="9.0" height="6.4" fill="#cdd0d4" stroke="#959aa0" stroke-width="0.7"/>
<rect x="215.5" y="242.5" width="9.0" height="6.4" fill="#cdd0d4" stroke="#959aa0" stroke-width="0.7"/>
<rect x="185.9" y="220.7" width="9.0" height="6.4" fill="#cdd0d4" stroke="#959aa0" stroke-width="0.7"/>
<rect x="249.5" y="214.9" width="9.0" height="6.4" fill="#cdd0d4" stroke="#959aa0" stroke-width="0.7"/>
<rect x="196.6" y="262.2" width="9.0" height="6.4" fill="#cdd0d4" stroke="#959aa0" stroke-width="0.7"/>
<rect x="152.4" y="269.8" width="9.0" height="6.4" fill="#cdd0d4" stroke="#959aa0" stroke-width="0.7"/>
<rect x="188.9" y="278.2" width="9.0" height="6.4" fill="#cdd0d4" stroke="#959aa0" stroke-width="0.7"/>
<rect x="249.6" y="266.6" width="9.0" height="6.4" fill="#cdd0d4" stroke="#959aa0" stroke-width="0.7"/>
<rect x="203.9" y="248.0" width="9.0" height="6.4" fill="#cdd0d4" stroke="#959aa0" stroke-width="0.7"/>
<rect x="241.0" y="268.2" width="9.0" height="6.4" fill="#cdd0d4" stroke="#959aa0" stroke-width="0.7"/>
<rect x="240.6" y="240.7" width="9.0" height="6.4" fill="#cdd0d4" stroke="#959aa0" stroke-width="0.7"/>
<rect x="191.7" y="165.4" width="9.0" height="6.4" fill="#cdd0d4" stroke="#959aa0" stroke-width="0.7"/>
<rect x="193.4" y="210.5" width="9.0" height="6.4" fill="#cdd0d4" stroke="#959aa0" stroke-width="0.7"/>
<rect x="209.5" y="306.4" width="9.0" height="6.4" fill="#cdd0d4" stroke="#959aa0" stroke-width="0.7"/>
<rect x="187.5" y="181.3" width="9.0" height="6.4" fill="#cdd0d4" stroke="#959aa0" stroke-width="0.7"/>
<rect x="241.9" y="228.7" width="9.0" height="6.4" fill="#cdd0d4" stroke="#959aa0" stroke-width="0.7"/>
<rect x="238.2" y="262.6" width="9.0" height="6.4" fill="#cdd0d4" stroke="#959aa0" stroke-width="0.7"/>
<rect x="198.6" y="178.3" width="9.0" height="6.4" fill="#cdd0d4" stroke="#959aa0" stroke-width="0.7"/>
<rect x="187.0" y="257.7" width="9.0" height="6.4" fill="#cdd0d4" stroke="#959aa0" stroke-width="0.7"/>
<rect x="234.5" y="226.9" width="9.0" height="6.4" fill="#cdd0d4" stroke="#959aa0" stroke-width="0.7"/>
<rect x="213.7" y="264.3" width="9.0" height="6.4" fill="#cdd0d4" stroke="#959aa0" stroke-width="0.7"/>
<rect x="172.9" y="245.9" width="9.0" height="6.4" fill="#cdd0d4" stroke="#959aa0" stroke-width="0.7"/>
<rect x="254.2" y="268.8" width="9.0" height="6.4" fill="#cdd0d4" stroke="#959aa0" stroke-width="0.7"/>
<rect x="239.6" y="225.5" width="9.0" height="6.4" fill="#cdd0d4" stroke="#959aa0" stroke-width="0.7"/>
<rect x="267.4" y="287.3" width="9.0" height="6.4" fill="#cdd0d4" stroke="#959aa0" stroke-width="0.7"/>
<rect x="227.3" y="295.6" width="9.0" height="6.4" fill="#cdd0d4" stroke="#959aa0" stroke-width="0.7"/>
<rect x="257.9" y="270.4" width="9.0" height="6.4" fill="#cdd0d4" stroke="#959aa0" stroke-width="0.7"/>
<rect x="297.6" y="253.6" width="9.0" height="6.4" fill="#cdd0d4" stroke="#959aa0" stroke-width="0.7"/>
<rect x="251.2" y="215.6" width="9.0" height="6.4" fill="#cdd0d4" stroke="#959aa0" stroke-width="0.7"/>
<rect x="187.2" y="180.5" width="9.0" height="6.4" fill="#cdd0d4" stroke="#959aa0" stroke-width="0.7"/>
<rect x="206.8" y="216.3" width="9.0" height="6.4" fill="#cdd0d4" stroke="#959aa0" stroke-width="0.7"/>
<rect x="260.9" y="259.9" width="9.0" height="6.4" fill="#cdd0d4" stroke="#959aa0" stroke-width="0.7"/>
<rect x="293.3" y="272.6" width="9.0" height="6.4" fill="#cdd0d4" stroke="#959aa0" stroke-width="0.7"/>
<rect x="197.8" y="205.9" width="9.0" height="6.4" fill="#cdd0d4" stroke="#959aa0" stroke-width="0.7"/>
<rect x="198.5" y="305.0" width="9.0" height="6.4" fill="#cdd0d4" stroke="#959aa0" stroke-width="0.7"/>
<rect x="261.2" y="257.7" width="9.0" height="6.4" fill="#cdd0d4" stroke="#959aa0" stroke-width="0.7"/>
<rect x="212.8" y="298.9" width="9.0" height="6.4" fill="#cdd0d4" stroke="#959aa0" stroke-width="0.7"/>
<rect x="235.0" y="205.1" width="9.0" height="6.4" fill="#cdd0d4" stroke="#959aa0" stroke-width="0.7"/>
<rect x="277.7" y="285.8" width="9.0" height="6.4" fill="#cdd0d4" stroke="#959aa0" stroke-width="0.7"/>
<rect x="256.4" y="178.1" width="9.0" height="6.4" fill="#cdd0d4" stroke="#959aa0" stroke-width="0.7"/>
<rect x="290.9" y="250.9" width="9.0" height="6.4" fill="#cdd0d4" stroke="#959aa0" stroke-width="0.7"/>
<rect x="241.1" y="212.7" width="9.0" height="6.4" fill="#cdd0d4" stroke="#959aa0" stroke-width="0.7"/>
<rect x="148.9" y="255.7" width="9.0" height="6.4" fill="#cdd0d4" stroke="#959aa0" stroke-width="0.7"/>
<rect x="246.4" y="226.4" width="9.0" height="6.4" fill="#cdd0d4" stroke="#959aa0" stroke-width="0.7"/>
<rect x="237.6" y="292.1" width="9.0" height="6.4" fill="#cdd0d4" stroke="#959aa0" stroke-width="0.7"/>
<rect x="284.6" y="276.3" width="9.0" height="6.4" fill="#cdd0d4" stroke="#959aa0" stroke-width="0.7"/>
<rect x="239.0" y="298.1" width="9.0" height="6.4" fill="#cdd0d4" stroke="#959aa0" stroke-width="0.7"/>
<rect x="197.6" y="191.7" width="9.0" height="6.4" fill="#cdd0d4" stroke="#959aa0" stroke-width="0.7"/>
<rect x="177.4" y="231.3" width="9.0" height="6.4" fill="#cdd0d4" stroke="#959aa0" stroke-width="0.7"/>
<rect x="238.4" y="191.6" width="9.0" height="6.4" fill="#cdd0d4" stroke="#959aa0" stroke-width="0.7"/>
<rect x="189.6" y="158.4" width="9.0" height="6.4" fill="#cdd0d4" stroke="#959aa0" stroke-width="0.7"/>
<rect x="243.9" y="283.7" width="9.0" height="6.4" fill="#cdd0d4" stroke="#959aa0" stroke-width="0.7"/>
<rect x="246.6" y="186.8" width="9.0" height="6.4" fill="#cdd0d4" stroke="#959aa0" stroke-width="0.7"/>
<rect x="218.5" y="313.1" width="9.0" height="6.4" fill="#cdd0d4" stroke="#959aa0" stroke-width="0.7"/>
<rect x="196.0" y="206.3" width="9.0" height="6.4" fill="#cdd0d4" stroke="#959aa0" stroke-width="0.7"/>
<rect x="197.3" y="259.9" width="9.0" height="6.4" fill="#cdd0d4" stroke="#959aa0" stroke-width="0.7"/>
<rect x="203.7" y="187.9" width="9.0" height="6.4" fill="#cdd0d4" stroke="#959aa0" stroke-width="0.7"/>
<rect x="257.1" y="206.9" width="9.0" height="6.4" fill="#cdd0d4" stroke="#959aa0" stroke-width="0.7"/>
<rect x="187.1" y="236.5" width="9.0" height="6.4" fill="#cdd0d4" stroke="#959aa0" stroke-width="0.7"/>
<rect x="269.0" y="273.6" width="9.0" height="6.4" fill="#cdd0d4" stroke="#959aa0" stroke-width="0.7"/>
<rect x="239.4" y="201.0" width="9.0" height="6.4" fill="#cdd0d4" stroke="#959aa0" stroke-width="0.7"/>
<rect x="263.7" y="253.1" width="9.0" height="6.4" fill="#cdd0d4" stroke="#959aa0" stroke-width="0.7"/>
<rect x="182.9" y="230.0" width="9.0" height="6.4" fill="#cdd0d4" stroke="#959aa0" stroke-width="0.7"/>
<rect x="204.1" y="250.6" width="9.0" height="6.4" fill="#cdd0d4" stroke="#959aa0" stroke-width="0.7"/>
<rect x="255.9" y="255.3" width="9.0" height="6.4" fill="#cdd0d4" stroke="#959aa0" stroke-width="0.7"/>
<rect x="228.1" y="269.0" width="9.0" height="6.4" fill="#cdd0d4" stroke="#959aa0" stroke-width="0.7"/>
<rect x="213.6" y="283.5" width="9.0" height="6.4" fill="#cdd0d4" stroke="#959aa0" stroke-width="0.7"/>
<rect x="240.1" y="265.8" width="9.0" height="6.4" fill="#cdd0d4" stroke="#959aa0" stroke-width="0.7"/>
<rect x="226.2" y="304.2" width="9.0" height="6.4" fill="#cdd0d4" stroke="#959aa0" stroke-width="0.7"/>
<rect x="176.0" y="245.0" width="9.0" height="6.4" fill="#cdd0d4" stroke="#959aa0" stroke-width="0.7"/>
<rect x="239.9" y="271.1" width="9.0" height="6.4" fill="#cdd0d4" stroke="#959aa0" stroke-width="0.7"/>
<rect x="202.2" y="240.8" width="9.0" height="6.4" fill="#cdd0d4" stroke="#959aa0" stroke-width="0.7"/>
<rect x="206.9" y="282.2" width="9.0" height="6.4" fill="#cdd0d4" stroke="#959aa0" stroke-width="0.7"/>
<rect x="187.7" y="272.4" width="9.0" height="6.4" fill="#cdd0d4" stroke="#959aa0" stroke-width="0.7"/>
<rect x="213.3" y="248.4" width="9.0" height="6.4" fill="#cdd0d4" stroke="#959aa0" stroke-width="0.7"/>
<rect x="248.0" y="251.8" width="9.0" height="6.4" fill="#cdd0d4" stroke="#959aa0" stroke-width="0.7"/>
<rect x="253.4" y="221.0" width="9.0" height="6.4" fill="#cdd0d4" stroke="#959aa0" stroke-width="0.7"/>
<rect x="239.7" y="180.1" width="9.0" height="6.4" fill="#cdd0d4" stroke="#959aa0" stroke-width="0.7"/>
<rect x="278.4" y="253.3" width="9.0" height="6.4" fill="#cdd0d4" stroke="#959aa0" stroke-width="0.7"/>
<rect x="215.9" y="310.0" width="9.0" height="6.4" fill="#cdd0d4" stroke="#959aa0" stroke-width="0.7"/>
<rect x="180.1" y="213.5" width="9.0" height="6.4" fill="#cdd0d4" stroke="#959aa0" stroke-width="0.7"/>
<rect x="194.4" y="203.4" width="9.0" height="6.4" fill="#cdd0d4" stroke="#959aa0" stroke-width="0.7"/>
<rect x="224.1" y="206.0" width="9.0" height="6.4" fill="#cdd0d4" stroke="#959aa0" stroke-width="0.7"/>
<rect x="203.5" y="235.7" width="9.0" height="6.4" fill="#cdd0d4" stroke="#959aa0" stroke-width="0.7"/>
<rect x="190.9" y="266.2" width="9.0" height="6.4" fill="#cdd0d4" stroke="#959aa0" stroke-width="0.7"/>
<rect x="250.3" y="285.1" width="9.0" height="6.4" fill="#cdd0d4" stroke="#959aa0" stroke-width="0.7"/>
<rect x="176.6" y="268.9" width="9.0" height="6.4" fill="#cdd0d4" stroke="#959aa0" stroke-width="0.7"/>
<rect x="224.2" y="294.3" width="9.0" height="6.4" fill="#cdd0d4" stroke="#959aa0" stroke-width="0.7"/>
<rect x="215.9" y="283.2" width="9.0" height="6.4" fill="#cdd0d4" stroke="#959aa0" stroke-width="0.7"/>
<rect x="258.2" y="209.9" width="9.0" height="6.4" fill="#cdd0d4" stroke="#959aa0" stroke-width="0.7"/>
<rect x="251.6" y="160.9" width="9.0" height="6.4" fill="#cdd0d4" stroke="#959aa0" stroke-width="0.7"/>
<rect x="242.5" y="185.2" width="9.0" height="6.4" fill="#cdd0d4" stroke="#959aa0" stroke-width="0.7"/>
<rect x="255.2" y="254.5" width="9.0" height="6.4" fill="#cdd0d4" stroke="#959aa0" stroke-width="0.7"/>
<rect x="171.1" y="281.1" width="9.0" height="6.4" fill="#cdd0d4" stroke="#959aa0" stroke-width="0.7"/>
<rect x="195.6" y="219.8" width="9.0" height="6.4" fill="#cdd0d4" stroke="#959aa0" stroke-width="0.7"/>
<rect x="202.8" y="297.3" width="9.0" height="6.4" fill="#cdd0d4" stroke="#959aa0" stroke-width="0.7"/>
<rect x="256.6" y="242.0" width="9.0" height="6.4" fill="#cdd0d4" stroke="#959aa0" stroke-width="0.7"/>
<rect x="224.0" y="306.9" width="9.0" height="6.4" fill="#cdd0d4" stroke="#959aa0" stroke-width="0.7"/>
<rect x="205.8" y="213.4" width="9.0" height="6.4" fill="#cdd0d4" stroke="#959aa0" stroke-width="0.7"/>
<rect x="277.9" y="284.9" width="9.0" height="6.4" fill="#cdd0d4" stroke="#959aa0" stroke-width="0.7"/>
<rect x="240.7" y="284.0" width="9.0" height="6.4" fill="#cdd0d4" stroke="#959aa0" stroke-width="0.7"/>
<rect x="261.0" y="256.3" width="9.0" height="6.4" fill="#cdd0d4" stroke="#959aa0" stroke-width="0.7"/>
<rect x="227.9" y="278.9" width="9.0" height="6.4" fill="#cdd0d4" stroke="#959aa0" stroke-width="0.7"/>
<rect x="196.7" y="275.6" width="9.0" height="6.4" fill="#cdd0d4" stroke="#959aa0" stroke-width="0.7"/>
<rect x="203.1" y="247.5" width="9.0" height="6.4" fill="#cdd0d4" stroke="#959aa0" stroke-width="0.7"/>
<rect x="222.0" y="306.2" width="9.0" height="6.4" fill="#cdd0d4" stroke="#959aa0" stroke-width="0.7"/>
<rect x="257.2" y="184.0" width="9.0" height="6.4" fill="#cdd0d4" stroke="#959aa0" stroke-width="0.7"/>
<rect x="248.6" y="242.5" width="9.0" height="6.4" fill="#cdd0d4" stroke="#959aa0" stroke-width="0.7"/>
<rect x="204.9" y="256.5" width="9.0" height="6.4" fill="#cdd0d4" stroke="#959aa0" stroke-width="0.7"/>
<rect x="172.2" y="258.5" width="9.0" height="6.4" fill="#cdd0d4" stroke="#959aa0" stroke-width="0.7"/>
<rect x="211.8" y="243.9" width="9.0" height="6.4" fill="#cdd0d4" stroke="#959aa0" stroke-width="0.7"/>
<rect x="180.6" y="190.4" width="9.0" height="6.4" fill="#cdd0d4" stroke="#959aa0" stroke-width="0.7"/>
<rect x="206.9" y="253.6" width="9.0" height="6.4" fill="#cdd0d4" stroke="#959aa0" stroke-width="0.7"/>
<rect x="273.8" y="281.1" width="9.0" height="6.4" fill="#cdd0d4" stroke="#959aa0" stroke-width="0.7"/>
<rect x="239.7" y="240.7" width="9.0" height="6.4" fill="#cdd0d4" stroke="#959aa0" stroke-width="0.7"/>
<rect x="220.2" y="223.2" width="9.0" height="6.4" fill="#cdd0d4" stroke="#959aa0" stroke-width="0.7"/>
<rect x="195.6" y="208.8" width="9.0" height="6.4" fill="#cdd0d4" stroke="#959aa0" stroke-width="0.7"/>
<rect x="278.4" y="284.9" width="9.0" height="6.4" fill="#cdd0d4" stroke="#959aa0" stroke-width="0.7"/>
<rect x="191.8" y="256.7" width="9.0" height="6.4" fill="#cdd0d4" stroke="#959aa0" stroke-width="0.7"/>
<rect x="225.6" y="160.1" width="9.0" height="6.4" fill="#cdd0d4" stroke="#959aa0" stroke-width="0.7"/>
<rect x="165.1" y="254.4" width="9.0" height="6.4" fill="#cdd0d4" stroke="#959aa0" stroke-width="0.7"/>
<rect x="252.5" y="166.9" width="9.0" height="6.4" fill="#cdd0d4" stroke="#959aa0" stroke-width="0.7"/>
<rect x="169.3" y="252.3" width="9.0" height="6.4" fill="#cdd0d4" stroke="#959aa0" stroke-width="0.7"/>
<rect x="238.9" y="300.6" width="9.0" height="6.4" fill="#cdd0d4" stroke="#959aa0" stroke-width="0.7"/>
<rect x="193.3" y="260.5" width="9.0" height="6.4" fill="#cdd0d4" stroke="#959aa0" stroke-width="0.7"/>
<rect x="212.0" y="243.9" width="9.0" height="6.4" fill="#cdd0d4" stroke="#959aa0" stroke-width="0.7"/>
<rect x="226.9" y="180.1" width="9.0" height="6.4" fill="#cdd0d4" stroke="#959aa0" stroke-width="0.7"/>
<rect x="146.4" y="271.4" width="9.0" height="6.4" fill="#cdd0d4" stroke="#959aa0" stroke-width="0.7"/>
<rect x="252.9" y="186.2" width="9.0" height="6.4" fill="#cdd0d4" stroke="#959aa0" stroke-width="0.7"/>
<rect x="252.0" y="233.2" width="9.0" height="6.4" fill="#cdd0d4" stroke="#959aa0" stroke-width="0.7"/>
<rect x="192.5" y="279.5" width="9.0" height="6.4" fill="#cdd0d4" stroke="#959aa0" stroke-width="0.7"/>
<rect x="196.2" y="168.1" width="9.0" height="6.4" fill="#cdd0d4" stroke="#959aa0" stroke-width="0.7"/>
<rect x="255.2" y="195.6" width="9.0" height="6.4" fill="#cdd0d4" stroke="#959aa0" stroke-width="0.7"/>
<rect x="193.1" y="277.8" width="9.0" height="6.4" fill="#cdd0d4" stroke="#959aa0" stroke-width="0.7"/>
<rect x="201.4" y="258.3" width="9.0" height="6.4" fill="#cdd0d4" stroke="#959aa0" stroke-width="0.7"/>
<rect x="201.9" y="285.7" width="9.0" height="6.4" fill="#cdd0d4" stroke="#959aa0" stroke-width="0.7"/>
<rect x="253.3" y="262.0" width="9.0" height="6.4" fill="#cdd0d4" stroke="#959aa0" stroke-width="0.7"/>
<rect x="258.0" y="269.1" width="9.0" height="6.4" fill="#cdd0d4" stroke="#959aa0" stroke-width="0.7"/>
<rect x="291.9" y="256.8" width="9.0" height="6.4" fill="#cdd0d4" stroke="#959aa0" stroke-width="0.7"/>
<rect x="205.6" y="199.6" width="9.0" height="6.4" fill="#cdd0d4" stroke="#959aa0" stroke-width="0.7"/>
<rect x="230.3" y="243.6" width="9.0" height="6.4" fill="#cdd0d4" stroke="#959aa0" stroke-width="0.7"/>
<rect x="224.1" y="248.3" width="9.0" height="6.4" fill="#cdd0d4" stroke="#959aa0" stroke-width="0.7"/>
<rect x="251.1" y="204.0" width="9.0" height="6.4" fill="#cdd0d4" stroke="#959aa0" stroke-width="0.7"/>
<rect x="233.9" y="192.4" width="9.0" height="6.4" fill="#cdd0d4" stroke="#959aa0" stroke-width="0.7"/>
<rect x="174.0" y="286.6" width="9.0" height="6.4" fill="#cdd0d4" stroke="#959aa0" stroke-width="0.7"/>
<rect x="209.1" y="206.6" width="9.0" height="6.4" fill="#cdd0d4" stroke="#959aa0" stroke-width="0.7"/>
<rect x="220.6" y="230.8" width="9.0" height="6.4" fill="#cdd0d4" stroke="#959aa0" stroke-width="0.7"/>
<rect x="290.2" y="257.7" width="9.0" height="6.4" fill="#cdd0d4" stroke="#959aa0" stroke-width="0.7"/>
<rect x="134.9" y="249.0" width="9.0" height="6.4" fill="#cdd0d4" stroke="#959aa0" stroke-width="0.7"/>
<rect x="239.9" y="215.7" width="9.0" height="6.4" fill="#cdd0d4" stroke="#959aa0" stroke-width="0.7"/>
<rect x="221.2" y="247.1" width="9.0" height="6.4" fill="#cdd0d4" stroke="#959aa0" stroke-width="0.7"/>
<rect x="160.5" y="274.5" width="9.0" height="6.4" fill="#cdd0d4" stroke="#959aa0" stroke-width="0.7"/>
<rect x="186.1" y="219.6" width="9.0" height="6.4" fill="#cdd0d4" stroke="#959aa0" stroke-width="0.7"/>
<rect x="192.5" y="219.4" width="9.0" height="6.4" fill="#cdd0d4" stroke="#959aa0" stroke-width="0.7"/>
<rect x="267.4" y="290.3" width="9.0" height="6.4" fill="#cdd0d4" stroke="#959aa0" stroke-width="0.7"/>
<rect x="207.4" y="211.2" width="9.0" height="6.4" fill="#cdd0d4" stroke="#959aa0" stroke-width="0.7"/>
<rect x="231.7" y="167.7" width="9.0" height="6.4" fill="#cdd0d4" stroke="#959aa0" stroke-width="0.7"/>
<rect x="189.5" y="303.6" width="9.0" height="6.4" fill="#cdd0d4" stroke="#959aa0" stroke-width="0.7"/>
<rect x="145.1" y="269.9" width="9.0" height="6.4" fill="#cdd0d4" stroke="#959aa0" stroke-width="0.7"/>
<rect x="209.8" y="247.8" width="9.0" height="6.4" fill="#cdd0d4" stroke="#959aa0" stroke-width="0.7"/>
<rect x="273.2" y="250.4" width="9.0" height="6.4" fill="#cdd0d4" stroke="#959aa0" stroke-width="0.7"/>
<rect x="235.5" y="226.3" width="9.0" height="6.4" fill="#cdd0d4" stroke="#959aa0" stroke-width="0.7"/>
<rect x="189.9" y="215.4" width="9.0" height="6.4" fill="#cdd0d4" stroke="#959aa0" stroke-width="0.7"/>
<rect x="185.1" y="247.8" width="9.0" height="6.4" fill="#cdd0d4" stroke="#959aa0" stroke-width="0.7"/>
<rect x="254.3" y="199.1" width="9.0" height="6.4" fill="#cdd0d4" stroke="#959aa0" stroke-width="0.7"/>
<rect x="228.1" y="192.9" width="9.0" height="6.4" fill="#cdd0d4" stroke="#959aa0" stroke-width="0.7"/>
<rect x="268.7" y="273.2" width="9.0" height="6.4" fill="#cdd0d4" stroke="#959aa0" stroke-width="0.7"/>
<rect x="230.9" y="204.3" width="9.0" height="6.4" fill="#cdd0d4" stroke="#959aa0" stroke-width="0.7"/>
<rect x="244.4" y="200.1" width="9.0" height="6.4" fill="#cdd0d4" stroke="#959aa0" stroke-width="0.7"/>
<rect x="184.1" y="286.5" width="9.0" height="6.4" fill="#cdd0d4" stroke="#959aa0" stroke-width="0.7"/>
<rect x="256.7" y="198.8" width="9.0" height="6.4" fill="#cdd0d4" stroke="#959aa0" stroke-width="0.7"/>
<rect x="217.8" y="253.5" width="9.0" height="6.4" fill="#cdd0d4" stroke="#959aa0" stroke-width="0.7"/>
<rect x="248.7" y="288.1" width="9.0" height="6.4" fill="#cdd0d4" stroke="#959aa0" stroke-width="0.7"/>
<rect x="253.8" y="224.6" width="9.0" height="6.4" fill="#cdd0d4" stroke="#959aa0" stroke-width="0.7"/>
<rect x="252.0" y="161.7" width="9.0" height="6.4" fill="#cdd0d4" stroke="#959aa0" stroke-width="0.7"/>
<rect x="255.3" y="186.7" width="9.0" height="6.4" fill="#cdd0d4" stroke="#959aa0" stroke-width="0.7"/>
<rect x="287.6" y="253.6" width="9.0" height="6.4" fill="#cdd0d4" stroke="#959aa0" stroke-width="0.7"/>
<rect x="198.6" y="185.2" width="9.0" height="6.4" fill="#cdd0d4" stroke="#959aa0" stroke-width="0.7"/>
<rect x="257.0" y="221.7" width="9.0" height="6.4" fill="#cdd0d4" stroke="#959aa0" stroke-width="0.7"/>
<rect x="219.2" y="306.0" width="9.0" height="6.4" fill="#cdd0d4" stroke="#959aa0" stroke-width="0.7"/>
<rect x="257.8" y="245.9" width="9.0" height="6.4" fill="#cdd0d4" stroke="#959aa0" stroke-width="0.7"/>
<rect x="193.8" y="260.6" width="9.0" height="6.4" fill="#cdd0d4" stroke="#959aa0" stroke-width="0.7"/>
<rect x="189.3" y="294.1" width="9.0" height="6.4" fill="#cdd0d4" stroke="#959aa0" stroke-width="0.7"/>
<rect x="257.9" y="184.4" width="9.0" height="6.4" fill="#cdd0d4" stroke="#959aa0" stroke-width="0.7"/>
<rect x="177.5" y="174.4" width="9.0" height="6.4" fill="#cdd0d4" stroke="#959aa0" stroke-width="0.7"/>
<rect x="293.2" y="255.8" width="9.0" height="6.4" fill="#cdd0d4" stroke="#959aa0" stroke-width="0.7"/>
<rect x="233.8" y="283.7" width="9.0" height="6.4" fill="#cdd0d4" stroke="#959aa0" stroke-width="0.7"/>
<rect x="228.6" y="203.9" width="9.0" height="6.4" fill="#cdd0d4" stroke="#959aa0" stroke-width="0.7"/>
<rect x="232.0" y="299.3" width="9.0" height="6.4" fill="#cdd0d4" stroke="#959aa0" stroke-width="0.7"/>
<rect x="220.0" y="253.2" width="9.0" height="6.4" fill="#cdd0d4" stroke="#959aa0" stroke-width="0.7"/>
<rect x="248.8" y="292.1" width="9.0" height="6.4" fill="#cdd0d4" stroke="#959aa0" stroke-width="0.7"/>
<rect x="279.0" y="284.2" width="9.0" height="6.4" fill="#cdd0d4" stroke="#959aa0" stroke-width="0.7"/>
<rect x="191.0" y="204.0" width="9.0" height="6.4" fill="#cdd0d4" stroke="#959aa0" stroke-width="0.7"/>
<rect x="193.3" y="233.5" width="9.0" height="6.4" fill="#cdd0d4" stroke="#959aa0" stroke-width="0.7"/>
</g><g>
<rect x="163.0" y="106.1" width="9.0" height="6.4" fill="#e84c29" stroke="#cc3b1d" stroke-width="0.7"/>
<rect x="172.3" y="102.9" width="9.0" height="6.4" fill="#e84c29" stroke="#cc3b1d" stroke-width="0.7"/>
<rect x="173.8" y="133.9" width="9.0" height="6.4" fill="#e84c29" stroke="#cc3b1d" stroke-width="0.7"/>
<rect x="138.5" y="148.9" width="9.0" height="6.4" fill="#e84c29" stroke="#cc3b1d" stroke-width="0.7"/>
<rect x="167.0" y="144.6" width="9.0" height="6.4" fill="#e84c29" stroke="#cc3b1d" stroke-width="0.7"/>
<rect x="161.7" y="147.8" width="9.0" height="6.4" fill="#e84c29" stroke="#cc3b1d" stroke-width="0.7"/>
<rect x="173.8" y="149.4" width="9.0" height="6.4" fill="#e84c29" stroke="#cc3b1d" stroke-width="0.7"/>
<rect x="165.9" y="153.9" width="9.0" height="6.4" fill="#e84c29" stroke="#cc3b1d" stroke-width="0.7"/>
<rect x="128.0" y="158.6" width="9.0" height="6.4" fill="#e84c29" stroke="#cc3b1d" stroke-width="0.7"/>
<rect x="126.1" y="162.3" width="9.0" height="6.4" fill="#e84c29" stroke="#cc3b1d" stroke-width="0.7"/>
<rect x="142.9" y="160.7" width="9.0" height="6.4" fill="#e84c29" stroke="#cc3b1d" stroke-width="0.7"/>
<rect x="153.1" y="159.1" width="9.0" height="6.4" fill="#e84c29" stroke="#cc3b1d" stroke-width="0.7"/>
<rect x="167.8" y="165.5" width="9.0" height="6.4" fill="#e84c29" stroke="#cc3b1d" stroke-width="0.7"/>
<rect x="167.0" y="172.7" width="9.0" height="6.4" fill="#e84c29" stroke="#cc3b1d" stroke-width="0.7"/>
<rect x="159.8" y="175.9" width="9.0" height="6.4" fill="#e84c29" stroke="#cc3b1d" stroke-width="0.7"/>
<rect x="130.9" y="179.5" width="9.0" height="6.4" fill="#e84c29" stroke="#cc3b1d" stroke-width="0.7"/>
<rect x="160.6" y="181.5" width="9.0" height="6.4" fill="#e84c29" stroke="#cc3b1d" stroke-width="0.7"/>
<rect x="171.9" y="183.2" width="9.0" height="6.4" fill="#e84c29" stroke="#cc3b1d" stroke-width="0.7"/>
<rect x="165.4" y="188.0" width="9.0" height="6.4" fill="#e84c29" stroke="#cc3b1d" stroke-width="0.7"/>
<rect x="173.5" y="188.8" width="9.0" height="6.4" fill="#e84c29" stroke="#cc3b1d" stroke-width="0.7"/>
<rect x="162.2" y="193.6" width="9.0" height="6.4" fill="#e84c29" stroke="#cc3b1d" stroke-width="0.7"/>
<rect x="148.5" y="196.8" width="9.0" height="6.4" fill="#e84c29" stroke="#cc3b1d" stroke-width="0.7"/>
<rect x="136.5" y="202.5" width="9.0" height="6.4" fill="#e84c29" stroke="#cc3b1d" stroke-width="0.7"/>
<rect x="113.6" y="212.0" width="9.0" height="6.4" fill="#e84c29" stroke="#cc3b1d" stroke-width="0.7"/>
<rect x="148.2" y="198.4" width="9.0" height="6.4" fill="#e84c29" stroke="#cc3b1d" stroke-width="0.7"/>
<rect x="138.9" y="212.5" width="9.0" height="6.4" fill="#e84c29" stroke="#cc3b1d" stroke-width="0.7"/>
<rect x="139.3" y="218.1" width="9.0" height="6.4" fill="#e84c29" stroke="#cc3b1d" stroke-width="0.7"/>
<rect x="128.0" y="224.5" width="9.0" height="6.4" fill="#e84c29" stroke="#cc3b1d" stroke-width="0.7"/>
<rect x="119.7" y="232.2" width="9.0" height="6.4" fill="#e84c29" stroke="#cc3b1d" stroke-width="0.7"/>
<rect x="110.8" y="235.5" width="9.0" height="6.4" fill="#e84c29" stroke="#cc3b1d" stroke-width="0.7"/>
<rect x="118.9" y="235.8" width="9.0" height="6.4" fill="#e84c29" stroke="#cc3b1d" stroke-width="0.7"/>
<rect x="131.7" y="233.4" width="9.0" height="6.4" fill="#e84c29" stroke="#cc3b1d" stroke-width="0.7"/>
<rect x="110.3" y="236.1" width="9.0" height="6.4" fill="#e84c29" stroke="#cc3b1d" stroke-width="0.7"/>
<rect x="114.4" y="235.1" width="9.0" height="6.4" fill="#e84c29" stroke="#cc3b1d" stroke-width="0.7"/>
<rect x="136.9" y="241.8" width="9.0" height="6.4" fill="#e84c29" stroke="#cc3b1d" stroke-width="0.7"/>
<rect x="139.9" y="231.0" width="9.0" height="6.4" fill="#e84c29" stroke="#cc3b1d" stroke-width="0.7"/>
<rect x="277.8" y="96.1" width="9.0" height="6.4" fill="#e84c29" stroke="#cc3b1d" stroke-width="0.7"/>
<rect x="275.9" y="142.2" width="9.0" height="6.4" fill="#e84c29" stroke="#cc3b1d" stroke-width="0.7"/>
<rect x="265.0" y="147.5" width="9.0" height="6.4" fill="#e84c29" stroke="#cc3b1d" stroke-width="0.7"/>
<rect x="260.9" y="152.6" width="9.0" height="6.4" fill="#e84c29" stroke="#cc3b1d" stroke-width="0.7"/>
<rect x="263.3" y="156.2" width="9.0" height="6.4" fill="#e84c29" stroke="#cc3b1d" stroke-width="0.7"/>
<rect x="285.5" y="175.4" width="9.0" height="6.4" fill="#e84c29" stroke="#cc3b1d" stroke-width="0.7"/>
<rect x="260.9" y="175.9" width="9.0" height="6.4" fill="#e84c29" stroke="#cc3b1d" stroke-width="0.7"/>
<rect x="267.4" y="177.5" width="9.0" height="6.4" fill="#e84c29" stroke="#cc3b1d" stroke-width="0.7"/>
<rect x="274.6" y="181.5" width="9.0" height="6.4" fill="#e84c29" stroke="#cc3b1d" stroke-width="0.7"/>
<rect x="282.6" y="182.3" width="9.0" height="6.4" fill="#e84c29" stroke="#cc3b1d" stroke-width="0.7"/>
<rect x="261.7" y="181.5" width="9.0" height="6.4" fill="#e84c29" stroke="#cc3b1d" stroke-width="0.7"/>
<rect x="271.4" y="189.6" width="9.0" height="6.4" fill="#e84c29" stroke="#cc3b1d" stroke-width="0.7"/>
<rect x="277.8" y="192.0" width="9.0" height="6.4" fill="#e84c29" stroke="#cc3b1d" stroke-width="0.7"/>
<rect x="260.1" y="192.8" width="9.0" height="6.4" fill="#e84c29" stroke="#cc3b1d" stroke-width="0.7"/>
<rect x="304.3" y="200.6" width="9.0" height="6.4" fill="#e84c29" stroke="#cc3b1d" stroke-width="0.7"/>
<rect x="294.7" y="208.1" width="9.0" height="6.4" fill="#e84c29" stroke="#cc3b1d" stroke-width="0.7"/>
<rect x="305.9" y="229.0" width="9.0" height="6.4" fill="#e84c29" stroke="#cc3b1d" stroke-width="0.7"/>
<rect x="310.7" y="236.2" width="9.0" height="6.4" fill="#e84c29" stroke="#cc3b1d" stroke-width="0.7"/>
<rect x="322.0" y="232.7" width="9.0" height="6.4" fill="#e84c29" stroke="#cc3b1d" stroke-width="0.7"/>
<rect x="333.7" y="232.7" width="9.0" height="6.4" fill="#e84c29" stroke="#cc3b1d" stroke-width="0.7"/>
<rect x="274.6" y="203.3" width="9.0" height="6.4" fill="#e84c29" stroke="#cc3b1d" stroke-width="0.7"/>
<rect x="266.0" y="196.3" width="9.0" height="6.4" fill="#e84c29" stroke="#cc3b1d" stroke-width="0.7"/>
<rect x="275.0" y="189.3" width="9.0" height="6.4" fill="#e84c29" stroke="#cc3b1d" stroke-width="0.7"/>
<rect x="263.0" y="193.3" width="9.0" height="6.4" fill="#e84c29" stroke="#cc3b1d" stroke-width="0.7"/>
<rect x="140.6" y="215.1" width="9.0" height="6.4" fill="#e84c29" stroke="#cc3b1d" stroke-width="0.7"/>
<rect x="135.6" y="239.8" width="9.0" height="6.4" fill="#e84c29" stroke="#cc3b1d" stroke-width="0.7"/>
<rect x="175.4" y="209.5" width="9.0" height="6.4" fill="#e84c29" stroke="#cc3b1d" stroke-width="0.7"/>
<rect x="171.8" y="197.3" width="9.0" height="6.4" fill="#e84c29" stroke="#cc3b1d" stroke-width="0.7"/>
<rect x="155.7" y="243.1" width="9.0" height="6.4" fill="#e84c29" stroke="#cc3b1d" stroke-width="0.7"/>
<rect x="141.5" y="231.0" width="9.0" height="6.4" fill="#e84c29" stroke="#cc3b1d" stroke-width="0.7"/>
<rect x="147.0" y="224.0" width="9.0" height="6.4" fill="#e84c29" stroke="#cc3b1d" stroke-width="0.7"/>
<rect x="149.0" y="238.9" width="9.0" height="6.4" fill="#e84c29" stroke="#cc3b1d" stroke-width="0.7"/>
<rect x="164.4" y="226.2" width="9.0" height="6.4" fill="#e84c29" stroke="#cc3b1d" stroke-width="0.7"/>
<rect x="172.1" y="206.2" width="9.0" height="6.4" fill="#e84c29" stroke="#cc3b1d" stroke-width="0.7"/>
<rect x="159.1" y="243.6" width="9.0" height="6.4" fill="#e84c29" stroke="#cc3b1d" stroke-width="0.7"/>
<rect x="162.6" y="199.0" width="9.0" height="6.4" fill="#e84c29" stroke="#cc3b1d" stroke-width="0.7"/>
<rect x="137.9" y="232.2" width="9.0" height="6.4" fill="#e84c29" stroke="#cc3b1d" stroke-width="0.7"/>
<rect x="166.0" y="201.4" width="9.0" height="6.4" fill="#e84c29" stroke="#cc3b1d" stroke-width="0.7"/>
<rect x="143.4" y="229.2" width="9.0" height="6.4" fill="#e84c29" stroke="#cc3b1d" stroke-width="0.7"/>
<rect x="158.5" y="202.6" width="9.0" height="6.4" fill="#e84c29" stroke="#cc3b1d" stroke-width="0.7"/>
<rect x="151.9" y="242.6" width="9.0" height="6.4" fill="#e84c29" stroke="#cc3b1d" stroke-width="0.7"/>
<rect x="158.1" y="206.2" width="9.0" height="6.4" fill="#e84c29" stroke="#cc3b1d" stroke-width="0.7"/>
<rect x="151.7" y="211.2" width="9.0" height="6.4" fill="#e84c29" stroke="#cc3b1d" stroke-width="0.7"/>
<rect x="151.2" y="207.6" width="9.0" height="6.4" fill="#e84c29" stroke="#cc3b1d" stroke-width="0.7"/>
<rect x="152.1" y="234.7" width="9.0" height="6.4" fill="#e84c29" stroke="#cc3b1d" stroke-width="0.7"/>
<rect x="157.3" y="201.4" width="9.0" height="6.4" fill="#e84c29" stroke="#cc3b1d" stroke-width="0.7"/>
<rect x="135.5" y="215.5" width="9.0" height="6.4" fill="#e84c29" stroke="#cc3b1d" stroke-width="0.7"/>
<rect x="171.7" y="200.3" width="9.0" height="6.4" fill="#e84c29" stroke="#cc3b1d" stroke-width="0.7"/>
<rect x="160.2" y="215.2" width="9.0" height="6.4" fill="#e84c29" stroke="#cc3b1d" stroke-width="0.7"/>
<rect x="169.1" y="208.0" width="9.0" height="6.4" fill="#e84c29" stroke="#cc3b1d" stroke-width="0.7"/>
<rect x="143.8" y="214.7" width="9.0" height="6.4" fill="#e84c29" stroke="#cc3b1d" stroke-width="0.7"/>
<rect x="151.9" y="238.6" width="9.0" height="6.4" fill="#e84c29" stroke="#cc3b1d" stroke-width="0.7"/>
<rect x="173.7" y="223.4" width="9.0" height="6.4" fill="#e84c29" stroke="#cc3b1d" stroke-width="0.7"/>
<rect x="155.3" y="205.7" width="9.0" height="6.4" fill="#e84c29" stroke="#cc3b1d" stroke-width="0.7"/>
<rect x="165.4" y="198.1" width="9.0" height="6.4" fill="#e84c29" stroke="#cc3b1d" stroke-width="0.7"/>
<rect x="164.8" y="187.0" width="9.0" height="6.4" fill="#e84c29" stroke="#cc3b1d" stroke-width="0.7"/>
<rect x="150.8" y="214.9" width="9.0" height="6.4" fill="#e84c29" stroke="#cc3b1d" stroke-width="0.7"/>
<rect x="136.4" y="215.7" width="9.0" height="6.4" fill="#e84c29" stroke="#cc3b1d" stroke-width="0.7"/>
<rect x="174.6" y="226.8" width="9.0" height="6.4" fill="#e84c29" stroke="#cc3b1d" stroke-width="0.7"/>
<rect x="149.3" y="243.3" width="9.0" height="6.4" fill="#e84c29" stroke="#cc3b1d" stroke-width="0.7"/>
<rect x="137.6" y="231.3" width="9.0" height="6.4" fill="#e84c29" stroke="#cc3b1d" stroke-width="0.7"/>
<rect x="158.3" y="207.3" width="9.0" height="6.4" fill="#e84c29" stroke="#cc3b1d" stroke-width="0.7"/>
<rect x="153.3" y="203.5" width="9.0" height="6.4" fill="#e84c29" stroke="#cc3b1d" stroke-width="0.7"/>
<rect x="157.5" y="233.7" width="9.0" height="6.4" fill="#e84c29" stroke="#cc3b1d" stroke-width="0.7"/>
<rect x="143.5" y="234.3" width="9.0" height="6.4" fill="#e84c29" stroke="#cc3b1d" stroke-width="0.7"/>
<rect x="167.6" y="197.0" width="9.0" height="6.4" fill="#e84c29" stroke="#cc3b1d" stroke-width="0.7"/>
<rect x="135.8" y="229.1" width="9.0" height="6.4" fill="#e84c29" stroke="#cc3b1d" stroke-width="0.7"/>
<rect x="152.7" y="236.1" width="9.0" height="6.4" fill="#e84c29" stroke="#cc3b1d" stroke-width="0.7"/>
<rect x="152.6" y="214.8" width="9.0" height="6.4" fill="#e84c29" stroke="#cc3b1d" stroke-width="0.7"/>
<rect x="173.1" y="225.1" width="9.0" height="6.4" fill="#e84c29" stroke="#cc3b1d" stroke-width="0.7"/>
<rect x="139.0" y="240.3" width="9.0" height="6.4" fill="#e84c29" stroke="#cc3b1d" stroke-width="0.7"/>
<rect x="146.8" y="219.5" width="9.0" height="6.4" fill="#e84c29" stroke="#cc3b1d" stroke-width="0.7"/>
<rect x="152.6" y="201.9" width="9.0" height="6.4" fill="#e84c29" stroke="#cc3b1d" stroke-width="0.7"/>
<rect x="169.2" y="200.3" width="9.0" height="6.4" fill="#e84c29" stroke="#cc3b1d" stroke-width="0.7"/>
<rect x="159.9" y="201.8" width="9.0" height="6.4" fill="#e84c29" stroke="#cc3b1d" stroke-width="0.7"/>
<rect x="150.6" y="207.3" width="9.0" height="6.4" fill="#e84c29" stroke="#cc3b1d" stroke-width="0.7"/>
<rect x="170.9" y="211.7" width="9.0" height="6.4" fill="#e84c29" stroke="#cc3b1d" stroke-width="0.7"/>
<rect x="161.0" y="215.9" width="9.0" height="6.4" fill="#e84c29" stroke="#cc3b1d" stroke-width="0.7"/>
<rect x="175.3" y="215.5" width="9.0" height="6.4" fill="#e84c29" stroke="#cc3b1d" stroke-width="0.7"/>
<rect x="155.4" y="236.3" width="9.0" height="6.4" fill="#e84c29" stroke="#cc3b1d" stroke-width="0.7"/>
<rect x="169.7" y="209.9" width="9.0" height="6.4" fill="#e84c29" stroke="#cc3b1d" stroke-width="0.7"/>
<rect x="133.2" y="231.7" width="9.0" height="6.4" fill="#e84c29" stroke="#cc3b1d" stroke-width="0.7"/>
<rect x="135.2" y="232.1" width="9.0" height="6.4" fill="#e84c29" stroke="#cc3b1d" stroke-width="0.7"/>
<rect x="146.5" y="237.9" width="9.0" height="6.4" fill="#e84c29" stroke="#cc3b1d" stroke-width="0.7"/>
<rect x="151.4" y="241.2" width="9.0" height="6.4" fill="#e84c29" stroke="#cc3b1d" stroke-width="0.7"/>
<rect x="168.6" y="217.6" width="9.0" height="6.4" fill="#e84c29" stroke="#cc3b1d" stroke-width="0.7"/>
<rect x="169.5" y="224.9" width="9.0" height="6.4" fill="#e84c29" stroke="#cc3b1d" stroke-width="0.7"/>
<rect x="169.8" y="198.4" width="9.0" height="6.4" fill="#e84c29" stroke="#cc3b1d" stroke-width="0.7"/>
<rect x="146.7" y="230.5" width="9.0" height="6.4" fill="#e84c29" stroke="#cc3b1d" stroke-width="0.7"/>
<rect x="157.8" y="194.3" width="9.0" height="6.4" fill="#e84c29" stroke="#cc3b1d" stroke-width="0.7"/>
<rect x="160.2" y="213.4" width="9.0" height="6.4" fill="#e84c29" stroke="#cc3b1d" stroke-width="0.7"/>
<rect x="143.0" y="239.6" width="9.0" height="6.4" fill="#e84c29" stroke="#cc3b1d" stroke-width="0.7"/>
<rect x="162.7" y="212.0" width="9.0" height="6.4" fill="#e84c29" stroke="#cc3b1d" stroke-width="0.7"/>
<rect x="132.3" y="230.3" width="9.0" height="6.4" fill="#e84c29" stroke="#cc3b1d" stroke-width="0.7"/>
<rect x="143.0" y="216.7" width="9.0" height="6.4" fill="#e84c29" stroke="#cc3b1d" stroke-width="0.7"/>
<rect x="173.2" y="220.2" width="9.0" height="6.4" fill="#e84c29" stroke="#cc3b1d" stroke-width="0.7"/>
<rect x="152.2" y="216.6" width="9.0" height="6.4" fill="#e84c29" stroke="#cc3b1d" stroke-width="0.7"/>
<rect x="148.3" y="205.0" width="9.0" height="6.4" fill="#e84c29" stroke="#cc3b1d" stroke-width="0.7"/>
<rect x="161.6" y="237.6" width="9.0" height="6.4" fill="#e84c29" stroke="#cc3b1d" stroke-width="0.7"/>
<rect x="159.8" y="239.9" width="9.0" height="6.4" fill="#e84c29" stroke="#cc3b1d" stroke-width="0.7"/>
<rect x="171.5" y="199.8" width="9.0" height="6.4" fill="#e84c29" stroke="#cc3b1d" stroke-width="0.7"/>
<rect x="159.6" y="212.5" width="9.0" height="6.4" fill="#e84c29" stroke="#cc3b1d" stroke-width="0.7"/>
<rect x="167.4" y="237.9" width="9.0" height="6.4" fill="#e84c29" stroke="#cc3b1d" stroke-width="0.7"/>
<rect x="171.2" y="212.2" width="9.0" height="6.4" fill="#e84c29" stroke="#cc3b1d" stroke-width="0.7"/>
<rect x="264.1" y="205.3" width="9.0" height="6.4" fill="#e84c29" stroke="#cc3b1d" stroke-width="0.7"/>
<rect x="291.0" y="236.1" width="9.0" height="6.4" fill="#e84c29" stroke="#cc3b1d" stroke-width="0.7"/>
<rect x="273.8" y="213.6" width="9.0" height="6.4" fill="#e84c29" stroke="#cc3b1d" stroke-width="0.7"/>
<rect x="291.4" y="231.8" width="9.0" height="6.4" fill="#e84c29" stroke="#cc3b1d" stroke-width="0.7"/>
<rect x="290.1" y="242.5" width="9.0" height="6.4" fill="#e84c29" stroke="#cc3b1d" stroke-width="0.7"/>
<rect x="267.9" y="232.8" width="9.0" height="6.4" fill="#e84c29" stroke="#cc3b1d" stroke-width="0.7"/>
<rect x="276.9" y="225.4" width="9.0" height="6.4" fill="#e84c29" stroke="#cc3b1d" stroke-width="0.7"/>
<rect x="290.2" y="243.6" width="9.0" height="6.4" fill="#e84c29" stroke="#cc3b1d" stroke-width="0.7"/>
<rect x="275.4" y="221.5" width="9.0" height="6.4" fill="#e84c29" stroke="#cc3b1d" stroke-width="0.7"/>
<rect x="287.5" y="246.8" width="9.0" height="6.4" fill="#e84c29" stroke="#cc3b1d" stroke-width="0.7"/>
<rect x="282.4" y="218.2" width="9.0" height="6.4" fill="#e84c29" stroke="#cc3b1d" stroke-width="0.7"/>
<rect x="268.0" y="241.4" width="9.0" height="6.4" fill="#e84c29" stroke="#cc3b1d" stroke-width="0.7"/>
<rect x="263.0" y="227.0" width="9.0" height="6.4" fill="#e84c29" stroke="#cc3b1d" stroke-width="0.7"/>
<rect x="292.5" y="232.9" width="9.0" height="6.4" fill="#e84c29" stroke="#cc3b1d" stroke-width="0.7"/>
<rect x="279.7" y="245.1" width="9.0" height="6.4" fill="#e84c29" stroke="#cc3b1d" stroke-width="0.7"/>
<rect x="269.3" y="243.5" width="9.0" height="6.4" fill="#e84c29" stroke="#cc3b1d" stroke-width="0.7"/>
<rect x="266.3" y="221.3" width="9.0" height="6.4" fill="#e84c29" stroke="#cc3b1d" stroke-width="0.7"/>
<rect x="292.4" y="218.6" width="9.0" height="6.4" fill="#e84c29" stroke="#cc3b1d" stroke-width="0.7"/>
<rect x="272.1" y="206.3" width="9.0" height="6.4" fill="#e84c29" stroke="#cc3b1d" stroke-width="0.7"/>
<rect x="293.2" y="223.1" width="9.0" height="6.4" fill="#e84c29" stroke="#cc3b1d" stroke-width="0.7"/>
<rect x="265.3" y="245.8" width="9.0" height="6.4" fill="#e84c29" stroke="#cc3b1d" stroke-width="0.7"/>
<rect x="269.9" y="242.3" width="9.0" height="6.4" fill="#e84c29" stroke="#cc3b1d" stroke-width="0.7"/>
<rect x="286.2" y="218.6" width="9.0" height="6.4" fill="#e84c29" stroke="#cc3b1d" stroke-width="0.7"/>
<rect x="287.8" y="210.8" width="9.0" height="6.4" fill="#e84c29" stroke="#cc3b1d" stroke-width="0.7"/>
<rect x="286.8" y="206.6" width="9.0" height="6.4" fill="#e84c29" stroke="#cc3b1d" stroke-width="0.7"/>
<rect x="283.2" y="225.8" width="9.0" height="6.4" fill="#e84c29" stroke="#cc3b1d" stroke-width="0.7"/>
<rect x="276.8" y="240.5" width="9.0" height="6.4" fill="#e84c29" stroke="#cc3b1d" stroke-width="0.7"/>
<rect x="287.8" y="204.6" width="9.0" height="6.4" fill="#e84c29" stroke="#cc3b1d" stroke-width="0.7"/>
<rect x="291.4" y="211.4" width="9.0" height="6.4" fill="#e84c29" stroke="#cc3b1d" stroke-width="0.7"/>
<rect x="292.8" y="245.8" width="9.0" height="6.4" fill="#e84c29" stroke="#cc3b1d" stroke-width="0.7"/>
<rect x="265.5" y="214.4" width="9.0" height="6.4" fill="#e84c29" stroke="#cc3b1d" stroke-width="0.7"/>
<rect x="261.4" y="237.9" width="9.0" height="6.4" fill="#e84c29" stroke="#cc3b1d" stroke-width="0.7"/>
<rect x="284.6" y="204.8" width="9.0" height="6.4" fill="#e84c29" stroke="#cc3b1d" stroke-width="0.7"/>
<rect x="267.6" y="245.8" width="9.0" height="6.4" fill="#e84c29" stroke="#cc3b1d" stroke-width="0.7"/>
<rect x="291.4" y="222.0" width="9.0" height="6.4" fill="#e84c29" stroke="#cc3b1d" stroke-width="0.7"/>
<rect x="282.8" y="202.8" width="9.0" height="6.4" fill="#e84c29" stroke="#cc3b1d" stroke-width="0.7"/>
<rect x="284.6" y="246.0" width="9.0" height="6.4" fill="#e84c29" stroke="#cc3b1d" stroke-width="0.7"/>
<rect x="289.5" y="209.3" width="9.0" height="6.4" fill="#e84c29" stroke="#cc3b1d" stroke-width="0.7"/>
<rect x="285.8" y="233.9" width="9.0" height="6.4" fill="#e84c29" stroke="#cc3b1d" stroke-width="0.7"/>
<rect x="266.8" y="244.9" width="9.0" height="6.4" fill="#e84c29" stroke="#cc3b1d" stroke-width="0.7"/>
<rect x="263.1" y="201.4" width="9.0" height="6.4" fill="#e84c29" stroke="#cc3b1d" stroke-width="0.7"/>
<rect x="271.1" y="221.3" width="9.0" height="6.4" fill="#e84c29" stroke="#cc3b1d" stroke-width="0.7"/>
<rect x="282.8" y="246.1" width="9.0" height="6.4" fill="#e84c29" stroke="#cc3b1d" stroke-width="0.7"/>
<rect x="291.7" y="235.9" width="9.0" height="6.4" fill="#e84c29" stroke="#cc3b1d" stroke-width="0.7"/>
<rect x="285.9" y="231.3" width="9.0" height="6.4" fill="#e84c29" stroke="#cc3b1d" stroke-width="0.7"/>
<rect x="261.6" y="233.8" width="9.0" height="6.4" fill="#e84c29" stroke="#cc3b1d" stroke-width="0.7"/>
<rect x="281.6" y="229.4" width="9.0" height="6.4" fill="#e84c29" stroke="#cc3b1d" stroke-width="0.7"/>
<rect x="281.6" y="240.0" width="9.0" height="6.4" fill="#e84c29" stroke="#cc3b1d" stroke-width="0.7"/>
<rect x="262.5" y="227.9" width="9.0" height="6.4" fill="#e84c29" stroke="#cc3b1d" stroke-width="0.7"/>
<rect x="278.6" y="223.6" width="9.0" height="6.4" fill="#e84c29" stroke="#cc3b1d" stroke-width="0.7"/>
<rect x="291.0" y="219.0" width="9.0" height="6.4" fill="#e84c29" stroke="#cc3b1d" stroke-width="0.7"/>
<rect x="292.6" y="211.4" width="9.0" height="6.4" fill="#e84c29" stroke="#cc3b1d" stroke-width="0.7"/>
<rect x="275.0" y="235.6" width="9.0" height="6.4" fill="#e84c29" stroke="#cc3b1d" stroke-width="0.7"/>
<rect x="290.0" y="224.0" width="9.0" height="6.4" fill="#e84c29" stroke="#cc3b1d" stroke-width="0.7"/>
<rect x="287.2" y="233.9" width="9.0" height="6.4" fill="#e84c29" stroke="#cc3b1d" stroke-width="0.7"/>
<rect x="296.6" y="239.3" width="9.0" height="6.4" fill="#e84c29" stroke="#cc3b1d" stroke-width="0.7"/>
<rect x="283.1" y="232.0" width="9.0" height="6.4" fill="#e84c29" stroke="#cc3b1d" stroke-width="0.7"/>
<rect x="272.1" y="209.8" width="9.0" height="6.4" fill="#e84c29" stroke="#cc3b1d" stroke-width="0.7"/>
<rect x="283.3" y="207.7" width="9.0" height="6.4" fill="#e84c29" stroke="#cc3b1d" stroke-width="0.7"/>
<rect x="274.4" y="225.1" width="9.0" height="6.4" fill="#e84c29" stroke="#cc3b1d" stroke-width="0.7"/>
<rect x="285.0" y="213.1" width="9.0" height="6.4" fill="#e84c29" stroke="#cc3b1d" stroke-width="0.7"/>
<rect x="270.0" y="227.7" width="9.0" height="6.4" fill="#e84c29" stroke="#cc3b1d" stroke-width="0.7"/>
<rect x="293.3" y="244.8" width="9.0" height="6.4" fill="#e84c29" stroke="#cc3b1d" stroke-width="0.7"/>
<rect x="279.6" y="210.9" width="9.0" height="6.4" fill="#e84c29" stroke="#cc3b1d" stroke-width="0.7"/>
<rect x="282.0" y="241.5" width="9.0" height="6.4" fill="#e84c29" stroke="#cc3b1d" stroke-width="0.7"/>
<rect x="273.8" y="222.0" width="9.0" height="6.4" fill="#e84c29" stroke="#cc3b1d" stroke-width="0.7"/>
<rect x="264.8" y="244.3" width="9.0" height="6.4" fill="#e84c29" stroke="#cc3b1d" stroke-width="0.7"/>
<rect x="275.9" y="225.4" width="9.0" height="6.4" fill="#e84c29" stroke="#cc3b1d" stroke-width="0.7"/>
<rect x="266.0" y="214.8" width="9.0" height="6.4" fill="#e84c29" stroke="#cc3b1d" stroke-width="0.7"/>
<rect x="262.9" y="229.0" width="9.0" height="6.4" fill="#e84c29" stroke="#cc3b1d" stroke-width="0.7"/>
<rect x="261.8" y="205.2" width="9.0" height="6.4" fill="#e84c29" stroke="#cc3b1d" stroke-width="0.7"/>
<rect x="271.4" y="237.6" width="9.0" height="6.4" fill="#e84c29" stroke="#cc3b1d" stroke-width="0.7"/>
<rect x="293.3" y="245.0" width="9.0" height="6.4" fill="#e84c29" stroke="#cc3b1d" stroke-width="0.7"/>
<rect x="279.3" y="203.9" width="9.0" height="6.4" fill="#e84c29" stroke="#cc3b1d" stroke-width="0.7"/>
<rect x="294.3" y="228.9" width="9.0" height="6.4" fill="#e84c29" stroke="#cc3b1d" stroke-width="0.7"/>
<rect x="280.7" y="210.9" width="9.0" height="6.4" fill="#e84c29" stroke="#cc3b1d" stroke-width="0.7"/>
<rect x="266.4" y="218.7" width="9.0" height="6.4" fill="#e84c29" stroke="#cc3b1d" stroke-width="0.7"/>
<rect x="276.9" y="205.0" width="9.0" height="6.4" fill="#e84c29" stroke="#cc3b1d" stroke-width="0.7"/>
<rect x="271.3" y="202.7" width="9.0" height="6.4" fill="#e84c29" stroke="#cc3b1d" stroke-width="0.7"/>
<rect x="272.1" y="208.0" width="9.0" height="6.4" fill="#e84c29" stroke="#cc3b1d" stroke-width="0.7"/>
</g>
<line x1="180.8" y1="47.0" x2="180.8" y2="326.8" stroke="#b2e09a" stroke-width="2"/>
<line x1="262.7" y1="47.0" x2="262.7" y2="326.8" stroke="#b2e09a" stroke-width="2"/>
<line x1="78.6" y1="247.9" x2="365.0" y2="247.9" stroke="#b2e09a" stroke-width="2"/>
<line x1="78.6" y1="47.0" x2="365.0" y2="47.0" stroke="#6f7377" stroke-width="1.4"/>
<line x1="365.0" y1="47.0" x2="365.0" y2="326.8" stroke="#6f7377" stroke-width="1.4"/>
<line x1="78.6" y1="326.8" x2="365.0" y2="326.8" stroke="#7a7e82" stroke-width="1.6"/>
<line x1="78.6" y1="47.0" x2="78.6" y2="327.6" stroke="#3a3a3a" stroke-width="1.5"/>
<line x1="78.6" y1="316.4" x2="82.1" y2="316.4" stroke="#666" stroke-width="1.2"/>
<line x1="361.5" y1="316.4" x2="365.0" y2="316.4" stroke="#666" stroke-width="1.2"/>
<line x1="78.6" y1="263.8" x2="82.1" y2="263.8" stroke="#666" stroke-width="1.2"/>
<line x1="361.5" y1="263.8" x2="365.0" y2="263.8" stroke="#666" stroke-width="1.2"/>
<line x1="78.6" y1="211.2" x2="82.1" y2="211.2" stroke="#666" stroke-width="1.2"/>
<line x1="361.5" y1="211.2" x2="365.0" y2="211.2" stroke="#666" stroke-width="1.2"/>
<line x1="78.6" y1="158.5" x2="82.1" y2="158.5" stroke="#666" stroke-width="1.2"/>
<line x1="361.5" y1="158.5" x2="365.0" y2="158.5" stroke="#666" stroke-width="1.2"/>
<line x1="78.6" y1="105.9" x2="82.1" y2="105.9" stroke="#666" stroke-width="1.2"/>
<line x1="361.5" y1="105.9" x2="365.0" y2="105.9" stroke="#666" stroke-width="1.2"/>
<line x1="78.6" y1="53.3" x2="82.1" y2="53.3" stroke="#666" stroke-width="1.2"/>
<line x1="361.5" y1="53.3" x2="365.0" y2="53.3" stroke="#666" stroke-width="1.2"/>
<line x1="98.8" y1="323.8" x2="98.8" y2="326.8" stroke="#666" stroke-width="1.2"/>
<line x1="139.8" y1="323.8" x2="139.8" y2="326.8" stroke="#666" stroke-width="1.2"/>
<line x1="180.8" y1="323.8" x2="180.8" y2="326.8" stroke="#666" stroke-width="1.2"/>
<line x1="221.8" y1="323.8" x2="221.8" y2="326.8" stroke="#666" stroke-width="1.2"/>
<line x1="262.7" y1="323.8" x2="262.7" y2="326.8" stroke="#666" stroke-width="1.2"/>
<line x1="303.7" y1="323.8" x2="303.7" y2="326.8" stroke="#666" stroke-width="1.2"/>
<line x1="344.7" y1="323.8" x2="344.7" y2="326.8" stroke="#666" stroke-width="1.2"/>
<text x="76.0" y="322.2" font-size="21.01" text-anchor="end" textLength="11.29" lengthAdjust="spacingAndGlyphs" fill="#111" stroke="#111">0</text>
<text x="76.0" y="270.4" font-size="21.01" text-anchor="end" textLength="11.29" lengthAdjust="spacingAndGlyphs" fill="#111" stroke="#111">&#8199;</text><path d="M560,0 L560,1160 L205,935 L205,1105 L590,1409 L740,1409 L740,0 Z" transform="translate(64.71,270.40) scale(0.00991,-0.01026)" fill="#111" stroke="#111" stroke-width="0.3" vector-effect="non-scaling-stroke"/>
<text x="76.0" y="218.5" font-size="21.01" text-anchor="end" textLength="11.29" lengthAdjust="spacingAndGlyphs" fill="#111" stroke="#111">2</text>
<text x="76.0" y="166.7" font-size="21.01" text-anchor="end" textLength="11.29" lengthAdjust="spacingAndGlyphs" fill="#111" stroke="#111">3</text>
<text x="76.0" y="114.8" font-size="21.01" text-anchor="end" textLength="11.29" lengthAdjust="spacingAndGlyphs" fill="#111" stroke="#111">4</text>
<text x="76.0" y="63.0" font-size="21.01" text-anchor="end" textLength="11.29" lengthAdjust="spacingAndGlyphs" fill="#111" stroke="#111">5</text>
<text x="105.14" y="345.2" font-size="21.01" text-anchor="end" textLength="18.05" lengthAdjust="spacingAndGlyphs" fill="#111" stroke="#111">-3</text>
<text x="146.11" y="345.2" font-size="21.01" text-anchor="end" textLength="18.05" lengthAdjust="spacingAndGlyphs" fill="#111" stroke="#111">-2</text>
<text x="187.08" y="345.2" font-size="21.01" text-anchor="end" textLength="18.05" lengthAdjust="spacingAndGlyphs" fill="#111" stroke="#111">-&#8199;</text><path d="M560,0 L560,1160 L205,935 L205,1105 L590,1409 L740,1409 L740,0 Z" transform="translate(175.78,345.20) scale(0.00992,-0.01026)" fill="#111" stroke="#111" stroke-width="0.3" vector-effect="non-scaling-stroke"/>
<text x="221.75" y="345.2" font-size="21.01" text-anchor="middle" textLength="11.29" lengthAdjust="spacingAndGlyphs" fill="#111" stroke="#111">0</text>
<text x="262.72" y="345.2" font-size="21.01" text-anchor="middle" textLength="11.29" lengthAdjust="spacingAndGlyphs" fill="#111" stroke="#111">&#8199;</text><path d="M560,0 L560,1160 L205,935 L205,1105 L590,1409 L740,1409 L740,0 Z" transform="translate(257.08,345.20) scale(0.00991,-0.01026)" fill="#111" stroke="#111" stroke-width="0.3" vector-effect="non-scaling-stroke"/>
<text x="303.69" y="345.2" font-size="21.01" text-anchor="middle" textLength="11.29" lengthAdjust="spacingAndGlyphs" fill="#111" stroke="#111">2</text>
<text x="344.65999999999997" y="345.2" font-size="21.01" text-anchor="middle" textLength="11.29" lengthAdjust="spacingAndGlyphs" fill="#111" stroke="#111">3</text>
<text x="222.2" y="367.4" font-size="20.3" text-anchor="middle" fill="#111" stroke="#111">-log2(Fold Change)</text>
<text x="222.0" y="391.8" font-size="21.11" text-anchor="middle" textLength="58.27" lengthAdjust="spacingAndGlyphs" fill="#111" stroke="#111">T vs N</text>
<text x="0" y="0" font-size="20.3" text-anchor="middle" fill="#111" stroke="#111" transform="translate(57,181.5) rotate(-90)">-log&#8199;0(pvalue)</text><path d="M560,0 L560,1160 L205,935 L205,1105 L590,1409 L740,1409 L740,0 Z" transform="translate(57,181.5) rotate(-90) translate(-31.02,0.00) scale(0.00992,-0.00991)" fill="#111" stroke="#111" stroke-width="0.3" vector-effect="non-scaling-stroke"/>
<text x="399.6" y="22.9" font-size="30.0" textLength="20.61" lengthAdjust="spacingAndGlyphs" fill="#111" stroke="#111">B</text>
<text x="487.3" y="27.6" font-size="13.4" text-anchor="middle" fill="#111" stroke="#111">T</text>
<text x="568.2" y="28.4" font-size="13.4" text-anchor="middle" fill="#111" stroke="#111">N</text>
<rect x="449.9" y="33.3" width="67.6" height="2.3" fill="#111"/>
<rect x="533.2" y="33.3" width="67.5" height="2.3" fill="#111"/>
<rect x="446.40" y="43.20" width="27.55" height="16.70" fill="rgb(250, 170, 130)"/>
<rect x="473.65" y="43.20" width="27.55" height="16.70" fill="rgb(235, 225, 140)"/>
<rect x="500.90" y="43.20" width="27.55" height="16.70" fill="rgb(245, 130, 125)"/>
<rect x="528.15" y="43.20" width="27.55" height="16.70" fill="rgb(170, 215, 125)"/>
<rect x="555.40" y="43.20" width="27.55" height="16.70" fill="rgb(160, 215, 120)"/>
<rect x="582.65" y="43.20" width="27.55" height="16.70" fill="rgb(253, 225, 140)"/>
<rect x="446.40" y="59.60" width="27.55" height="16.70" fill="rgb(245, 140, 125)"/>
<rect x="473.65" y="59.60" width="27.55" height="16.70" fill="rgb(250, 185, 140)"/>
<rect x="500.90" y="59.60" width="27.55" height="16.70" fill="rgb(245, 165, 130)"/>
<rect x="528.15" y="59.60" width="27.55" height="16.70" fill="rgb(175, 220, 125)"/>
<rect x="555.40" y="59.60" width="27.55" height="16.70" fill="rgb(160, 215, 120)"/>
<rect x="582.65" y="59.60" width="27.55" height="16.70" fill="rgb(215, 225, 135)"/>
<rect x="446.40" y="76.00" width="27.55" height="16.70" fill="rgb(250, 185, 140)"/>
<rect x="473.65" y="76.00" width="27.55" height="16.70" fill="rgb(253, 228, 135)"/>
<rect x="500.90" y="76.00" width="27.55" height="16.70" fill="rgb(245, 125, 125)"/>
<rect x="528.15" y="76.00" width="27.55" height="16.70" fill="rgb(140, 210, 125)"/>
<rect x="555.40" y="76.00" width="27.55" height="16.70" fill="rgb(165, 215, 120)"/>
<rect x="582.65" y="76.00" width="27.55" height="16.70" fill="rgb(253, 220, 140)"/>
<rect x="446.40" y="92.40" width="27.55" height="16.70" fill="rgb(250, 180, 140)"/>
<rect x="473.65" y="92.40" width="27.55" height="16.70" fill="rgb(250, 185, 140)"/>
<rect x="500.90" y="92.40" width="27.55" height="16.70" fill="rgb(245, 130, 125)"/>
<rect x="528.15" y="92.40" width="27.55" height="16.70" fill="rgb(160, 215, 120)"/>
<rect x="555.40" y="92.40" width="27.55" height="16.70" fill="rgb(205, 220, 135)"/>
<rect x="582.65" y="92.40" width="27.55" height="16.70" fill="rgb(185, 215, 130)"/>
<rect x="446.40" y="108.80" width="27.55" height="16.70" fill="rgb(252, 200, 140)"/>
<rect x="473.65" y="108.80" width="27.55" height="16.70" fill="rgb(250, 185, 140)"/>
<rect x="500.90" y="108.80" width="27.55" height="16.70" fill="rgb(240, 120, 125)"/>
<rect x="528.15" y="108.80" width="27.55" height="16.70" fill="rgb(180, 215, 130)"/>
<rect x="555.40" y="108.80" width="27.55" height="16.70" fill="rgb(195, 218, 135)"/>
<rect x="582.65" y="108.80" width="27.55" height="16.70" fill="rgb(190, 215, 130)"/>
<rect x="446.40" y="125.20" width="27.55" height="16.70" fill="rgb(250, 180, 140)"/>
<rect x="473.65" y="125.20" width="27.55" height="16.70" fill="rgb(253, 210, 140)"/>
<rect x="500.90" y="125.20" width="27.55" height="16.70" fill="rgb(245, 125, 125)"/>
<rect x="528.15" y="125.20" width="27.55" height="16.70" fill="rgb(160, 215, 120)"/>
<rect x="555.40" y="125.20" width="27.55" height="16.70" fill="rgb(165, 215, 120)"/>
<rect x="582.65" y="125.20" width="27.55" height="16.70" fill="rgb(235, 220, 140)"/>
<rect x="446.40" y="141.60" width="27.55" height="16.70" fill="rgb(250, 160, 130)"/>
<rect x="473.65" y="141.60" width="27.55" height="16.70" fill="rgb(250, 160, 130)"/>
<rect x="500.90" y="141.60" width="27.55" height="16.70" fill="rgb(250, 155, 130)"/>
<rect x="528.15" y="141.60" width="27.55" height="16.70" fill="rgb(200, 220, 135)"/>
<rect x="555.40" y="141.60" width="27.55" height="16.70" fill="rgb(145, 210, 125)"/>
<rect x="582.65" y="141.60" width="27.55" height="16.70" fill="rgb(210, 222, 135)"/>
<rect x="446.40" y="158.00" width="27.55" height="16.70" fill="rgb(248, 145, 125)"/>
<rect x="473.65" y="158.00" width="27.55" height="16.70" fill="rgb(252, 205, 140)"/>
<rect x="500.90" y="158.00" width="27.55" height="16.70" fill="rgb(248, 150, 128)"/>
<rect x="528.15" y="158.00" width="27.55" height="16.70" fill="rgb(165, 215, 120)"/>
<rect x="555.40" y="158.00" width="27.55" height="16.70" fill="rgb(165, 215, 120)"/>
<rect x="582.65" y="158.00" width="27.55" height="16.70" fill="rgb(240, 222, 140)"/>
<rect x="446.40" y="174.40" width="27.55" height="16.70" fill="rgb(248, 150, 128)"/>
<rect x="473.65" y="174.40" width="27.55" height="16.70" fill="rgb(253, 228, 140)"/>
<rect x="500.90" y="174.40" width="27.55" height="16.70" fill="rgb(245, 130, 125)"/>
<rect x="528.15" y="174.40" width="27.55" height="16.70" fill="rgb(170, 217, 125)"/>
<rect x="555.40" y="174.40" width="27.55" height="16.70" fill="rgb(165, 215, 120)"/>
<rect x="582.65" y="174.40" width="27.55" height="16.70" fill="rgb(253, 228, 145)"/>
<rect x="446.40" y="190.80" width="27.55" height="16.70" fill="rgb(248, 155, 128)"/>
<rect x="473.65" y="190.80" width="27.55" height="16.70" fill="rgb(253, 215, 140)"/>
<rect x="500.90" y="190.80" width="27.55" height="16.70" fill="rgb(245, 140, 125)"/>
<rect x="528.15" y="190.80" width="27.55" height="16.70" fill="rgb(170, 217, 125)"/>
<rect x="555.40" y="190.80" width="27.55" height="16.70" fill="rgb(155, 212, 125)"/>
<rect x="582.65" y="190.80" width="27.55" height="16.70" fill="rgb(253, 228, 145)"/>
<rect x="446.40" y="207.20" width="27.55" height="16.70" fill="rgb(185, 215, 130)"/>
<rect x="473.65" y="207.20" width="27.55" height="16.70" fill="rgb(160, 215, 120)"/>
<rect x="500.90" y="207.20" width="27.55" height="16.70" fill="rgb(195, 218, 135)"/>
<rect x="528.15" y="207.20" width="27.55" height="16.70" fill="rgb(248, 155, 128)"/>
<rect x="555.40" y="207.20" width="27.55" height="16.70" fill="rgb(248, 170, 130)"/>
<rect x="582.65" y="207.20" width="27.55" height="16.70" fill="rgb(248, 160, 128)"/>
<rect x="446.40" y="223.60" width="27.55" height="16.70" fill="rgb(190, 218, 130)"/>
<rect x="473.65" y="223.60" width="27.55" height="16.70" fill="rgb(195, 218, 135)"/>
<rect x="500.90" y="223.60" width="27.55" height="16.70" fill="rgb(185, 215, 130)"/>
<rect x="528.15" y="223.60" width="27.55" height="16.70" fill="rgb(245, 130, 125)"/>
<rect x="555.40" y="223.60" width="27.55" height="16.70" fill="rgb(252, 200, 140)"/>
<rect x="582.65" y="223.60" width="27.55" height="16.70" fill="rgb(248, 175, 135)"/>
<rect x="446.40" y="240.00" width="27.55" height="16.70" fill="rgb(205, 220, 135)"/>
<rect x="473.65" y="240.00" width="27.55" height="16.70" fill="rgb(150, 212, 122)"/>
<rect x="500.90" y="240.00" width="27.55" height="16.70" fill="rgb(205, 222, 135)"/>
<rect x="528.15" y="240.00" width="27.55" height="16.70" fill="rgb(252, 195, 140)"/>
<rect x="555.40" y="240.00" width="27.55" height="16.70" fill="rgb(248, 160, 128)"/>
<rect x="582.65" y="240.00" width="27.55" height="16.70" fill="rgb(245, 140, 125)"/>
<rect x="446.40" y="256.40" width="27.55" height="16.70" fill="rgb(185, 215, 130)"/>
<rect x="473.65" y="256.40" width="27.55" height="16.70" fill="rgb(185, 215, 130)"/>
<rect x="500.90" y="256.40" width="27.55" height="16.70" fill="rgb(180, 215, 130)"/>
<rect x="528.15" y="256.40" width="27.55" height="16.70" fill="rgb(248, 160, 128)"/>
<rect x="555.40" y="256.40" width="27.55" height="16.70" fill="rgb(248, 175, 135)"/>
<rect x="582.65" y="256.40" width="27.55" height="16.70" fill="rgb(248, 150, 128)"/>
<rect x="446.40" y="272.80" width="27.55" height="16.70" fill="rgb(170, 217, 125)"/>
<rect x="473.65" y="272.80" width="27.55" height="16.70" fill="rgb(180, 215, 130)"/>
<rect x="500.90" y="272.80" width="27.55" height="16.70" fill="rgb(205, 220, 135)"/>
<rect x="528.15" y="272.80" width="27.55" height="16.70" fill="rgb(248, 180, 135)"/>
<rect x="555.40" y="272.80" width="27.55" height="16.70" fill="rgb(248, 155, 128)"/>
<rect x="582.65" y="272.80" width="27.55" height="16.70" fill="rgb(248, 150, 128)"/>
<rect x="446.40" y="289.20" width="27.55" height="16.70" fill="rgb(170, 217, 125)"/>
<rect x="473.65" y="289.20" width="27.55" height="16.70" fill="rgb(180, 215, 130)"/>
<rect x="500.90" y="289.20" width="27.55" height="16.70" fill="rgb(210, 222, 135)"/>
<rect x="528.15" y="289.20" width="27.55" height="16.70" fill="rgb(245, 130, 125)"/>
<rect x="555.40" y="289.20" width="27.55" height="16.70" fill="rgb(252, 200, 140)"/>
<rect x="582.65" y="289.20" width="27.55" height="16.70" fill="rgb(248, 165, 130)"/>
<rect x="446.40" y="305.60" width="27.55" height="16.70" fill="rgb(215, 225, 140)"/>
<rect x="473.65" y="305.60" width="27.55" height="16.70" fill="rgb(125, 205, 125)"/>
<rect x="500.90" y="305.60" width="27.55" height="16.70" fill="rgb(225, 225, 135)"/>
<rect x="528.15" y="305.60" width="27.55" height="16.70" fill="rgb(245, 130, 125)"/>
<rect x="555.40" y="305.60" width="27.55" height="16.70" fill="rgb(252, 195, 140)"/>
<rect x="582.65" y="305.60" width="27.55" height="16.70" fill="rgb(250, 185, 140)"/>
<rect x="446.40" y="322.00" width="27.55" height="16.70" fill="rgb(215, 225, 140)"/>
<rect x="473.65" y="322.00" width="27.55" height="16.70" fill="rgb(125, 205, 125)"/>
<rect x="500.90" y="322.00" width="27.55" height="16.70" fill="rgb(225, 225, 135)"/>
<rect x="528.15" y="322.00" width="27.55" height="16.70" fill="rgb(245, 130, 125)"/>
<rect x="555.40" y="322.00" width="27.55" height="16.70" fill="rgb(252, 195, 140)"/>
<rect x="582.65" y="322.00" width="27.55" height="16.70" fill="rgb(250, 185, 140)"/>
<rect x="446.40" y="338.40" width="27.55" height="16.70" fill="rgb(210, 222, 135)"/>
<rect x="473.65" y="338.40" width="27.55" height="16.70" fill="rgb(190, 218, 130)"/>
<rect x="500.90" y="338.40" width="27.55" height="16.70" fill="rgb(165, 215, 120)"/>
<rect x="528.15" y="338.40" width="27.55" height="16.70" fill="rgb(248, 175, 135)"/>
<rect x="555.40" y="338.40" width="27.55" height="16.70" fill="rgb(245, 140, 125)"/>
<rect x="582.65" y="338.40" width="27.55" height="16.70" fill="rgb(248, 180, 138)"/>
<rect x="446.40" y="354.80" width="27.55" height="16.70" fill="rgb(160, 215, 120)"/>
<rect x="473.65" y="354.80" width="27.55" height="16.70" fill="rgb(215, 225, 135)"/>
<rect x="500.90" y="354.80" width="27.55" height="16.70" fill="rgb(180, 215, 130)"/>
<rect x="528.15" y="354.80" width="27.55" height="16.70" fill="rgb(245, 130, 125)"/>
<rect x="555.40" y="354.80" width="27.55" height="16.70" fill="rgb(252, 190, 140)"/>
<rect x="582.65" y="354.80" width="27.55" height="16.70" fill="rgb(250, 180, 138)"/>
<text x="610.4" y="56.4" font-size="14.2" font-weight="bold" textLength="51.4" lengthAdjust="spacingAndGlyphs" fill="#e5482a" stroke="#e5482a">cGLIS2</text>
<text x="610.4" y="72.9" font-size="14.0" textLength="54.7" lengthAdjust="spacingAndGlyphs" fill="#111" stroke="#111">cPTBP3</text>
<text x="610.4" y="89.4" font-size="14.0" textLength="45.6" lengthAdjust="spacingAndGlyphs" fill="#111" stroke="#111">cSKA3</text>
<text x="610.4" y="105.8" font-size="14.0" textLength="61.3" lengthAdjust="spacingAndGlyphs" fill="#111" stroke="#111">cFBXL&#8199;3</text><path d="M560,0 L560,1160 L205,935 L205,1105 L590,1409 L740,1409 L740,0 Z" transform="translate(655.10,105.80) scale(0.00730,-0.00684)" fill="#111" stroke="#111" stroke-width="0.3" vector-effect="non-scaling-stroke"/>
<text x="610.4" y="122.3" font-size="14.0" textLength="57.2" lengthAdjust="spacingAndGlyphs" fill="#111" stroke="#111">cEIF2S2</text>
<text x="610.4" y="138.8" font-size="14.0" textLength="67.1" lengthAdjust="spacingAndGlyphs" fill="#111" stroke="#111">cACVR2A</text>
<text x="610.4" y="155.3" font-size="14.0" textLength="56.3" lengthAdjust="spacingAndGlyphs" fill="#111" stroke="#111">cCSPP&#8199;</text><path d="M560,0 L560,1160 L205,935 L205,1105 L590,1409 L740,1409 L740,0 Z" transform="translate(658.39,155.30) scale(0.00730,-0.00684)" fill="#111" stroke="#111" stroke-width="0.3" vector-effect="non-scaling-stroke"/>
<text x="610.4" y="171.8" font-size="14.0" textLength="57.2" lengthAdjust="spacingAndGlyphs" fill="#111" stroke="#111">cMKLN&#8199;</text><path d="M560,0 L560,1160 L205,935 L205,1105 L590,1409 L740,1409 L740,0 Z" transform="translate(659.29,171.80) scale(0.00729,-0.00684)" fill="#111" stroke="#111" stroke-width="0.3" vector-effect="non-scaling-stroke"/>
<text x="610.4" y="188.2" font-size="14.0" textLength="72.9" lengthAdjust="spacingAndGlyphs" fill="#111" stroke="#111">cFAM&#8199;26A</text><path d="M560,0 L560,1160 L205,935 L205,1105 L590,1409 L740,1409 L740,0 Z" transform="translate(648.47,188.20) scale(0.00730,-0.00684)" fill="#111" stroke="#111" stroke-width="0.3" vector-effect="non-scaling-stroke"/>
<text x="610.4" y="204.7" font-size="14.0" textLength="72.9" lengthAdjust="spacingAndGlyphs" fill="#111" stroke="#111">cFAM&#8199;26A</text><path d="M560,0 L560,1160 L205,935 L205,1105 L590,1409 L740,1409 L740,0 Z" transform="translate(648.47,204.70) scale(0.00730,-0.00684)" fill="#111" stroke="#111" stroke-width="0.3" vector-effect="non-scaling-stroke"/>
<text x="610.4" y="221.2" font-size="14.0" textLength="49.7" lengthAdjust="spacingAndGlyphs" fill="#111" stroke="#111">cNEMF</text>
<text x="610.4" y="237.7" font-size="14.0" textLength="66.3" lengthAdjust="spacingAndGlyphs" fill="#111" stroke="#111">cNEDD4L</text>
<text x="610.4" y="254.2" font-size="14.0" textLength="59.6" lengthAdjust="spacingAndGlyphs" fill="#111" stroke="#111">cPRDM5</text>
<text x="610.4" y="270.6" font-size="14.0" textLength="63.8" lengthAdjust="spacingAndGlyphs" fill="#111" stroke="#111">cNUP&#8199;55</text><path d="M560,0 L560,1160 L205,935 L205,1105 L590,1409 L740,1409 L740,0 Z" transform="translate(649.31,270.60) scale(0.00730,-0.00684)" fill="#111" stroke="#111" stroke-width="0.3" vector-effect="non-scaling-stroke"/>
<text x="610.4" y="287.1" font-size="14.0" textLength="57.2" lengthAdjust="spacingAndGlyphs" fill="#111" stroke="#111">cNPHP4</text>
<text x="610.4" y="303.6" font-size="14.0" textLength="43.1" lengthAdjust="spacingAndGlyphs" fill="#111" stroke="#111">cTRIO</text>
<text x="610.4" y="320.1" font-size="14.0" textLength="53.0" lengthAdjust="spacingAndGlyphs" fill="#111" stroke="#111">cICAM&#8199;</text><path d="M560,0 L560,1160 L205,935 L205,1105 L590,1409 L740,1409 L740,0 Z" transform="translate(655.10,320.10) scale(0.00729,-0.00684)" fill="#111" stroke="#111" stroke-width="0.3" vector-effect="non-scaling-stroke"/>
<text x="610.4" y="336.6" font-size="14.0" textLength="69.6" lengthAdjust="spacingAndGlyphs" fill="#111" stroke="#111">cBCKDHA</text>
<text x="610.4" y="353.0" font-size="14.0" textLength="58.8" lengthAdjust="spacingAndGlyphs" fill="#111" stroke="#111">cSAMD8</text>
<text x="610.4" y="369.5" font-size="14.0" textLength="53.9" lengthAdjust="spacingAndGlyphs" fill="#111" stroke="#111">cAP3S&#8199;</text><path d="M560,0 L560,1160 L205,935 L205,1105 L590,1409 L740,1409 L740,0 Z" transform="translate(655.99,369.50) scale(0.00729,-0.00684)" fill="#111" stroke="#111" stroke-width="0.3" vector-effect="non-scaling-stroke"/>
<rect x="446.10" y="375" width="7.74" height="11.8" fill="rgb(126, 201, 123)"/>
<rect x="453.54" y="375" width="7.74" height="11.8" fill="rgb(138, 204, 124)"/>
<rect x="460.98" y="375" width="7.74" height="11.8" fill="rgb(150, 206, 125)"/>
<rect x="468.42" y="375" width="7.74" height="11.8" fill="rgb(162, 209, 126)"/>
<rect x="475.86" y="375" width="7.74" height="11.8" fill="rgb(174, 211, 127)"/>
<rect x="483.30" y="375" width="7.74" height="11.8" fill="rgb(186, 214, 128)"/>
<rect x="490.75" y="375" width="7.74" height="11.8" fill="rgb(199, 217, 130)"/>
<rect x="498.19" y="375" width="7.74" height="11.8" fill="rgb(211, 219, 131)"/>
<rect x="505.63" y="375" width="7.74" height="11.8" fill="rgb(223, 222, 132)"/>
<rect x="513.07" y="375" width="7.74" height="11.8" fill="rgb(235, 224, 133)"/>
<rect x="520.51" y="375" width="7.74" height="11.8" fill="rgb(247, 227, 134)"/>
<rect x="527.95" y="375" width="7.74" height="11.8" fill="rgb(253, 223, 134)"/>
<rect x="535.39" y="375" width="7.74" height="11.8" fill="rgb(252, 212, 133)"/>
<rect x="542.83" y="375" width="7.74" height="11.8" fill="rgb(251, 202, 131)"/>
<rect x="550.27" y="375" width="7.74" height="11.8" fill="rgb(250, 191, 130)"/>
<rect x="557.71" y="375" width="7.74" height="11.8" fill="rgb(250, 181, 128)"/>
<rect x="565.15" y="375" width="7.74" height="11.8" fill="rgb(249, 170, 126)"/>
<rect x="572.60" y="375" width="7.74" height="11.8" fill="rgb(248, 159, 125)"/>
<rect x="580.04" y="375" width="7.74" height="11.8" fill="rgb(248, 149, 123)"/>
<rect x="587.48" y="375" width="7.74" height="11.8" fill="rgb(247, 138, 122)"/>
<rect x="594.92" y="375" width="7.74" height="11.8" fill="rgb(246, 128, 120)"/>
<rect x="602.36" y="375" width="7.74" height="11.8" fill="rgb(245, 117, 119)"/>
<text x="430.0" y="385.9" font-size="17.0" fill="#111" stroke="#111">-&#8199;</text><path d="M560,0 L560,1160 L205,935 L205,1105 L590,1409 L740,1409 L740,0 Z" transform="translate(435.66,385.90) scale(0.00831,-0.00830)" fill="#111" stroke="#111" stroke-width="0.3" vector-effect="non-scaling-stroke"/>
<text x="609.6" y="385.9" font-size="17.0" fill="#111" stroke="#111">+&#8199;</text><path d="M560,0 L560,1160 L205,935 L205,1105 L590,1409 L740,1409 L740,0 Z" transform="translate(619.52,385.90) scale(0.00831,-0.00830)" fill="#111" stroke="#111" stroke-width="0.3" vector-effect="non-scaling-stroke"/>
<text x="1.0" y="453.6" font-size="30.5" fill="#111" stroke="#111">C</text>
<text x="229.4" y="448" font-size="21.8" text-anchor="middle" fill="#111" stroke="#111">cGLIS2</text>
<line x1="85.5" y1="468.4" x2="85.5" y2="653" stroke="#111" stroke-width="2"/>
<line x1="80.1" y1="652.2" x2="361" y2="652.2" stroke="#111" stroke-width="1.9"/>
<line x1="80.1" y1="652.2" x2="85.5" y2="652.2" stroke="#111" stroke-width="1.8"/>
<text x="73.6" y="655.9" font-size="22.26" text-anchor="end" textLength="11.68" lengthAdjust="spacingAndGlyphs" fill="#111" stroke="#111">0</text>
<line x1="80.1" y1="591.2" x2="85.5" y2="591.2" stroke="#111" stroke-width="1.8"/>
<text x="73.6" y="595.7" font-size="22.26" text-anchor="end" textLength="11.68" lengthAdjust="spacingAndGlyphs" fill="#111" stroke="#111">2</text>
<line x1="80.1" y1="530.3" x2="85.5" y2="530.3" stroke="#111" stroke-width="1.8"/>
<text x="73.6" y="534.6" font-size="22.26" text-anchor="end" textLength="11.68" lengthAdjust="spacingAndGlyphs" fill="#111" stroke="#111">4</text>
<line x1="80.1" y1="469.3" x2="85.5" y2="469.3" stroke="#111" stroke-width="1.8"/>
<text x="73.6" y="476.1" font-size="22.26" text-anchor="end" textLength="11.68" lengthAdjust="spacingAndGlyphs" fill="#111" stroke="#111">6</text>
<text x="0" y="0" font-size="23.3" text-anchor="middle" textLength="191" lengthAdjust="spacingAndGlyphs" fill="#111" stroke="#111" transform="translate(48,555.6) rotate(-90)">Relative expression</text>
<rect x="98.3" y="621.7" width="24.7" height="30.5" fill="#151515"/>
<rect x="104.5" y="617.0" width="12.2" height="3.3" fill="#111"/>
<rect x="109.0" y="617.0" width="3.3" height="4.7" fill="#111"/>
<line x1="110.6" y1="652.2" x2="110.6" y2="658.0" stroke="#111" stroke-width="1.8"/>
<text x="0" y="0" font-size="21.7" text-anchor="end" fill="#111" stroke="#111" transform="translate(118.6,670.2) rotate(-45)">NCM460</text>
<rect x="135.1" y="500.2" width="24.7" height="152.0" fill="#a0a3ab"/>
<rect x="141.3" y="490.8" width="12.2" height="3.3" fill="#111"/>
<rect x="145.8" y="490.8" width="3.3" height="9.4" fill="#111"/>
<line x1="147.4" y1="652.2" x2="147.4" y2="658.0" stroke="#111" stroke-width="1.8"/>
<text x="140.9" y="493.9" font-size="25.5" text-anchor="middle" font-weight="bold" fill="#111" stroke="#111">*</text>
<text x="152.1" y="493.9" font-size="25.5" text-anchor="middle" font-weight="bold" fill="#111" stroke="#111">*</text>
<text x="0" y="0" font-size="21.7" text-anchor="end" fill="#111" stroke="#111" transform="translate(161.9,670.2) rotate(-45)">HCT-&#8199;5</text><path d="M560,0 L560,1160 L205,935 L205,1105 L590,1409 L740,1409 L740,0 Z" transform="translate(161.9,670.2) rotate(-45) translate(-24.14,0.00) scale(0.01060,-0.01060)" fill="#111" stroke="#111" stroke-width="0.3" vector-effect="non-scaling-stroke"/>
<rect x="172.7" y="569.1" width="24.7" height="83.1" fill="#a0a3ab"/>
<rect x="178.9" y="561.9" width="12.2" height="3.3" fill="#111"/>
<rect x="183.4" y="561.9" width="3.3" height="7.2" fill="#111"/>
<line x1="185.0" y1="652.2" x2="185.0" y2="658.0" stroke="#111" stroke-width="1.8"/>
<text x="179.8" y="565.5" font-size="25.5" text-anchor="middle" font-weight="bold" fill="#111" stroke="#111">*</text>
<text x="191.0" y="565.5" font-size="25.5" text-anchor="middle" font-weight="bold" fill="#111" stroke="#111">*</text>
<text x="0" y="0" font-size="21.7" text-anchor="end" fill="#111" stroke="#111" transform="translate(194.5,670.2) rotate(-45)">RKO</text>
<rect x="210.1" y="574.1" width="24.7" height="78.1" fill="#a0a3ab"/>
<rect x="216.3" y="565.4" width="12.2" height="3.3" fill="#111"/>
<rect x="220.8" y="565.4" width="3.3" height="8.7" fill="#111"/>
<line x1="222.4" y1="652.2" x2="222.4" y2="658.0" stroke="#111" stroke-width="1.8"/>
<text x="214.3" y="570.4" font-size="25.5" text-anchor="middle" font-weight="bold" fill="#111" stroke="#111">*</text>
<text x="225.5" y="570.4" font-size="25.5" text-anchor="middle" font-weight="bold" fill="#111" stroke="#111">*</text>
<text x="0" y="0" font-size="21.7" text-anchor="end" fill="#111" stroke="#111" transform="translate(231.1,670.2) rotate(-45)">HCT&#8199;&#8199;6</text><path d="M560,0 L560,1160 L205,935 L205,1105 L590,1409 L740,1409 L740,0 Z" transform="translate(231.1,670.2) rotate(-45) translate(-34.59,0.00) scale(0.00919,-0.01060)" fill="#111" stroke="#111" stroke-width="0.3" vector-effect="non-scaling-stroke"/><path d="M560,0 L560,1160 L205,935 L205,1105 L590,1409 L740,1409 L740,0 Z" transform="translate(231.1,670.2) rotate(-45) translate(-24.14,0.00) scale(0.01060,-0.01060)" fill="#111" stroke="#111" stroke-width="0.3" vector-effect="non-scaling-stroke"/>
<rect x="247.5" y="576.3" width="24.7" height="75.9" fill="#a0a3ab"/>
<rect x="253.8" y="564.9" width="12.2" height="3.3" fill="#111"/>
<rect x="258.2" y="564.9" width="3.3" height="11.4" fill="#111"/>
<line x1="259.9" y1="652.2" x2="259.9" y2="658.0" stroke="#111" stroke-width="1.8"/>
<text x="252.1" y="569.7" font-size="25.5" text-anchor="middle" font-weight="bold" fill="#111" stroke="#111">*</text>
<text x="263.3" y="569.7" font-size="25.5" text-anchor="middle" font-weight="bold" fill="#111" stroke="#111">*</text>
<text x="0" y="0" font-size="21.7" text-anchor="end" fill="#111" stroke="#111" transform="translate(267.9,670.9) rotate(-45)">HT-29</text>
<rect x="285.0" y="607.4" width="24.7" height="44.8" fill="#a0a3ab"/>
<rect x="291.2" y="604.5" width="12.2" height="3.3" fill="#111"/>
<rect x="295.7" y="604.5" width="3.3" height="2.9" fill="#111"/>
<line x1="297.4" y1="652.2" x2="297.4" y2="658.0" stroke="#111" stroke-width="1.8"/>
<text x="289.4" y="607.0" font-size="25.5" text-anchor="middle" font-weight="bold" fill="#111" stroke="#111">*</text>
<text x="300.6" y="607.0" font-size="25.5" text-anchor="middle" font-weight="bold" fill="#111" stroke="#111">*</text>
<text x="0" y="0" font-size="21.7" text-anchor="end" fill="#111" stroke="#111" transform="translate(305.4,670.9) rotate(-45)">HCT-8</text>
<rect x="322.3" y="626.2" width="24.7" height="26.0" fill="#a0a3ab"/>
<rect x="328.6" y="618.8" width="12.2" height="3.3" fill="#111"/>
<rect x="333.0" y="618.8" width="3.3" height="7.4" fill="#111"/>
<line x1="334.7" y1="652.2" x2="334.7" y2="658.0" stroke="#111" stroke-width="1.8"/>
<text x="0" y="0" font-size="21.7" text-anchor="end" fill="#111" stroke="#111" transform="translate(342.7,670.9) rotate(-45)">DLD&#8199;</text><path d="M560,0 L560,1160 L205,935 L205,1105 L590,1409 L740,1409 L740,0 Z" transform="translate(342.7,670.9) rotate(-45) translate(-12.08,0.00) scale(0.01060,-0.01060)" fill="#111" stroke="#111" stroke-width="0.3" vector-effect="non-scaling-stroke"/>
<text x="400.5" y="452.9" font-size="30.16" textLength="20.94" lengthAdjust="spacingAndGlyphs" fill="#111" stroke="#111">D</text>
<text x="581.9" y="447.7" font-size="21.8" text-anchor="middle" fill="#111" stroke="#111">cGLIS2</text>
<line x1="481.2" y1="461.7" x2="481.2" y2="657.4" stroke="#111" stroke-width="1.8"/>
<line x1="475.8" y1="656.9" x2="674" y2="656.9" stroke="#111" stroke-width="2.0"/>
<text x="473.6" y="658.9" font-size="19.4" text-anchor="end" fill="#111" stroke="#111">0</text>
<line x1="475.8" y1="591.4" x2="481.2" y2="591.4" stroke="#111" stroke-width="1.8"/>
<text x="473.6" y="594.4" font-size="19.4" text-anchor="end" fill="#111" stroke="#111">200</text>
<line x1="475.8" y1="526.9" x2="481.2" y2="526.9" stroke="#111" stroke-width="1.8"/>
<text x="473.6" y="529.9" font-size="19.4" text-anchor="end" fill="#111" stroke="#111">400</text>
<line x1="475.8" y1="462.4" x2="481.2" y2="462.4" stroke="#111" stroke-width="1.8"/>
<text x="473.6" y="465.4" font-size="19.4" text-anchor="end" fill="#111" stroke="#111">600</text>
<text x="0" y="0" font-size="23.0" text-anchor="middle" textLength="193" lengthAdjust="spacingAndGlyphs" fill="#111" stroke="#111" transform="translate(435.5,559.3) rotate(-90)">Relative expression</text>
<line x1="535.5" y1="656.9" x2="535.5" y2="661.6" stroke="#111" stroke-width="1.8"/>
<line x1="617.9" y1="656.9" x2="617.9" y2="661.6" stroke="#111" stroke-width="1.8"/>
<text x="536.6" y="679.9" font-size="23.64" text-anchor="middle" textLength="16.10" lengthAdjust="spacingAndGlyphs" fill="#111" stroke="#111">N</text>
<text x="618.0" y="679.9" font-size="23.64" text-anchor="middle" textLength="13.62" lengthAdjust="spacingAndGlyphs" fill="#111" stroke="#111">T</text>
<text x="574.0" y="708.4" font-size="22.0" text-anchor="middle" fill="#111" stroke="#111">GSE&#8199;26094, n=&#8199;0</text><path d="M560,0 L560,1160 L205,935 L205,1105 L590,1409 L740,1409 L740,0 Z" transform="translate(529.62,708.40) scale(0.01076,-0.01074)" fill="#111" stroke="#111" stroke-width="0.3" vector-effect="non-scaling-stroke"/><path d="M560,0 L560,1160 L205,935 L205,1105 L590,1409 L740,1409 L740,0 Z" transform="translate(640.34,708.40) scale(0.01076,-0.01074)" fill="#111" stroke="#111" stroke-width="0.3" vector-effect="non-scaling-stroke"/>
<circle cx="535.6" cy="571.7" r="3.95" fill="#111"/>
<circle cx="523.7" cy="588" r="3.95" fill="#111"/>
<circle cx="535.6" cy="588.5" r="3.95" fill="#111"/>
<circle cx="547.7" cy="588" r="3.95" fill="#111"/>
<circle cx="541.4" cy="595.7" r="3.95" fill="#111"/>
<circle cx="523.7" cy="600.2" r="3.95" fill="#111"/>
<circle cx="529.8" cy="609.5" r="3.95" fill="#111"/>
<circle cx="541.4" cy="619.6" r="3.95" fill="#111"/>
<circle cx="529.8" cy="632.9" r="3.95" fill="#111"/>
<circle cx="541.4" cy="632" r="3.95" fill="#111"/>
<line x1="535.6" y1="582.2" x2="535.6" y2="623.1" stroke="#111" stroke-width="2.4"/>
<line x1="522" y1="582.2" x2="549.6" y2="582.2" stroke="#111" stroke-width="2.4"/>
<line x1="522" y1="623.1" x2="549.6" y2="623.1" stroke="#111" stroke-width="2.4"/>
<line x1="508.5" y1="602.7" x2="562.9" y2="602.7" stroke="#111" stroke-width="2.4"/>
<rect x="614.0" y="487.5" width="7.8" height="7.8" fill="#111"/>
<rect x="614.0" y="514.9" width="7.8" height="7.8" fill="#111"/>
<rect x="614.0" y="544.6" width="7.8" height="7.8" fill="#111"/>
<rect x="596.2" y="559.9" width="7.8" height="7.8" fill="#111"/>
<rect x="608.1" y="564.7" width="7.8" height="7.8" fill="#111"/>
<rect x="631.6" y="563.7" width="7.8" height="7.8" fill="#111"/>
<rect x="620.1" y="569.8" width="7.8" height="7.8" fill="#111"/>
<rect x="602.3" y="585.7" width="7.8" height="7.8" fill="#111"/>
<rect x="614.0" y="592.4" width="7.8" height="7.8" fill="#111"/>
<rect x="625.9" y="590.1" width="7.8" height="7.8" fill="#111"/>
<line x1="617.9" y1="527.4" x2="617.9" y2="595.4" stroke="#111" stroke-width="2.4"/>
<line x1="604.3" y1="527.4" x2="631.7" y2="527.4" stroke="#111" stroke-width="2.4"/>
<line x1="604.3" y1="595.4" x2="631.7" y2="595.4" stroke="#111" stroke-width="2.4"/>
<line x1="590.5" y1="561.5" x2="645.5" y2="561.5" stroke="#111" stroke-width="2.4"/>
<text x="613.5" y="478.4" font-size="25.5" text-anchor="middle" font-weight="bold" fill="#111" stroke="#111">*</text>
<text x="624.0" y="478.4" font-size="25.5" text-anchor="middle" font-weight="bold" fill="#111" stroke="#111">*</text>
</svg></body></html>
